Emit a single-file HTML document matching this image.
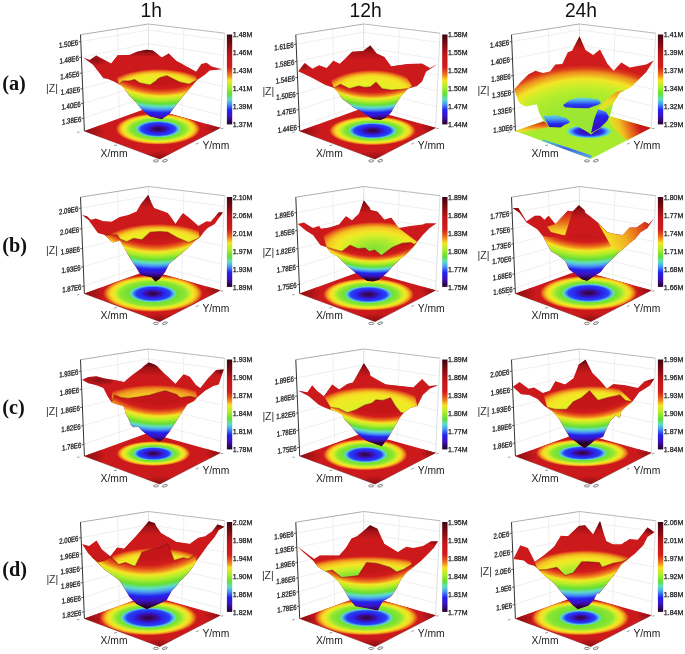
<!DOCTYPE html>
<html><head><meta charset="utf-8"><title>figure</title>
<style>html,body{margin:0;padding:0;background:#fff;width:685px;height:654px;overflow:hidden}svg{display:block;will-change:transform;filter:blur(0.4px)}</style>
</head><body><svg width="685" height="654" viewBox="0 0 685 654"><defs><clipPath id="clip1"><polygon points="84.4,131.1 159.7,159.1 220.3,127.8 148.4,107.7"/></clipPath><radialGradient id="rg2" gradientUnits="userSpaceOnUse" cx="0" cy="0" r="1" gradientTransform="translate(84.4 131.1) rotate(0) scale(22.40 9.80)"><stop offset="0.000" stop-color="#7a0c10"/><stop offset="0.500" stop-color="#a01216"/><stop offset="1.000" stop-color="#cc1a1c"/></radialGradient><radialGradient id="rg3" gradientUnits="userSpaceOnUse" cx="0" cy="0" r="1" gradientTransform="translate(159.7 159.1) rotate(0) scale(19.20 8.40)"><stop offset="0.000" stop-color="#7a0c10"/><stop offset="0.500" stop-color="#a01216"/><stop offset="1.000" stop-color="#cc1a1c"/></radialGradient><radialGradient id="rg4" gradientUnits="userSpaceOnUse" cx="0" cy="0" r="1" gradientTransform="translate(220.3 127.8) rotate(0) scale(16.00 7.00)"><stop offset="0.000" stop-color="#7a0c10"/><stop offset="0.500" stop-color="#a01216"/><stop offset="1.000" stop-color="#cc1a1c"/></radialGradient><radialGradient id="rg5" gradientUnits="userSpaceOnUse" cx="0" cy="0" r="1" gradientTransform="translate(158.0 129.0) rotate(0) scale(42.39 15.76)"><stop offset="0.000" stop-color="#2a0630"/><stop offset="0.109" stop-color="#3a0a70"/><stop offset="0.202" stop-color="#3a10b8"/><stop offset="0.273" stop-color="#2626ee"/><stop offset="0.403" stop-color="#2a40f0"/><stop offset="0.460" stop-color="#4aa0f2"/><stop offset="0.500" stop-color="#60dcc4"/><stop offset="0.540" stop-color="#70e034"/><stop offset="0.660" stop-color="#8ee632"/><stop offset="0.740" stop-color="#c8ee2a"/><stop offset="0.800" stop-color="#f4e624"/><stop offset="0.860" stop-color="#f4d024"/><stop offset="0.920" stop-color="#ec8a1e"/><stop offset="0.970" stop-color="#dc3a1a"/><stop offset="1.000" stop-color="#cc1a1c"/></radialGradient><linearGradient id="pg6" gradientUnits="userSpaceOnUse" x1="0" y1="49.7" x2="0" y2="57.7"><stop offset="0" stop-color="#4a0610" stop-opacity="1"/><stop offset="0.45" stop-color="#8a0e14" stop-opacity="0.6"/><stop offset="1" stop-color="#8a0e14" stop-opacity="0"/></linearGradient><clipPath id="sc7"><polygon points="83.2,57.5 89.7,60.1 96.2,55.6 111.2,63.4 117.7,55.3 129.4,54.9 137.1,51.7 146.2,49.7 152.7,50.4 155.2,52.3 161.7,57.5 168.8,53.6 176.0,60.8 186.4,66.6 196.1,71.8 201.3,64.0 206.5,62.7 211.7,66.6 222.1,69.2 209.7,70.5 204.5,75.0 196.8,80.3 189.0,89.4 182.5,97.0 176.0,105.0 169.5,114.0 161.7,119.2 150.0,116.6 145.0,112.7 141.0,108.8 135.8,102.3 129.4,95.8 122.9,86.8 119.0,84.2 113.8,81.6 107.9,79.0 103.4,78.3 93.0,64.7"/></clipPath><radialGradient id="rg8" gradientUnits="userSpaceOnUse" cx="0" cy="0" r="1" gradientTransform="translate(95.0 60.0) rotate(0) scale(14.00 6.00)"><stop offset="0.000" stop-color="#4a0610"/><stop offset="0.500" stop-color="#6a0a12"/><stop offset="1.000" stop-color="#8a0e14"/></radialGradient><radialGradient id="dk9" gradientUnits="userSpaceOnUse" cx="0" cy="0" r="1" gradientTransform="translate(95.0 60.0) scale(14.0 6.0)"><stop offset="0" stop-color="#4a0610" stop-opacity="0.55"/><stop offset="0.6" stop-color="#6a0a12" stop-opacity="0.28"/><stop offset="1" stop-color="#8a0e14" stop-opacity="0"/></radialGradient><radialGradient id="rg10" gradientUnits="userSpaceOnUse" cx="0" cy="0" r="1" gradientTransform="translate(158.0 90.0) rotate(0) scale(52.00 21.00)"><stop offset="0.000" stop-color="#c8ee2a"/><stop offset="0.500" stop-color="#e8ee26"/><stop offset="0.720" stop-color="#f4e624"/><stop offset="0.800" stop-color="#f4d024"/><stop offset="0.870" stop-color="#f0a020"/><stop offset="0.930" stop-color="#e8661c"/><stop offset="0.970" stop-color="#dc3a1a"/><stop offset="1.000" stop-color="#cc1a1c"/></radialGradient><radialGradient id="rg11" gradientUnits="userSpaceOnUse" cx="0" cy="0" r="1" gradientTransform="translate(161.7 20.3) rotate(0) scale(115.82 100.60)"><stop offset="0.000" stop-color="#c41619"/><stop offset="0.630" stop-color="#c41619"/><stop offset="0.680" stop-color="#d21c1c"/><stop offset="0.705" stop-color="#e04a1a"/><stop offset="0.730" stop-color="#f08a1e"/><stop offset="0.755" stop-color="#f4e624"/><stop offset="0.790" stop-color="#b4ee2a"/><stop offset="0.830" stop-color="#66de34"/><stop offset="0.860" stop-color="#60dcc4"/><stop offset="0.885" stop-color="#4a9ef2"/><stop offset="0.920" stop-color="#2222ee"/><stop offset="0.955" stop-color="#3e10c2"/><stop offset="1.000" stop-color="#260026"/></radialGradient><linearGradient id="lg12" gradientUnits="userSpaceOnUse" x1="0.0" y1="34.5" x2="0.0" y2="124.4"><stop offset="0.000" stop-color="#3a0612"/><stop offset="0.100" stop-color="#780a12"/><stop offset="0.220" stop-color="#be1418"/><stop offset="0.360" stop-color="#d21c1c"/><stop offset="0.410" stop-color="#e04a1a"/><stop offset="0.460" stop-color="#f08a1e"/><stop offset="0.510" stop-color="#f4e624"/><stop offset="0.580" stop-color="#b4ee2a"/><stop offset="0.660" stop-color="#66de34"/><stop offset="0.720" stop-color="#60dcc4"/><stop offset="0.770" stop-color="#4a9ef2"/><stop offset="0.840" stop-color="#2222ee"/><stop offset="0.910" stop-color="#3e10c2"/><stop offset="1.000" stop-color="#260026"/></linearGradient><clipPath id="clip13"><polygon points="299.7,131.1 375.0,159.1 435.6,127.8 363.7,107.7"/></clipPath><radialGradient id="rg14" gradientUnits="userSpaceOnUse" cx="0" cy="0" r="1" gradientTransform="translate(299.7 131.1) rotate(0) scale(22.40 9.80)"><stop offset="0.000" stop-color="#7a0c10"/><stop offset="0.500" stop-color="#a01216"/><stop offset="1.000" stop-color="#cc1a1c"/></radialGradient><radialGradient id="rg15" gradientUnits="userSpaceOnUse" cx="0" cy="0" r="1" gradientTransform="translate(375.0 159.1) rotate(0) scale(19.20 8.40)"><stop offset="0.000" stop-color="#7a0c10"/><stop offset="0.500" stop-color="#a01216"/><stop offset="1.000" stop-color="#cc1a1c"/></radialGradient><radialGradient id="rg16" gradientUnits="userSpaceOnUse" cx="0" cy="0" r="1" gradientTransform="translate(435.6 127.8) rotate(0) scale(16.00 7.00)"><stop offset="0.000" stop-color="#7a0c10"/><stop offset="0.500" stop-color="#a01216"/><stop offset="1.000" stop-color="#cc1a1c"/></radialGradient><radialGradient id="rg17" gradientUnits="userSpaceOnUse" cx="0" cy="0" r="1" gradientTransform="translate(372.5 130.7) rotate(0) scale(43.48 14.67)"><stop offset="0.000" stop-color="#2a0630"/><stop offset="0.114" stop-color="#3a0a70"/><stop offset="0.211" stop-color="#3a10b8"/><stop offset="0.286" stop-color="#2626ee"/><stop offset="0.422" stop-color="#2a40f0"/><stop offset="0.480" stop-color="#4aa0f2"/><stop offset="0.520" stop-color="#60dcc4"/><stop offset="0.560" stop-color="#70e034"/><stop offset="0.660" stop-color="#8ee632"/><stop offset="0.740" stop-color="#c8ee2a"/><stop offset="0.800" stop-color="#f4e624"/><stop offset="0.860" stop-color="#f4d024"/><stop offset="0.920" stop-color="#ec8a1e"/><stop offset="0.970" stop-color="#dc3a1a"/><stop offset="1.000" stop-color="#cc1a1c"/></radialGradient><linearGradient id="pg18" gradientUnits="userSpaceOnUse" x1="0" y1="45.5" x2="0" y2="59.5"><stop offset="0" stop-color="#4a0610" stop-opacity="1"/><stop offset="0.45" stop-color="#8a0e14" stop-opacity="0.6"/><stop offset="1" stop-color="#8a0e14" stop-opacity="0"/></linearGradient><clipPath id="sc19"><polygon points="298.2,71.2 304.7,63.1 312.5,68.8 319.0,65.3 326.8,67.9 333.3,60.8 339.8,64.0 352.1,51.7 363.2,51.0 370.2,45.5 376.7,53.6 384.5,56.9 391.0,66.6 406.6,64.0 422.1,63.4 429.9,67.9 437.7,64.0 426.0,71.8 422.1,81.6 417.0,86.1 407.9,88.7 401.4,95.8 396.2,103.6 391.0,112.7 385.8,117.9 380.6,119.9 372.9,119.2 366.4,115.3 359.9,110.8 353.4,107.5 347.0,102.3 341.8,98.4 337.9,92.0 334.0,88.0 324.9,84.8 310.6,77.0"/></clipPath><radialGradient id="rg20" gradientUnits="userSpaceOnUse" cx="0" cy="0" r="1" gradientTransform="translate(303.0 66.0) rotate(0) scale(8.00 5.00)"><stop offset="0.000" stop-color="#4a0610"/><stop offset="0.500" stop-color="#6a0a12"/><stop offset="1.000" stop-color="#8a0e14"/></radialGradient><radialGradient id="dk21" gradientUnits="userSpaceOnUse" cx="0" cy="0" r="1" gradientTransform="translate(303.0 66.0) scale(8.0 5.0)"><stop offset="0" stop-color="#4a0610" stop-opacity="0.5"/><stop offset="0.6" stop-color="#6a0a12" stop-opacity="0.25"/><stop offset="1" stop-color="#8a0e14" stop-opacity="0"/></radialGradient><radialGradient id="rg22" gradientUnits="userSpaceOnUse" cx="0" cy="0" r="1" gradientTransform="translate(372.0 95.0) rotate(0) scale(51.00 25.00)"><stop offset="0.000" stop-color="#c8ee2a"/><stop offset="0.500" stop-color="#e8ee26"/><stop offset="0.720" stop-color="#f4e624"/><stop offset="0.800" stop-color="#f4d024"/><stop offset="0.870" stop-color="#f0a020"/><stop offset="0.930" stop-color="#e8661c"/><stop offset="0.970" stop-color="#dc3a1a"/><stop offset="1.000" stop-color="#cc1a1c"/></radialGradient><radialGradient id="rg23" gradientUnits="userSpaceOnUse" cx="0" cy="0" r="1" gradientTransform="translate(372.9 34.1) rotate(0) scale(106.71 85.40)"><stop offset="0.000" stop-color="#c41619"/><stop offset="0.630" stop-color="#c41619"/><stop offset="0.680" stop-color="#d21c1c"/><stop offset="0.705" stop-color="#e04a1a"/><stop offset="0.730" stop-color="#f08a1e"/><stop offset="0.755" stop-color="#f4e624"/><stop offset="0.790" stop-color="#b4ee2a"/><stop offset="0.830" stop-color="#66de34"/><stop offset="0.860" stop-color="#60dcc4"/><stop offset="0.885" stop-color="#4a9ef2"/><stop offset="0.920" stop-color="#2222ee"/><stop offset="0.955" stop-color="#3e10c2"/><stop offset="1.000" stop-color="#260026"/></radialGradient><linearGradient id="lg24" gradientUnits="userSpaceOnUse" x1="0.0" y1="34.5" x2="0.0" y2="124.4"><stop offset="0.000" stop-color="#3a0612"/><stop offset="0.100" stop-color="#780a12"/><stop offset="0.220" stop-color="#be1418"/><stop offset="0.360" stop-color="#d21c1c"/><stop offset="0.410" stop-color="#e04a1a"/><stop offset="0.460" stop-color="#f08a1e"/><stop offset="0.510" stop-color="#f4e624"/><stop offset="0.580" stop-color="#b4ee2a"/><stop offset="0.660" stop-color="#66de34"/><stop offset="0.720" stop-color="#60dcc4"/><stop offset="0.770" stop-color="#4a9ef2"/><stop offset="0.840" stop-color="#2222ee"/><stop offset="0.910" stop-color="#3e10c2"/><stop offset="1.000" stop-color="#260026"/></linearGradient><clipPath id="clip25"><polygon points="515.4,131.1 590.7,159.1 651.3,127.8 579.4,107.7"/></clipPath><linearGradient id="lg26" gradientUnits="userSpaceOnUse" x1="0.0" y1="121.0" x2="0.0" y2="133.0"><stop offset="0.000" stop-color="#c81818"/><stop offset="0.375" stop-color="#e8661c"/><stop offset="0.750" stop-color="#f2d426"/><stop offset="1.000" stop-color="#c8ee2a"/></linearGradient><linearGradient id="lg27" gradientUnits="userSpaceOnUse" x1="612.0" y1="134.0" x2="645.0" y2="122.0"><stop offset="0.000" stop-color="#d8ee28"/><stop offset="0.300" stop-color="#f0c020"/><stop offset="0.550" stop-color="#e8661c"/><stop offset="0.800" stop-color="#cc1a1c"/><stop offset="1.000" stop-color="#c01818"/></linearGradient><linearGradient id="lg28" gradientUnits="userSpaceOnUse" x1="0.0" y1="139.0" x2="0.0" y2="158.0"><stop offset="0.000" stop-color="#60dcc4"/><stop offset="0.500" stop-color="#3a64f0"/><stop offset="1.000" stop-color="#60a8f0"/></linearGradient><radialGradient id="rg29" gradientUnits="userSpaceOnUse" cx="0" cy="0" r="1" gradientTransform="translate(589.0 131.5) rotate(0) scale(23.00 7.00)"><stop offset="0.000" stop-color="#3a0870"/><stop offset="0.300" stop-color="#3a10b8"/><stop offset="0.600" stop-color="#2a30f0"/><stop offset="0.780" stop-color="#4a9ef2"/><stop offset="0.900" stop-color="#60dcc4"/><stop offset="1.000" stop-color="#a8ea2e"/></radialGradient><radialGradient id="rg30" gradientUnits="userSpaceOnUse" cx="0" cy="0" r="1" gradientTransform="translate(585.0 135.0) rotate(0) scale(110.00 70.00)"><stop offset="0.000" stop-color="#96e632"/><stop offset="0.450" stop-color="#a0e830"/><stop offset="0.610" stop-color="#b0ec2c"/><stop offset="0.700" stop-color="#c8ee2a"/><stop offset="0.800" stop-color="#f2e626"/><stop offset="0.860" stop-color="#f0b020"/><stop offset="0.900" stop-color="#ec8a1e"/><stop offset="0.950" stop-color="#dc401a"/><stop offset="1.000" stop-color="#d01c1c"/></radialGradient><linearGradient id="pg31" gradientUnits="userSpaceOnUse" x1="0" y1="36.4" x2="0" y2="50.4"><stop offset="0" stop-color="#4a0610" stop-opacity="1"/><stop offset="0.45" stop-color="#8a0e14" stop-opacity="0.6"/><stop offset="1" stop-color="#8a0e14" stop-opacity="0"/></linearGradient><clipPath id="sc32"><polygon points="514.1,89.4 521.0,81.8 528.6,74.2 535.5,70.8 543.0,72.9 549.9,71.5 555.4,64.6 562.3,63.9 567.8,52.2 572.0,50.8 579.5,36.4 585.5,50.1 593.1,55.0 600.0,49.5 607.5,63.9 613.7,70.8 621.3,62.5 629.6,67.4 646.1,64.6 653.7,60.5 646.1,72.2 637.8,80.4 630.9,87.3 625.4,90.1 619.9,92.8 613.0,103.8 610.3,114.9 607.5,120.4 606.2,125.0 600.0,128.5 594.0,132.0 591.3,134.6 584.0,130.0 571.0,123.0 565.0,124.5 560.0,128.0 549.4,127.2 542.9,120.0 538.9,112.1 536.9,104.2 526.5,106.6 522.5,104.9 519.0,102.5"/></clipPath><linearGradient id="lg33" gradientUnits="userSpaceOnUse" x1="0.0" y1="97.5" x2="0.0" y2="108.0"><stop offset="0.000" stop-color="#70e0c8"/><stop offset="0.333" stop-color="#4a9ef2"/><stop offset="0.667" stop-color="#2a40f0"/><stop offset="1.000" stop-color="#2a20d0"/></linearGradient><linearGradient id="lg34" gradientUnits="userSpaceOnUse" x1="0.0" y1="115.0" x2="0.0" y2="127.5"><stop offset="0.000" stop-color="#60dcc4"/><stop offset="0.320" stop-color="#4a9ef2"/><stop offset="0.720" stop-color="#2424ee"/><stop offset="1.000" stop-color="#3010b0"/></linearGradient><linearGradient id="lg35" gradientUnits="userSpaceOnUse" x1="0.0" y1="90.0" x2="0.0" y2="113.0"><stop offset="0.000" stop-color="#ec8a1e"/><stop offset="0.435" stop-color="#f2d826"/><stop offset="1.000" stop-color="#c8ee2a"/></linearGradient><linearGradient id="lg36" gradientUnits="userSpaceOnUse" x1="0.0" y1="109.0" x2="0.0" y2="128.0"><stop offset="0.000" stop-color="#4a9ef2"/><stop offset="0.368" stop-color="#2424ee"/><stop offset="1.000" stop-color="#3a10c0"/></linearGradient><linearGradient id="lg37" gradientUnits="userSpaceOnUse" x1="0.0" y1="34.5" x2="0.0" y2="124.4"><stop offset="0.000" stop-color="#3a0612"/><stop offset="0.100" stop-color="#780a12"/><stop offset="0.220" stop-color="#be1418"/><stop offset="0.360" stop-color="#d21c1c"/><stop offset="0.410" stop-color="#e04a1a"/><stop offset="0.460" stop-color="#f08a1e"/><stop offset="0.510" stop-color="#f4e624"/><stop offset="0.580" stop-color="#b4ee2a"/><stop offset="0.660" stop-color="#66de34"/><stop offset="0.720" stop-color="#60dcc4"/><stop offset="0.770" stop-color="#4a9ef2"/><stop offset="0.840" stop-color="#2222ee"/><stop offset="0.910" stop-color="#3e10c2"/><stop offset="1.000" stop-color="#260026"/></linearGradient><clipPath id="clip38"><polygon points="84.4,293.6 159.7,321.6 220.3,290.3 148.4,270.2"/></clipPath><radialGradient id="rg39" gradientUnits="userSpaceOnUse" cx="0" cy="0" r="1" gradientTransform="translate(84.4 293.6) rotate(0) scale(22.40 9.80)"><stop offset="0.000" stop-color="#7a0c10"/><stop offset="0.500" stop-color="#a01216"/><stop offset="1.000" stop-color="#cc1a1c"/></radialGradient><radialGradient id="rg40" gradientUnits="userSpaceOnUse" cx="0" cy="0" r="1" gradientTransform="translate(159.7 321.6) rotate(0) scale(19.20 8.40)"><stop offset="0.000" stop-color="#7a0c10"/><stop offset="0.500" stop-color="#a01216"/><stop offset="1.000" stop-color="#cc1a1c"/></radialGradient><radialGradient id="rg41" gradientUnits="userSpaceOnUse" cx="0" cy="0" r="1" gradientTransform="translate(220.3 290.3) rotate(0) scale(16.00 7.00)"><stop offset="0.000" stop-color="#7a0c10"/><stop offset="0.500" stop-color="#a01216"/><stop offset="1.000" stop-color="#cc1a1c"/></radialGradient><radialGradient id="rg42" gradientUnits="userSpaceOnUse" cx="0" cy="0" r="1" gradientTransform="translate(153.0 293.6) rotate(0) scale(50.00 18.48)"><stop offset="0.000" stop-color="#2a0630"/><stop offset="0.094" stop-color="#3a0a70"/><stop offset="0.173" stop-color="#3a10b8"/><stop offset="0.234" stop-color="#2626ee"/><stop offset="0.346" stop-color="#2a40f0"/><stop offset="0.400" stop-color="#4aa0f2"/><stop offset="0.440" stop-color="#60dcc4"/><stop offset="0.480" stop-color="#70e034"/><stop offset="0.660" stop-color="#8ee632"/><stop offset="0.740" stop-color="#c8ee2a"/><stop offset="0.800" stop-color="#f4e624"/><stop offset="0.860" stop-color="#f4d024"/><stop offset="0.920" stop-color="#ec8a1e"/><stop offset="0.970" stop-color="#dc3a1a"/><stop offset="1.000" stop-color="#cc1a1c"/></radialGradient><linearGradient id="pg43" gradientUnits="userSpaceOnUse" x1="0" y1="195.0" x2="0" y2="209.0"><stop offset="0" stop-color="#4a0610" stop-opacity="1"/><stop offset="0.45" stop-color="#8a0e14" stop-opacity="0.6"/><stop offset="1" stop-color="#8a0e14" stop-opacity="0"/></linearGradient><clipPath id="sc44"><polygon points="82.1,215.0 86.9,216.3 91.0,219.8 95.8,218.4 103.4,221.2 111.7,221.8 119.9,217.0 128.2,215.0 136.5,211.5 140.6,204.6 148.2,195.0 151.6,203.3 154.1,208.1 167.9,212.9 175.5,223.9 183.0,212.9 191.3,219.8 198.2,226.0 206.5,221.2 210.6,221.8 218.8,212.2 223.0,212.2 214.7,223.9 207.8,228.0 203.7,232.2 199.6,237.7 195.4,240.4 187.2,248.7 177.5,257.0 169.3,263.8 165.1,272.1 159.6,279.0 155.5,281.7 151.6,277.6 140.6,274.9 136.5,268.0 130.9,259.7 125.4,250.1 119.9,240.4 113.0,242.5 110.3,240.4 104.8,234.9 97.9,232.9 88.3,219.8"/></clipPath><radialGradient id="rg45" gradientUnits="userSpaceOnUse" cx="0" cy="0" r="1" gradientTransform="translate(221.0 214.0) rotate(0) scale(7.00 4.00)"><stop offset="0.000" stop-color="#4a0610"/><stop offset="0.500" stop-color="#6a0a12"/><stop offset="1.000" stop-color="#8a0e14"/></radialGradient><radialGradient id="dk46" gradientUnits="userSpaceOnUse" cx="0" cy="0" r="1" gradientTransform="translate(221.0 214.0) scale(7.0 4.0)"><stop offset="0" stop-color="#4a0610" stop-opacity="0.7"/><stop offset="0.6" stop-color="#6a0a12" stop-opacity="0.35"/><stop offset="1" stop-color="#8a0e14" stop-opacity="0"/></radialGradient><radialGradient id="rg47" gradientUnits="userSpaceOnUse" cx="0" cy="0" r="1" gradientTransform="translate(86.0 217.0) rotate(0) scale(6.00 4.00)"><stop offset="0.000" stop-color="#4a0610"/><stop offset="0.500" stop-color="#6a0a12"/><stop offset="1.000" stop-color="#8a0e14"/></radialGradient><radialGradient id="dk48" gradientUnits="userSpaceOnUse" cx="0" cy="0" r="1" gradientTransform="translate(86.0 217.0) scale(6.0 4.0)"><stop offset="0" stop-color="#4a0610" stop-opacity="0.5"/><stop offset="0.6" stop-color="#6a0a12" stop-opacity="0.25"/><stop offset="1" stop-color="#8a0e14" stop-opacity="0"/></radialGradient><radialGradient id="rg49" gradientUnits="userSpaceOnUse" cx="0" cy="0" r="1" gradientTransform="translate(158.0 248.0) rotate(0) scale(60.00 24.00)"><stop offset="0.000" stop-color="#c8ee2a"/><stop offset="0.500" stop-color="#e8ee26"/><stop offset="0.720" stop-color="#f4e624"/><stop offset="0.800" stop-color="#f4d024"/><stop offset="0.870" stop-color="#f0a020"/><stop offset="0.930" stop-color="#e8661c"/><stop offset="0.970" stop-color="#dc3a1a"/><stop offset="1.000" stop-color="#cc1a1c"/></radialGradient><radialGradient id="rg50" gradientUnits="userSpaceOnUse" cx="0" cy="0" r="1" gradientTransform="translate(155.5 171.9) rotate(0) scale(118.88 106.00)"><stop offset="0.000" stop-color="#c41619"/><stop offset="0.630" stop-color="#c41619"/><stop offset="0.680" stop-color="#d21c1c"/><stop offset="0.705" stop-color="#e04a1a"/><stop offset="0.730" stop-color="#f08a1e"/><stop offset="0.755" stop-color="#f4e624"/><stop offset="0.790" stop-color="#b4ee2a"/><stop offset="0.830" stop-color="#66de34"/><stop offset="0.860" stop-color="#60dcc4"/><stop offset="0.885" stop-color="#4a9ef2"/><stop offset="0.920" stop-color="#2222ee"/><stop offset="0.955" stop-color="#3e10c2"/><stop offset="1.000" stop-color="#260026"/></radialGradient><linearGradient id="lg51" gradientUnits="userSpaceOnUse" x1="0.0" y1="197.0" x2="0.0" y2="286.9"><stop offset="0.000" stop-color="#3a0612"/><stop offset="0.100" stop-color="#780a12"/><stop offset="0.220" stop-color="#be1418"/><stop offset="0.360" stop-color="#d21c1c"/><stop offset="0.410" stop-color="#e04a1a"/><stop offset="0.460" stop-color="#f08a1e"/><stop offset="0.510" stop-color="#f4e624"/><stop offset="0.580" stop-color="#b4ee2a"/><stop offset="0.660" stop-color="#66de34"/><stop offset="0.720" stop-color="#60dcc4"/><stop offset="0.770" stop-color="#4a9ef2"/><stop offset="0.840" stop-color="#2222ee"/><stop offset="0.910" stop-color="#3e10c2"/><stop offset="1.000" stop-color="#260026"/></linearGradient><clipPath id="clip52"><polygon points="299.7,293.6 375.0,321.6 435.6,290.3 363.7,270.2"/></clipPath><radialGradient id="rg53" gradientUnits="userSpaceOnUse" cx="0" cy="0" r="1" gradientTransform="translate(299.7 293.6) rotate(0) scale(22.40 9.80)"><stop offset="0.000" stop-color="#7a0c10"/><stop offset="0.500" stop-color="#a01216"/><stop offset="1.000" stop-color="#cc1a1c"/></radialGradient><radialGradient id="rg54" gradientUnits="userSpaceOnUse" cx="0" cy="0" r="1" gradientTransform="translate(375.0 321.6) rotate(0) scale(19.20 8.40)"><stop offset="0.000" stop-color="#7a0c10"/><stop offset="0.500" stop-color="#a01216"/><stop offset="1.000" stop-color="#cc1a1c"/></radialGradient><radialGradient id="rg55" gradientUnits="userSpaceOnUse" cx="0" cy="0" r="1" gradientTransform="translate(435.6 290.3) rotate(0) scale(16.00 7.00)"><stop offset="0.000" stop-color="#7a0c10"/><stop offset="0.500" stop-color="#a01216"/><stop offset="1.000" stop-color="#cc1a1c"/></radialGradient><radialGradient id="rg56" gradientUnits="userSpaceOnUse" cx="0" cy="0" r="1" gradientTransform="translate(368.5 294.5) rotate(0) scale(45.65 16.30)"><stop offset="0.000" stop-color="#2a0630"/><stop offset="0.107" stop-color="#3a0a70"/><stop offset="0.197" stop-color="#3a10b8"/><stop offset="0.267" stop-color="#2626ee"/><stop offset="0.394" stop-color="#2a40f0"/><stop offset="0.450" stop-color="#4aa0f2"/><stop offset="0.490" stop-color="#60dcc4"/><stop offset="0.530" stop-color="#70e034"/><stop offset="0.660" stop-color="#8ee632"/><stop offset="0.740" stop-color="#c8ee2a"/><stop offset="0.800" stop-color="#f4e624"/><stop offset="0.860" stop-color="#f4d024"/><stop offset="0.920" stop-color="#ec8a1e"/><stop offset="0.970" stop-color="#dc3a1a"/><stop offset="1.000" stop-color="#cc1a1c"/></radialGradient><linearGradient id="pg57" gradientUnits="userSpaceOnUse" x1="0" y1="200.5" x2="0" y2="214.5"><stop offset="0" stop-color="#4a0610" stop-opacity="1"/><stop offset="0.45" stop-color="#8a0e14" stop-opacity="0.6"/><stop offset="1" stop-color="#8a0e14" stop-opacity="0"/></linearGradient><clipPath id="sc58"><polygon points="297.8,223.9 303.9,222.5 312.9,228.0 319.1,226.0 321.2,228.7 329.4,227.4 339.1,224.6 345.9,216.3 352.1,220.5 359.0,213.6 363.8,200.5 370.0,208.1 370.5,210.1 377.4,211.5 384.3,219.8 391.2,217.7 398.7,228.0 410.4,226.0 422.8,224.6 425.6,223.2 436.6,223.2 429.7,228.0 422.8,234.9 417.3,241.8 413.2,247.3 406.3,254.2 399.4,259.7 392.5,266.6 388.1,271.8 378.8,280.0 373.3,281.5 367.1,281.1 360.0,276.4 348.4,267.1 343.0,262.0 337.0,256.0 330.8,252.8 326.7,247.3 320.5,245.3 312.9,234.9 306.0,230.8"/></clipPath><radialGradient id="rg59" gradientUnits="userSpaceOnUse" cx="0" cy="0" r="1" gradientTransform="translate(375.0 249.0) rotate(0) scale(60.00 27.00)"><stop offset="0.000" stop-color="#80e034"/><stop offset="0.300" stop-color="#a8ea2e"/><stop offset="0.500" stop-color="#d8ee28"/><stop offset="0.650" stop-color="#f4e624"/><stop offset="0.800" stop-color="#f4c424"/><stop offset="0.900" stop-color="#ec7a1c"/><stop offset="0.970" stop-color="#dc3a1a"/><stop offset="1.000" stop-color="#cc1a1c"/></radialGradient><radialGradient id="rg60" gradientUnits="userSpaceOnUse" cx="0" cy="0" r="1" gradientTransform="translate(373.3 205.4) rotate(0) scale(99.33 74.00)"><stop offset="0.000" stop-color="#c41619"/><stop offset="0.630" stop-color="#c41619"/><stop offset="0.680" stop-color="#d21c1c"/><stop offset="0.705" stop-color="#e04a1a"/><stop offset="0.730" stop-color="#f08a1e"/><stop offset="0.755" stop-color="#f4e624"/><stop offset="0.790" stop-color="#b4ee2a"/><stop offset="0.830" stop-color="#66de34"/><stop offset="0.860" stop-color="#60dcc4"/><stop offset="0.885" stop-color="#4a9ef2"/><stop offset="0.920" stop-color="#2222ee"/><stop offset="0.955" stop-color="#3e10c2"/><stop offset="1.000" stop-color="#260026"/></radialGradient><linearGradient id="lg61" gradientUnits="userSpaceOnUse" x1="0.0" y1="197.0" x2="0.0" y2="286.9"><stop offset="0.000" stop-color="#3a0612"/><stop offset="0.100" stop-color="#780a12"/><stop offset="0.220" stop-color="#be1418"/><stop offset="0.360" stop-color="#d21c1c"/><stop offset="0.410" stop-color="#e04a1a"/><stop offset="0.460" stop-color="#f08a1e"/><stop offset="0.510" stop-color="#f4e624"/><stop offset="0.580" stop-color="#b4ee2a"/><stop offset="0.660" stop-color="#66de34"/><stop offset="0.720" stop-color="#60dcc4"/><stop offset="0.770" stop-color="#4a9ef2"/><stop offset="0.840" stop-color="#2222ee"/><stop offset="0.910" stop-color="#3e10c2"/><stop offset="1.000" stop-color="#260026"/></linearGradient><clipPath id="clip62"><polygon points="515.4,293.6 590.7,321.6 651.3,290.3 579.4,270.2"/></clipPath><radialGradient id="rg63" gradientUnits="userSpaceOnUse" cx="0" cy="0" r="1" gradientTransform="translate(515.4 293.6) rotate(0) scale(22.40 9.80)"><stop offset="0.000" stop-color="#7a0c10"/><stop offset="0.500" stop-color="#a01216"/><stop offset="1.000" stop-color="#cc1a1c"/></radialGradient><radialGradient id="rg64" gradientUnits="userSpaceOnUse" cx="0" cy="0" r="1" gradientTransform="translate(590.7 321.6) rotate(0) scale(19.20 8.40)"><stop offset="0.000" stop-color="#7a0c10"/><stop offset="0.500" stop-color="#a01216"/><stop offset="1.000" stop-color="#cc1a1c"/></radialGradient><radialGradient id="rg65" gradientUnits="userSpaceOnUse" cx="0" cy="0" r="1" gradientTransform="translate(651.3 290.3) rotate(0) scale(16.00 7.00)"><stop offset="0.000" stop-color="#7a0c10"/><stop offset="0.500" stop-color="#a01216"/><stop offset="1.000" stop-color="#cc1a1c"/></radialGradient><radialGradient id="rg66" gradientUnits="userSpaceOnUse" cx="0" cy="0" r="1" gradientTransform="translate(588.5 293.0) rotate(0) scale(48.91 17.39)"><stop offset="0.000" stop-color="#2a0630"/><stop offset="0.112" stop-color="#3a0a70"/><stop offset="0.206" stop-color="#3a10b8"/><stop offset="0.280" stop-color="#2626ee"/><stop offset="0.413" stop-color="#2a40f0"/><stop offset="0.470" stop-color="#4aa0f2"/><stop offset="0.510" stop-color="#60dcc4"/><stop offset="0.550" stop-color="#70e034"/><stop offset="0.660" stop-color="#8ee632"/><stop offset="0.740" stop-color="#c8ee2a"/><stop offset="0.800" stop-color="#f4e624"/><stop offset="0.860" stop-color="#f4d024"/><stop offset="0.920" stop-color="#ec8a1e"/><stop offset="0.970" stop-color="#dc3a1a"/><stop offset="1.000" stop-color="#cc1a1c"/></radialGradient><linearGradient id="pg67" gradientUnits="userSpaceOnUse" x1="0" y1="205.3" x2="0" y2="219.3"><stop offset="0" stop-color="#4a0610" stop-opacity="1"/><stop offset="0.45" stop-color="#8a0e14" stop-opacity="0.6"/><stop offset="1" stop-color="#8a0e14" stop-opacity="0"/></linearGradient><clipPath id="sc68"><polygon points="512.8,208.1 518.3,208.1 526.5,221.2 534.8,215.7 540.3,215.7 544.4,219.8 548.6,215.7 555.4,223.9 567.8,210.8 572.6,211.5 578.8,205.3 584.4,210.1 585.5,212.9 591.0,217.0 597.9,222.5 607.5,232.2 615.8,234.2 622.7,234.9 629.6,227.4 636.5,227.4 644.7,221.8 648.8,223.9 653.7,218.4 647.5,228.0 640.6,232.2 635.1,239.0 629.6,243.2 625.4,247.3 618.6,252.8 611.7,259.7 604.8,266.6 600.7,272.1 596.0,275.0 587.0,281.0 581.6,279.2 575.0,274.0 569.2,269.4 565.1,261.1 558.2,255.6 551.3,251.5 547.2,244.6 543.0,236.3 537.5,229.4 526.5,222.5 519.6,212.9"/></clipPath><linearGradient id="lg69" gradientUnits="userSpaceOnUse" x1="0.0" y1="212.0" x2="0.0" y2="236.0"><stop offset="0.000" stop-color="#d01c1c"/><stop offset="0.417" stop-color="#e86a1c"/><stop offset="0.750" stop-color="#f4c424"/><stop offset="1.000" stop-color="#f4ec24"/></linearGradient><radialGradient id="rg70" gradientUnits="userSpaceOnUse" cx="0" cy="0" r="1" gradientTransform="translate(587.0 162.4) rotate(0) scale(124.90 117.00)"><stop offset="0.000" stop-color="#c41619"/><stop offset="0.630" stop-color="#c41619"/><stop offset="0.680" stop-color="#d21c1c"/><stop offset="0.705" stop-color="#e04a1a"/><stop offset="0.730" stop-color="#f08a1e"/><stop offset="0.755" stop-color="#f4e624"/><stop offset="0.790" stop-color="#b4ee2a"/><stop offset="0.830" stop-color="#66de34"/><stop offset="0.860" stop-color="#60dcc4"/><stop offset="0.885" stop-color="#4a9ef2"/><stop offset="0.920" stop-color="#2222ee"/><stop offset="0.955" stop-color="#3e10c2"/><stop offset="1.000" stop-color="#260026"/></radialGradient><linearGradient id="lg71" gradientUnits="userSpaceOnUse" x1="608.0" y1="242.0" x2="652.0" y2="222.0"><stop offset="0.000" stop-color="#f2e226"/><stop offset="0.350" stop-color="#f0b020"/><stop offset="0.700" stop-color="#e4561a"/><stop offset="1.000" stop-color="#c81818"/></linearGradient><linearGradient id="lg72" gradientUnits="userSpaceOnUse" x1="0.0" y1="197.0" x2="0.0" y2="286.9"><stop offset="0.000" stop-color="#3a0612"/><stop offset="0.100" stop-color="#780a12"/><stop offset="0.220" stop-color="#be1418"/><stop offset="0.360" stop-color="#d21c1c"/><stop offset="0.410" stop-color="#e04a1a"/><stop offset="0.460" stop-color="#f08a1e"/><stop offset="0.510" stop-color="#f4e624"/><stop offset="0.580" stop-color="#b4ee2a"/><stop offset="0.660" stop-color="#66de34"/><stop offset="0.720" stop-color="#60dcc4"/><stop offset="0.770" stop-color="#4a9ef2"/><stop offset="0.840" stop-color="#2222ee"/><stop offset="0.910" stop-color="#3e10c2"/><stop offset="1.000" stop-color="#260026"/></linearGradient><clipPath id="clip73"><polygon points="84.4,456.1 159.7,484.1 220.3,452.8 148.4,432.7"/></clipPath><radialGradient id="rg74" gradientUnits="userSpaceOnUse" cx="0" cy="0" r="1" gradientTransform="translate(84.4 456.1) rotate(0) scale(22.40 9.80)"><stop offset="0.000" stop-color="#7a0c10"/><stop offset="0.500" stop-color="#a01216"/><stop offset="1.000" stop-color="#cc1a1c"/></radialGradient><radialGradient id="rg75" gradientUnits="userSpaceOnUse" cx="0" cy="0" r="1" gradientTransform="translate(159.7 484.1) rotate(0) scale(19.20 8.40)"><stop offset="0.000" stop-color="#7a0c10"/><stop offset="0.500" stop-color="#a01216"/><stop offset="1.000" stop-color="#cc1a1c"/></radialGradient><radialGradient id="rg76" gradientUnits="userSpaceOnUse" cx="0" cy="0" r="1" gradientTransform="translate(220.3 452.8) rotate(0) scale(16.00 7.00)"><stop offset="0.000" stop-color="#7a0c10"/><stop offset="0.500" stop-color="#a01216"/><stop offset="1.000" stop-color="#cc1a1c"/></radialGradient><radialGradient id="rg77" gradientUnits="userSpaceOnUse" cx="0" cy="0" r="1" gradientTransform="translate(153.5 453.6) rotate(0) scale(36.96 12.50)"><stop offset="0.000" stop-color="#2a0630"/><stop offset="0.114" stop-color="#3a0a70"/><stop offset="0.211" stop-color="#3a10b8"/><stop offset="0.286" stop-color="#2626ee"/><stop offset="0.422" stop-color="#2a40f0"/><stop offset="0.480" stop-color="#4aa0f2"/><stop offset="0.520" stop-color="#60dcc4"/><stop offset="0.560" stop-color="#70e034"/><stop offset="0.660" stop-color="#8ee632"/><stop offset="0.740" stop-color="#c8ee2a"/><stop offset="0.800" stop-color="#f4e624"/><stop offset="0.860" stop-color="#f4d024"/><stop offset="0.920" stop-color="#ec8a1e"/><stop offset="0.970" stop-color="#dc3a1a"/><stop offset="1.000" stop-color="#cc1a1c"/></radialGradient><linearGradient id="pg78" gradientUnits="userSpaceOnUse" x1="0" y1="362.6" x2="0" y2="376.6"><stop offset="0" stop-color="#4a0610" stop-opacity="1"/><stop offset="0.45" stop-color="#8a0e14" stop-opacity="0.6"/><stop offset="1" stop-color="#8a0e14" stop-opacity="0"/></linearGradient><clipPath id="sc79"><polygon points="82.1,379.8 88.3,377.0 96.5,376.3 104.8,378.4 113.0,379.8 124.1,381.9 132.3,375.0 142.0,368.1 144.0,366.0 148.8,362.6 154.4,364.6 156.9,366.0 163.8,372.9 175.5,383.9 183.7,374.3 189.9,377.0 195.4,384.6 200.3,388.0 207.8,378.4 216.1,370.1 223.7,369.5 218.8,384.6 213.3,386.0 205.1,390.8 196.8,397.7 194.1,401.1 187.2,404.6 181.7,412.8 174.8,423.8 169.3,432.1 163.8,439.0 159.6,441.7 157.1,441.1 148.8,436.2 142.0,430.7 137.8,426.6 133.7,427.3 130.9,425.2 128.2,418.3 125.4,412.8 124.1,407.3 122.7,405.9 115.8,403.9 111.7,402.5 107.5,396.3 103.4,388.0 96.5,385.3 88.3,383.2"/></clipPath><radialGradient id="rg80" gradientUnits="userSpaceOnUse" cx="0" cy="0" r="1" gradientTransform="translate(100.0 380.0) rotate(0) scale(22.00 6.00)"><stop offset="0.000" stop-color="#4a0610"/><stop offset="0.500" stop-color="#6a0a12"/><stop offset="1.000" stop-color="#8a0e14"/></radialGradient><radialGradient id="dk81" gradientUnits="userSpaceOnUse" cx="0" cy="0" r="1" gradientTransform="translate(100.0 380.0) scale(22.0 6.0)"><stop offset="0" stop-color="#4a0610" stop-opacity="0.55"/><stop offset="0.6" stop-color="#6a0a12" stop-opacity="0.28"/><stop offset="1" stop-color="#8a0e14" stop-opacity="0"/></radialGradient><radialGradient id="rg82" gradientUnits="userSpaceOnUse" cx="0" cy="0" r="1" gradientTransform="translate(221.0 371.0) rotate(0) scale(7.00 4.00)"><stop offset="0.000" stop-color="#4a0610"/><stop offset="0.500" stop-color="#6a0a12"/><stop offset="1.000" stop-color="#8a0e14"/></radialGradient><radialGradient id="dk83" gradientUnits="userSpaceOnUse" cx="0" cy="0" r="1" gradientTransform="translate(221.0 371.0) scale(7.0 4.0)"><stop offset="0" stop-color="#4a0610" stop-opacity="0.8"/><stop offset="0.6" stop-color="#6a0a12" stop-opacity="0.40"/><stop offset="1" stop-color="#8a0e14" stop-opacity="0"/></radialGradient><radialGradient id="rg84" gradientUnits="userSpaceOnUse" cx="0" cy="0" r="1" gradientTransform="translate(155.0 406.0) rotate(0) scale(60.00 21.00)"><stop offset="0.000" stop-color="#f4d024"/><stop offset="0.600" stop-color="#f4c424"/><stop offset="0.800" stop-color="#f09a20"/><stop offset="0.900" stop-color="#e8661c"/><stop offset="0.960" stop-color="#dc3a1a"/><stop offset="1.000" stop-color="#cc1a1c"/></radialGradient><radialGradient id="rg85" gradientUnits="userSpaceOnUse" cx="0" cy="0" r="1" gradientTransform="translate(159.6 340.3) rotate(0) scale(115.82 100.60)"><stop offset="0.000" stop-color="#c41619"/><stop offset="0.630" stop-color="#c41619"/><stop offset="0.680" stop-color="#d21c1c"/><stop offset="0.705" stop-color="#e04a1a"/><stop offset="0.730" stop-color="#f08a1e"/><stop offset="0.755" stop-color="#f4e624"/><stop offset="0.790" stop-color="#b4ee2a"/><stop offset="0.830" stop-color="#66de34"/><stop offset="0.860" stop-color="#60dcc4"/><stop offset="0.885" stop-color="#4a9ef2"/><stop offset="0.920" stop-color="#2222ee"/><stop offset="0.955" stop-color="#3e10c2"/><stop offset="1.000" stop-color="#260026"/></radialGradient><linearGradient id="lg86" gradientUnits="userSpaceOnUse" x1="0.0" y1="359.5" x2="0.0" y2="449.4"><stop offset="0.000" stop-color="#3a0612"/><stop offset="0.100" stop-color="#780a12"/><stop offset="0.220" stop-color="#be1418"/><stop offset="0.360" stop-color="#d21c1c"/><stop offset="0.410" stop-color="#e04a1a"/><stop offset="0.460" stop-color="#f08a1e"/><stop offset="0.510" stop-color="#f4e624"/><stop offset="0.580" stop-color="#b4ee2a"/><stop offset="0.660" stop-color="#66de34"/><stop offset="0.720" stop-color="#60dcc4"/><stop offset="0.770" stop-color="#4a9ef2"/><stop offset="0.840" stop-color="#2222ee"/><stop offset="0.910" stop-color="#3e10c2"/><stop offset="1.000" stop-color="#260026"/></linearGradient><clipPath id="clip87"><polygon points="299.7,456.1 375.0,484.1 435.6,452.8 363.7,432.7"/></clipPath><radialGradient id="rg88" gradientUnits="userSpaceOnUse" cx="0" cy="0" r="1" gradientTransform="translate(299.7 456.1) rotate(0) scale(22.40 9.80)"><stop offset="0.000" stop-color="#7a0c10"/><stop offset="0.500" stop-color="#a01216"/><stop offset="1.000" stop-color="#cc1a1c"/></radialGradient><radialGradient id="rg89" gradientUnits="userSpaceOnUse" cx="0" cy="0" r="1" gradientTransform="translate(375.0 484.1) rotate(0) scale(19.20 8.40)"><stop offset="0.000" stop-color="#7a0c10"/><stop offset="0.500" stop-color="#a01216"/><stop offset="1.000" stop-color="#cc1a1c"/></radialGradient><radialGradient id="rg90" gradientUnits="userSpaceOnUse" cx="0" cy="0" r="1" gradientTransform="translate(435.6 452.8) rotate(0) scale(16.00 7.00)"><stop offset="0.000" stop-color="#7a0c10"/><stop offset="0.500" stop-color="#a01216"/><stop offset="1.000" stop-color="#cc1a1c"/></radialGradient><radialGradient id="rg91" gradientUnits="userSpaceOnUse" cx="0" cy="0" r="1" gradientTransform="translate(365.4 454.7) rotate(0) scale(42.39 15.76)"><stop offset="0.000" stop-color="#2a0630"/><stop offset="0.104" stop-color="#3a0a70"/><stop offset="0.192" stop-color="#3a10b8"/><stop offset="0.260" stop-color="#2626ee"/><stop offset="0.384" stop-color="#2a40f0"/><stop offset="0.440" stop-color="#4aa0f2"/><stop offset="0.480" stop-color="#60dcc4"/><stop offset="0.520" stop-color="#70e034"/><stop offset="0.660" stop-color="#8ee632"/><stop offset="0.740" stop-color="#c8ee2a"/><stop offset="0.800" stop-color="#f4e624"/><stop offset="0.860" stop-color="#f4d024"/><stop offset="0.920" stop-color="#ec8a1e"/><stop offset="0.970" stop-color="#dc3a1a"/><stop offset="1.000" stop-color="#cc1a1c"/></radialGradient><linearGradient id="pg92" gradientUnits="userSpaceOnUse" x1="0" y1="363.3" x2="0" y2="377.3"><stop offset="0" stop-color="#4a0610" stop-opacity="1"/><stop offset="0.45" stop-color="#8a0e14" stop-opacity="0.6"/><stop offset="1" stop-color="#8a0e14" stop-opacity="0"/></linearGradient><clipPath id="sc93"><polygon points="298.4,390.8 307.4,392.2 312.2,385.3 317.0,390.8 323.9,396.3 332.2,384.6 339.1,389.4 347.3,383.9 352.8,382.5 358.3,372.9 363.8,363.3 369.4,371.5 370.5,375.7 378.8,380.5 385.7,384.6 399.4,386.0 413.2,387.4 422.1,379.1 429.0,386.0 438.0,385.3 429.7,388.7 422.8,394.9 417.3,405.9 410.4,408.0 403.6,412.8 399.4,418.3 393.9,428.0 388.4,437.6 384.3,443.1 381.8,446.2 366.6,441.1 361.1,437.6 355.6,432.1 350.1,425.2 344.6,419.7 341.8,414.2 336.3,411.5 330.8,410.0 323.9,407.3 318.4,404.6 308.8,396.3"/></clipPath><radialGradient id="rg94" gradientUnits="userSpaceOnUse" cx="0" cy="0" r="1" gradientTransform="translate(300.0 391.0) rotate(0) scale(5.00 3.00)"><stop offset="0.000" stop-color="#4a0610"/><stop offset="0.500" stop-color="#6a0a12"/><stop offset="1.000" stop-color="#8a0e14"/></radialGradient><radialGradient id="dk95" gradientUnits="userSpaceOnUse" cx="0" cy="0" r="1" gradientTransform="translate(300.0 391.0) scale(5.0 3.0)"><stop offset="0" stop-color="#4a0610" stop-opacity="0.4"/><stop offset="0.6" stop-color="#6a0a12" stop-opacity="0.20"/><stop offset="1" stop-color="#8a0e14" stop-opacity="0"/></radialGradient><radialGradient id="rg96" gradientUnits="userSpaceOnUse" cx="0" cy="0" r="1" gradientTransform="translate(436.0 386.0) rotate(0) scale(5.00 3.00)"><stop offset="0.000" stop-color="#4a0610"/><stop offset="0.500" stop-color="#6a0a12"/><stop offset="1.000" stop-color="#8a0e14"/></radialGradient><radialGradient id="dk97" gradientUnits="userSpaceOnUse" cx="0" cy="0" r="1" gradientTransform="translate(436.0 386.0) scale(5.0 3.0)"><stop offset="0" stop-color="#4a0610" stop-opacity="0.5"/><stop offset="0.6" stop-color="#6a0a12" stop-opacity="0.25"/><stop offset="1" stop-color="#8a0e14" stop-opacity="0"/></radialGradient><radialGradient id="rg98" gradientUnits="userSpaceOnUse" cx="0" cy="0" r="1" gradientTransform="translate(370.0 414.0) rotate(0) scale(62.00 27.00)"><stop offset="0.000" stop-color="#c8ee2a"/><stop offset="0.500" stop-color="#e8ee26"/><stop offset="0.720" stop-color="#f4e624"/><stop offset="0.800" stop-color="#f4d024"/><stop offset="0.870" stop-color="#f0a020"/><stop offset="0.930" stop-color="#e8661c"/><stop offset="0.970" stop-color="#dc3a1a"/><stop offset="1.000" stop-color="#cc1a1c"/></radialGradient><radialGradient id="rg99" gradientUnits="userSpaceOnUse" cx="0" cy="0" r="1" gradientTransform="translate(381.8 359.0) rotate(0) scale(106.33 84.80)"><stop offset="0.000" stop-color="#c41619"/><stop offset="0.630" stop-color="#c41619"/><stop offset="0.680" stop-color="#d21c1c"/><stop offset="0.705" stop-color="#e04a1a"/><stop offset="0.730" stop-color="#f08a1e"/><stop offset="0.755" stop-color="#f4e624"/><stop offset="0.790" stop-color="#b4ee2a"/><stop offset="0.830" stop-color="#66de34"/><stop offset="0.860" stop-color="#60dcc4"/><stop offset="0.885" stop-color="#4a9ef2"/><stop offset="0.920" stop-color="#2222ee"/><stop offset="0.955" stop-color="#3e10c2"/><stop offset="1.000" stop-color="#260026"/></radialGradient><linearGradient id="lg100" gradientUnits="userSpaceOnUse" x1="0.0" y1="359.5" x2="0.0" y2="449.4"><stop offset="0.000" stop-color="#3a0612"/><stop offset="0.100" stop-color="#780a12"/><stop offset="0.220" stop-color="#be1418"/><stop offset="0.360" stop-color="#d21c1c"/><stop offset="0.410" stop-color="#e04a1a"/><stop offset="0.460" stop-color="#f08a1e"/><stop offset="0.510" stop-color="#f4e624"/><stop offset="0.580" stop-color="#b4ee2a"/><stop offset="0.660" stop-color="#66de34"/><stop offset="0.720" stop-color="#60dcc4"/><stop offset="0.770" stop-color="#4a9ef2"/><stop offset="0.840" stop-color="#2222ee"/><stop offset="0.910" stop-color="#3e10c2"/><stop offset="1.000" stop-color="#260026"/></linearGradient><clipPath id="clip101"><polygon points="515.4,456.1 590.7,484.1 651.3,452.8 579.4,432.7"/></clipPath><radialGradient id="rg102" gradientUnits="userSpaceOnUse" cx="0" cy="0" r="1" gradientTransform="translate(515.4 456.1) rotate(0) scale(22.40 9.80)"><stop offset="0.000" stop-color="#7a0c10"/><stop offset="0.500" stop-color="#a01216"/><stop offset="1.000" stop-color="#cc1a1c"/></radialGradient><radialGradient id="rg103" gradientUnits="userSpaceOnUse" cx="0" cy="0" r="1" gradientTransform="translate(590.7 484.1) rotate(0) scale(19.20 8.40)"><stop offset="0.000" stop-color="#7a0c10"/><stop offset="0.500" stop-color="#a01216"/><stop offset="1.000" stop-color="#cc1a1c"/></radialGradient><radialGradient id="rg104" gradientUnits="userSpaceOnUse" cx="0" cy="0" r="1" gradientTransform="translate(651.3 452.8) rotate(0) scale(16.00 7.00)"><stop offset="0.000" stop-color="#7a0c10"/><stop offset="0.500" stop-color="#a01216"/><stop offset="1.000" stop-color="#cc1a1c"/></radialGradient><radialGradient id="rg105" gradientUnits="userSpaceOnUse" cx="0" cy="0" r="1" gradientTransform="translate(582.5 453.0) rotate(0) scale(46.74 13.91)"><stop offset="0.000" stop-color="#2a0630"/><stop offset="0.107" stop-color="#3a0a70"/><stop offset="0.197" stop-color="#3a10b8"/><stop offset="0.267" stop-color="#2626ee"/><stop offset="0.394" stop-color="#2a40f0"/><stop offset="0.450" stop-color="#4aa0f2"/><stop offset="0.490" stop-color="#60dcc4"/><stop offset="0.530" stop-color="#70e034"/><stop offset="0.660" stop-color="#8ee632"/><stop offset="0.740" stop-color="#c8ee2a"/><stop offset="0.800" stop-color="#f4e624"/><stop offset="0.860" stop-color="#f4d024"/><stop offset="0.920" stop-color="#ec8a1e"/><stop offset="0.970" stop-color="#dc3a1a"/><stop offset="1.000" stop-color="#cc1a1c"/></radialGradient><linearGradient id="pg106" gradientUnits="userSpaceOnUse" x1="0" y1="359.8" x2="0" y2="373.8"><stop offset="0" stop-color="#4a0610" stop-opacity="1"/><stop offset="0.45" stop-color="#8a0e14" stop-opacity="0.6"/><stop offset="1" stop-color="#8a0e14" stop-opacity="0"/></linearGradient><clipPath id="sc107"><polygon points="512.8,386.7 519.6,381.9 528.6,388.7 534.1,387.4 543.0,392.9 549.9,390.8 555.4,381.2 565.1,384.6 573.3,378.4 578.8,364.6 585.5,359.8 592.4,372.9 599.3,379.8 606.9,388.7 613.7,383.9 625.4,385.3 637.8,388.0 644.7,381.2 654.4,378.4 650.2,385.3 646.1,388.0 639.2,392.2 632.3,401.8 625.4,407.3 621.3,411.5 619.9,418.3 615.8,415.6 610.3,421.1 606.2,429.4 603.0,437.0 595.9,439.5 589.7,444.6 584.6,448.2 580.5,445.6 575.4,441.6 570.3,438.5 564.2,428.3 559.6,419.7 554.1,412.8 548.6,408.7 544.4,405.9 537.5,399.1 529.3,394.9 521.0,394.2"/></clipPath><radialGradient id="rg108" gradientUnits="userSpaceOnUse" cx="0" cy="0" r="1" gradientTransform="translate(652.0 380.0) rotate(0) scale(7.00 4.00)"><stop offset="0.000" stop-color="#4a0610"/><stop offset="0.500" stop-color="#6a0a12"/><stop offset="1.000" stop-color="#8a0e14"/></radialGradient><radialGradient id="dk109" gradientUnits="userSpaceOnUse" cx="0" cy="0" r="1" gradientTransform="translate(652.0 380.0) scale(7.0 4.0)"><stop offset="0" stop-color="#4a0610" stop-opacity="0.6"/><stop offset="0.6" stop-color="#6a0a12" stop-opacity="0.30"/><stop offset="1" stop-color="#8a0e14" stop-opacity="0"/></radialGradient><radialGradient id="rg110" gradientUnits="userSpaceOnUse" cx="0" cy="0" r="1" gradientTransform="translate(592.0 411.0) rotate(0) scale(62.00 25.00)"><stop offset="0.000" stop-color="#c8ee2a"/><stop offset="0.500" stop-color="#e8ee26"/><stop offset="0.720" stop-color="#f4e624"/><stop offset="0.800" stop-color="#f4d024"/><stop offset="0.870" stop-color="#f0a020"/><stop offset="0.930" stop-color="#e8661c"/><stop offset="0.970" stop-color="#dc3a1a"/><stop offset="1.000" stop-color="#cc1a1c"/></radialGradient><radialGradient id="rg111" gradientUnits="userSpaceOnUse" cx="0" cy="0" r="1" gradientTransform="translate(584.6 347.9) rotate(0) scale(112.66 95.20)"><stop offset="0.000" stop-color="#c41619"/><stop offset="0.630" stop-color="#c41619"/><stop offset="0.680" stop-color="#d21c1c"/><stop offset="0.705" stop-color="#e04a1a"/><stop offset="0.730" stop-color="#f08a1e"/><stop offset="0.755" stop-color="#f4e624"/><stop offset="0.790" stop-color="#b4ee2a"/><stop offset="0.830" stop-color="#66de34"/><stop offset="0.860" stop-color="#60dcc4"/><stop offset="0.885" stop-color="#4a9ef2"/><stop offset="0.920" stop-color="#2222ee"/><stop offset="0.955" stop-color="#3e10c2"/><stop offset="1.000" stop-color="#260026"/></radialGradient><linearGradient id="lg112" gradientUnits="userSpaceOnUse" x1="0.0" y1="359.5" x2="0.0" y2="449.4"><stop offset="0.000" stop-color="#3a0612"/><stop offset="0.100" stop-color="#780a12"/><stop offset="0.220" stop-color="#be1418"/><stop offset="0.360" stop-color="#d21c1c"/><stop offset="0.410" stop-color="#e04a1a"/><stop offset="0.460" stop-color="#f08a1e"/><stop offset="0.510" stop-color="#f4e624"/><stop offset="0.580" stop-color="#b4ee2a"/><stop offset="0.660" stop-color="#66de34"/><stop offset="0.720" stop-color="#60dcc4"/><stop offset="0.770" stop-color="#4a9ef2"/><stop offset="0.840" stop-color="#2222ee"/><stop offset="0.910" stop-color="#3e10c2"/><stop offset="1.000" stop-color="#260026"/></linearGradient><clipPath id="clip113"><polygon points="84.4,618.6 159.7,646.6 220.3,615.3 148.4,595.2"/></clipPath><radialGradient id="rg114" gradientUnits="userSpaceOnUse" cx="0" cy="0" r="1" gradientTransform="translate(84.4 618.6) rotate(0) scale(22.40 9.80)"><stop offset="0.000" stop-color="#7a0c10"/><stop offset="0.500" stop-color="#a01216"/><stop offset="1.000" stop-color="#cc1a1c"/></radialGradient><radialGradient id="rg115" gradientUnits="userSpaceOnUse" cx="0" cy="0" r="1" gradientTransform="translate(159.7 646.6) rotate(0) scale(19.20 8.40)"><stop offset="0.000" stop-color="#7a0c10"/><stop offset="0.500" stop-color="#a01216"/><stop offset="1.000" stop-color="#cc1a1c"/></radialGradient><radialGradient id="rg116" gradientUnits="userSpaceOnUse" cx="0" cy="0" r="1" gradientTransform="translate(220.3 615.3) rotate(0) scale(16.00 7.00)"><stop offset="0.000" stop-color="#7a0c10"/><stop offset="0.500" stop-color="#a01216"/><stop offset="1.000" stop-color="#cc1a1c"/></radialGradient><radialGradient id="rg117" gradientUnits="userSpaceOnUse" cx="0" cy="0" r="1" gradientTransform="translate(148.4 617.7) rotate(0) scale(48.91 17.83)"><stop offset="0.000" stop-color="#2a0630"/><stop offset="0.120" stop-color="#3a0a70"/><stop offset="0.221" stop-color="#3a10b8"/><stop offset="0.299" stop-color="#2626ee"/><stop offset="0.442" stop-color="#2a40f0"/><stop offset="0.500" stop-color="#4aa0f2"/><stop offset="0.540" stop-color="#60dcc4"/><stop offset="0.580" stop-color="#70e034"/><stop offset="0.660" stop-color="#8ee632"/><stop offset="0.740" stop-color="#c8ee2a"/><stop offset="0.800" stop-color="#f4e624"/><stop offset="0.860" stop-color="#f4d024"/><stop offset="0.920" stop-color="#ec8a1e"/><stop offset="0.970" stop-color="#dc3a1a"/><stop offset="1.000" stop-color="#cc1a1c"/></radialGradient><linearGradient id="pg118" gradientUnits="userSpaceOnUse" x1="0" y1="521.2" x2="0" y2="535.2"><stop offset="0" stop-color="#4a0610" stop-opacity="1"/><stop offset="0.45" stop-color="#8a0e14" stop-opacity="0.6"/><stop offset="1" stop-color="#8a0e14" stop-opacity="0"/></linearGradient><clipPath id="sc119"><polygon points="82.1,543.9 89.0,546.0 96.5,540.5 102.0,549.4 110.3,556.3 117.2,547.4 124.1,548.7 135.1,537.0 141.3,530.1 148.8,521.2 155.0,523.3 155.5,525.3 161.0,532.9 167.9,537.0 176.2,541.9 189.9,543.9 198.2,537.7 205.1,536.3 212.0,531.5 217.5,524.6 224.4,526.7 218.8,530.1 214.7,537.0 207.8,545.3 200.9,554.9 196.8,560.4 192.7,567.3 187.2,574.2 180.3,581.1 174.8,588.0 171.8,590.8 166.5,600.6 156.0,605.2 146.8,609.2 136.3,603.9 129.7,597.3 124.1,588.0 119.9,581.1 113.0,575.6 104.8,570.1 96.5,561.8 88.3,553.6"/></clipPath><radialGradient id="rg120" gradientUnits="userSpaceOnUse" cx="0" cy="0" r="1" gradientTransform="translate(220.0 526.0) rotate(0) scale(8.00 5.00)"><stop offset="0.000" stop-color="#4a0610"/><stop offset="0.500" stop-color="#6a0a12"/><stop offset="1.000" stop-color="#8a0e14"/></radialGradient><radialGradient id="dk121" gradientUnits="userSpaceOnUse" cx="0" cy="0" r="1" gradientTransform="translate(220.0 526.0) scale(8.0 5.0)"><stop offset="0" stop-color="#4a0610" stop-opacity="0.8"/><stop offset="0.6" stop-color="#6a0a12" stop-opacity="0.40"/><stop offset="1" stop-color="#8a0e14" stop-opacity="0"/></radialGradient><radialGradient id="rg122" gradientUnits="userSpaceOnUse" cx="0" cy="0" r="1" gradientTransform="translate(155.0 573.0) rotate(0) scale(60.00 25.00)"><stop offset="0.000" stop-color="#c8ee2a"/><stop offset="0.500" stop-color="#e8ee26"/><stop offset="0.720" stop-color="#f4e624"/><stop offset="0.800" stop-color="#f4d024"/><stop offset="0.870" stop-color="#f0a020"/><stop offset="0.930" stop-color="#e8661c"/><stop offset="0.970" stop-color="#dc3a1a"/><stop offset="1.000" stop-color="#cc1a1c"/></radialGradient><radialGradient id="rg123" gradientUnits="userSpaceOnUse" cx="0" cy="0" r="1" gradientTransform="translate(146.8 477.2) rotate(0) scale(131.45 129.60)"><stop offset="0.000" stop-color="#c41619"/><stop offset="0.630" stop-color="#c41619"/><stop offset="0.680" stop-color="#d21c1c"/><stop offset="0.705" stop-color="#e04a1a"/><stop offset="0.730" stop-color="#f08a1e"/><stop offset="0.755" stop-color="#f4e624"/><stop offset="0.790" stop-color="#b4ee2a"/><stop offset="0.830" stop-color="#66de34"/><stop offset="0.860" stop-color="#60dcc4"/><stop offset="0.885" stop-color="#4a9ef2"/><stop offset="0.920" stop-color="#2222ee"/><stop offset="0.955" stop-color="#3e10c2"/><stop offset="1.000" stop-color="#260026"/></radialGradient><linearGradient id="lg124" gradientUnits="userSpaceOnUse" x1="0.0" y1="522.0" x2="0.0" y2="611.9"><stop offset="0.000" stop-color="#3a0612"/><stop offset="0.100" stop-color="#780a12"/><stop offset="0.220" stop-color="#be1418"/><stop offset="0.360" stop-color="#d21c1c"/><stop offset="0.410" stop-color="#e04a1a"/><stop offset="0.460" stop-color="#f08a1e"/><stop offset="0.510" stop-color="#f4e624"/><stop offset="0.580" stop-color="#b4ee2a"/><stop offset="0.660" stop-color="#66de34"/><stop offset="0.720" stop-color="#60dcc4"/><stop offset="0.770" stop-color="#4a9ef2"/><stop offset="0.840" stop-color="#2222ee"/><stop offset="0.910" stop-color="#3e10c2"/><stop offset="1.000" stop-color="#260026"/></linearGradient><clipPath id="clip125"><polygon points="299.7,618.6 375.0,646.6 435.6,615.3 363.7,595.2"/></clipPath><radialGradient id="rg126" gradientUnits="userSpaceOnUse" cx="0" cy="0" r="1" gradientTransform="translate(299.7 618.6) rotate(0) scale(22.40 9.80)"><stop offset="0.000" stop-color="#7a0c10"/><stop offset="0.500" stop-color="#a01216"/><stop offset="1.000" stop-color="#cc1a1c"/></radialGradient><radialGradient id="rg127" gradientUnits="userSpaceOnUse" cx="0" cy="0" r="1" gradientTransform="translate(375.0 646.6) rotate(0) scale(19.20 8.40)"><stop offset="0.000" stop-color="#7a0c10"/><stop offset="0.500" stop-color="#a01216"/><stop offset="1.000" stop-color="#cc1a1c"/></radialGradient><radialGradient id="rg128" gradientUnits="userSpaceOnUse" cx="0" cy="0" r="1" gradientTransform="translate(435.6 615.3) rotate(0) scale(16.00 7.00)"><stop offset="0.000" stop-color="#7a0c10"/><stop offset="0.500" stop-color="#a01216"/><stop offset="1.000" stop-color="#cc1a1c"/></radialGradient><radialGradient id="rg129" gradientUnits="userSpaceOnUse" cx="0" cy="0" r="1" gradientTransform="translate(366.4 617.7) rotate(0) scale(52.17 17.83)"><stop offset="0.000" stop-color="#2a0630"/><stop offset="0.104" stop-color="#3a0a70"/><stop offset="0.192" stop-color="#3a10b8"/><stop offset="0.260" stop-color="#2626ee"/><stop offset="0.384" stop-color="#2a40f0"/><stop offset="0.440" stop-color="#4aa0f2"/><stop offset="0.480" stop-color="#60dcc4"/><stop offset="0.520" stop-color="#70e034"/><stop offset="0.660" stop-color="#8ee632"/><stop offset="0.740" stop-color="#c8ee2a"/><stop offset="0.800" stop-color="#f4e624"/><stop offset="0.860" stop-color="#f4d024"/><stop offset="0.920" stop-color="#ec8a1e"/><stop offset="0.970" stop-color="#dc3a1a"/><stop offset="1.000" stop-color="#cc1a1c"/></radialGradient><linearGradient id="pg130" gradientUnits="userSpaceOnUse" x1="0" y1="525.3" x2="0" y2="539.3"><stop offset="0" stop-color="#4a0610" stop-opacity="1"/><stop offset="0.45" stop-color="#8a0e14" stop-opacity="0.6"/><stop offset="1" stop-color="#8a0e14" stop-opacity="0"/></linearGradient><clipPath id="sc131"><polygon points="297.8,546.7 303.3,550.8 308.8,554.9 314.3,559.1 319.8,555.6 339.1,555.6 345.9,548.0 351.5,538.4 357.0,536.3 363.8,530.8 370.0,525.3 377.4,528.8 384.3,543.9 398.0,552.2 406.3,546.7 413.2,548.0 422.8,546.0 431.1,541.2 438.0,541.2 433.8,548.0 427.0,554.9 420.1,561.8 413.2,567.3 406.3,572.8 400.8,579.7 396.7,588.0 392.5,594.9 390.2,597.2 383.0,601.2 380.0,606.3 377.9,610.4 367.7,608.4 355.4,606.3 349.3,599.2 344.6,590.7 339.1,582.5 333.6,577.0 328.0,572.8 318.4,567.3 312.9,560.4 303.3,552.2"/></clipPath><radialGradient id="rg132" gradientUnits="userSpaceOnUse" cx="0" cy="0" r="1" gradientTransform="translate(435.0 542.0) rotate(0) scale(8.00 4.00)"><stop offset="0.000" stop-color="#4a0610"/><stop offset="0.500" stop-color="#6a0a12"/><stop offset="1.000" stop-color="#8a0e14"/></radialGradient><radialGradient id="dk133" gradientUnits="userSpaceOnUse" cx="0" cy="0" r="1" gradientTransform="translate(435.0 542.0) scale(8.0 4.0)"><stop offset="0" stop-color="#4a0610" stop-opacity="0.6"/><stop offset="0.6" stop-color="#6a0a12" stop-opacity="0.30"/><stop offset="1" stop-color="#8a0e14" stop-opacity="0"/></radialGradient><radialGradient id="rg134" gradientUnits="userSpaceOnUse" cx="0" cy="0" r="1" gradientTransform="translate(368.0 586.0) rotate(0) scale(90.00 30.00)"><stop offset="0.000" stop-color="#70e034"/><stop offset="0.450" stop-color="#90e632"/><stop offset="0.600" stop-color="#c8ee2a"/><stop offset="0.720" stop-color="#f4e624"/><stop offset="0.820" stop-color="#f4c424"/><stop offset="0.900" stop-color="#ec8a1e"/><stop offset="0.960" stop-color="#dc3a1a"/><stop offset="1.000" stop-color="#cc1a1c"/></radialGradient><radialGradient id="rg135" gradientUnits="userSpaceOnUse" cx="0" cy="0" r="1" gradientTransform="translate(367.7 504.8) rotate(0) scale(118.88 106.00)"><stop offset="0.000" stop-color="#c41619"/><stop offset="0.630" stop-color="#c41619"/><stop offset="0.680" stop-color="#d21c1c"/><stop offset="0.705" stop-color="#e04a1a"/><stop offset="0.730" stop-color="#f08a1e"/><stop offset="0.755" stop-color="#f4e624"/><stop offset="0.790" stop-color="#b4ee2a"/><stop offset="0.830" stop-color="#66de34"/><stop offset="0.860" stop-color="#60dcc4"/><stop offset="0.885" stop-color="#4a9ef2"/><stop offset="0.920" stop-color="#2222ee"/><stop offset="0.955" stop-color="#3e10c2"/><stop offset="1.000" stop-color="#260026"/></radialGradient><linearGradient id="lg136" gradientUnits="userSpaceOnUse" x1="0.0" y1="522.0" x2="0.0" y2="611.9"><stop offset="0.000" stop-color="#3a0612"/><stop offset="0.100" stop-color="#780a12"/><stop offset="0.220" stop-color="#be1418"/><stop offset="0.360" stop-color="#d21c1c"/><stop offset="0.410" stop-color="#e04a1a"/><stop offset="0.460" stop-color="#f08a1e"/><stop offset="0.510" stop-color="#f4e624"/><stop offset="0.580" stop-color="#b4ee2a"/><stop offset="0.660" stop-color="#66de34"/><stop offset="0.720" stop-color="#60dcc4"/><stop offset="0.770" stop-color="#4a9ef2"/><stop offset="0.840" stop-color="#2222ee"/><stop offset="0.910" stop-color="#3e10c2"/><stop offset="1.000" stop-color="#260026"/></linearGradient><clipPath id="clip137"><polygon points="515.4,618.6 590.7,646.6 651.3,615.3 579.4,595.2"/></clipPath><radialGradient id="rg138" gradientUnits="userSpaceOnUse" cx="0" cy="0" r="1" gradientTransform="translate(515.4 618.6) rotate(0) scale(22.40 9.80)"><stop offset="0.000" stop-color="#7a0c10"/><stop offset="0.500" stop-color="#a01216"/><stop offset="1.000" stop-color="#cc1a1c"/></radialGradient><radialGradient id="rg139" gradientUnits="userSpaceOnUse" cx="0" cy="0" r="1" gradientTransform="translate(590.7 646.6) rotate(0) scale(19.20 8.40)"><stop offset="0.000" stop-color="#7a0c10"/><stop offset="0.500" stop-color="#a01216"/><stop offset="1.000" stop-color="#cc1a1c"/></radialGradient><radialGradient id="rg140" gradientUnits="userSpaceOnUse" cx="0" cy="0" r="1" gradientTransform="translate(651.3 615.3) rotate(0) scale(16.00 7.00)"><stop offset="0.000" stop-color="#7a0c10"/><stop offset="0.500" stop-color="#a01216"/><stop offset="1.000" stop-color="#cc1a1c"/></radialGradient><radialGradient id="rg141" gradientUnits="userSpaceOnUse" cx="0" cy="0" r="1" gradientTransform="translate(580.4 617.7) rotate(0) scale(48.91 17.83)"><stop offset="0.000" stop-color="#2a0630"/><stop offset="0.083" stop-color="#3a0a70"/><stop offset="0.154" stop-color="#3a10b8"/><stop offset="0.208" stop-color="#2626ee"/><stop offset="0.307" stop-color="#2a40f0"/><stop offset="0.360" stop-color="#4aa0f2"/><stop offset="0.400" stop-color="#60dcc4"/><stop offset="0.440" stop-color="#70e034"/><stop offset="0.660" stop-color="#8ee632"/><stop offset="0.740" stop-color="#c8ee2a"/><stop offset="0.800" stop-color="#f4e624"/><stop offset="0.860" stop-color="#f4d024"/><stop offset="0.920" stop-color="#ec8a1e"/><stop offset="0.970" stop-color="#dc3a1a"/><stop offset="1.000" stop-color="#cc1a1c"/></radialGradient><linearGradient id="pg142" gradientUnits="userSpaceOnUse" x1="0" y1="521.2" x2="0" y2="535.2"><stop offset="0" stop-color="#4a0610" stop-opacity="1"/><stop offset="0.45" stop-color="#8a0e14" stop-opacity="0.6"/><stop offset="1" stop-color="#8a0e14" stop-opacity="0"/></linearGradient><clipPath id="sc143"><polygon points="513.4,559.1 520.3,545.3 527.9,548.0 534.8,561.8 544.4,554.9 554.1,546.7 560.9,535.7 567.8,536.3 578.8,526.0 585.0,525.3 593.1,534.3 600.0,521.2 606.2,541.2 613.0,544.6 621.3,544.6 629.6,539.1 637.8,539.8 647.5,527.4 654.4,532.2 647.5,537.0 643.3,545.3 635.1,553.6 628.2,559.1 621.3,564.6 615.8,572.8 610.3,579.7 604.8,586.6 599.3,593.5 597.0,593.5 593.5,600.5 588.3,605.8 577.8,609.3 572.5,604.9 566.4,597.9 562.3,593.5 556.8,586.6 551.3,581.1 544.4,575.6 538.9,570.1 534.8,566.0 527.9,563.9 523.8,560.4"/></clipPath><radialGradient id="rg144" gradientUnits="userSpaceOnUse" cx="0" cy="0" r="1" gradientTransform="translate(650.0 530.0) rotate(0) scale(8.00 5.00)"><stop offset="0.000" stop-color="#4a0610"/><stop offset="0.500" stop-color="#6a0a12"/><stop offset="1.000" stop-color="#8a0e14"/></radialGradient><radialGradient id="dk145" gradientUnits="userSpaceOnUse" cx="0" cy="0" r="1" gradientTransform="translate(650.0 530.0) scale(8.0 5.0)"><stop offset="0" stop-color="#4a0610" stop-opacity="0.8"/><stop offset="0.6" stop-color="#6a0a12" stop-opacity="0.40"/><stop offset="1" stop-color="#8a0e14" stop-opacity="0"/></radialGradient><radialGradient id="rg146" gradientUnits="userSpaceOnUse" cx="0" cy="0" r="1" gradientTransform="translate(600.0 524.0) rotate(0) scale(5.00 6.00)"><stop offset="0.000" stop-color="#4a0610"/><stop offset="0.500" stop-color="#6a0a12"/><stop offset="1.000" stop-color="#8a0e14"/></radialGradient><radialGradient id="dk147" gradientUnits="userSpaceOnUse" cx="0" cy="0" r="1" gradientTransform="translate(600.0 524.0) scale(5.0 6.0)"><stop offset="0" stop-color="#4a0610" stop-opacity="0.6"/><stop offset="0.6" stop-color="#6a0a12" stop-opacity="0.30"/><stop offset="1" stop-color="#8a0e14" stop-opacity="0"/></radialGradient><radialGradient id="rg148" gradientUnits="userSpaceOnUse" cx="0" cy="0" r="1" gradientTransform="translate(585.0 578.0) rotate(0) scale(66.00 28.00)"><stop offset="0.000" stop-color="#80e034"/><stop offset="0.350" stop-color="#a8ea2e"/><stop offset="0.550" stop-color="#d8ee28"/><stop offset="0.700" stop-color="#f4e624"/><stop offset="0.820" stop-color="#f4c424"/><stop offset="0.900" stop-color="#ec8a1e"/><stop offset="0.960" stop-color="#dc3a1a"/><stop offset="1.000" stop-color="#cc1a1c"/></radialGradient><radialGradient id="rg149" gradientUnits="userSpaceOnUse" cx="0" cy="0" r="1" gradientTransform="translate(577.8 496.2) rotate(0) scale(121.98 111.60)"><stop offset="0.000" stop-color="#c41619"/><stop offset="0.630" stop-color="#c41619"/><stop offset="0.680" stop-color="#d21c1c"/><stop offset="0.705" stop-color="#e04a1a"/><stop offset="0.730" stop-color="#f08a1e"/><stop offset="0.755" stop-color="#f4e624"/><stop offset="0.790" stop-color="#b4ee2a"/><stop offset="0.830" stop-color="#66de34"/><stop offset="0.860" stop-color="#60dcc4"/><stop offset="0.885" stop-color="#4a9ef2"/><stop offset="0.920" stop-color="#2222ee"/><stop offset="0.955" stop-color="#3e10c2"/><stop offset="1.000" stop-color="#260026"/></radialGradient><linearGradient id="lg150" gradientUnits="userSpaceOnUse" x1="0.0" y1="522.0" x2="0.0" y2="611.9"><stop offset="0.000" stop-color="#3a0612"/><stop offset="0.100" stop-color="#780a12"/><stop offset="0.220" stop-color="#be1418"/><stop offset="0.360" stop-color="#d21c1c"/><stop offset="0.410" stop-color="#e04a1a"/><stop offset="0.460" stop-color="#f08a1e"/><stop offset="0.510" stop-color="#f4e624"/><stop offset="0.580" stop-color="#b4ee2a"/><stop offset="0.660" stop-color="#66de34"/><stop offset="0.720" stop-color="#60dcc4"/><stop offset="0.770" stop-color="#4a9ef2"/><stop offset="0.840" stop-color="#2222ee"/><stop offset="0.910" stop-color="#3e10c2"/><stop offset="1.000" stop-color="#260026"/></linearGradient></defs><rect width="685" height="654" fill="#fff"/><line x1="80.8" y1="41.6" x2="148.4" y2="30.0" stroke="#e4e4e4" stroke-width="0.6" /><line x1="148.4" y1="30.0" x2="224.4" y2="40.0" stroke="#e4e4e4" stroke-width="0.6" /><line x1="81.4" y1="57.3" x2="148.4" y2="43.6" stroke="#e4e4e4" stroke-width="0.6" /><line x1="148.4" y1="43.6" x2="223.7" y2="55.4" stroke="#e4e4e4" stroke-width="0.6" /><line x1="82.0" y1="73.0" x2="148.4" y2="57.3" stroke="#e4e4e4" stroke-width="0.6" /><line x1="148.4" y1="57.3" x2="223.0" y2="70.8" stroke="#e4e4e4" stroke-width="0.6" /><line x1="82.7" y1="88.6" x2="148.4" y2="70.8" stroke="#e4e4e4" stroke-width="0.6" /><line x1="148.4" y1="70.8" x2="222.2" y2="86.1" stroke="#e4e4e4" stroke-width="0.6" /><line x1="83.3" y1="103.3" x2="148.4" y2="83.6" stroke="#e4e4e4" stroke-width="0.6" /><line x1="148.4" y1="83.6" x2="221.6" y2="100.5" stroke="#e4e4e4" stroke-width="0.6" /><line x1="83.9" y1="118.2" x2="148.4" y2="96.5" stroke="#e4e4e4" stroke-width="0.6" /><line x1="148.4" y1="96.5" x2="220.9" y2="115.1" stroke="#e4e4e4" stroke-width="0.6" /><line x1="117.5" y1="28.9" x2="119.3" y2="118.3" stroke="#e4e4e4" stroke-width="0.6" /><line x1="183.9" y1="28.3" x2="181.8" y2="117.0" stroke="#e4e4e4" stroke-width="0.6" /><line x1="80.5" y1="34.7" x2="148.4" y2="24.0" stroke="#8a8a8a" stroke-width="0.7" /><line x1="148.4" y1="24.0" x2="224.7" y2="33.2" stroke="#9a9a9a" stroke-width="0.7" /><line x1="148.4" y1="24.0" x2="148.4" y2="107.7" stroke="#c8c8c8" stroke-width="0.6" /><line x1="224.7" y1="33.2" x2="220.3" y2="127.8" stroke="#cacaca" stroke-width="0.6" /><polygon points="84.4,131.1 159.7,159.1 220.3,127.8 148.4,107.7" fill="#cc1a1c" /><g clip-path="url(#clip1)"><ellipse cx="84.4" cy="131.1" rx="22.4" ry="9.8" fill="url(#rg2)" opacity="0.8"/><ellipse cx="159.7" cy="159.1" rx="19.2" ry="8.4" fill="url(#rg3)" opacity="0.8"/><ellipse cx="220.3" cy="127.8" rx="16.0" ry="7.0" fill="url(#rg4)" opacity="0.8"/><ellipse cx="158.0" cy="129.0" rx="42.4" ry="15.8" fill="url(#rg5)"/></g><polyline points="84.4,131.1 159.7,159.1 220.3,127.8" fill="none" stroke="#6a0a0e" stroke-width="0.6" opacity="0.8"/><line x1="80.5" y1="34.7" x2="84.4" y2="131.1" stroke="#333" stroke-width="1.0" /><line x1="78.6" y1="41.9" x2="80.8" y2="41.6" stroke="#333" stroke-width="0.8" /><text x="0.0" y="0.0" font-family="Liberation Sans" font-size="7.6" font-weight="normal" fill="#222" text-anchor="end" transform="translate(78.2,45.0) skewY(-9) scale(0.8,1)" stroke="#222" stroke-width="0.3">1.50E6</text><line x1="79.2" y1="57.6" x2="81.4" y2="57.3" stroke="#333" stroke-width="0.8" /><text x="0.0" y="0.0" font-family="Liberation Sans" font-size="7.6" font-weight="normal" fill="#222" text-anchor="end" transform="translate(78.8,60.7) skewY(-9) scale(0.8,1)" stroke="#222" stroke-width="0.3">1.48E6</text><line x1="79.8" y1="73.3" x2="82.0" y2="73.0" stroke="#333" stroke-width="0.8" /><text x="0.0" y="0.0" font-family="Liberation Sans" font-size="7.6" font-weight="normal" fill="#222" text-anchor="end" transform="translate(79.4,76.4) skewY(-9) scale(0.8,1)" stroke="#222" stroke-width="0.3">1.45E6</text><line x1="80.5" y1="88.9" x2="82.7" y2="88.6" stroke="#333" stroke-width="0.8" /><text x="0.0" y="0.0" font-family="Liberation Sans" font-size="7.6" font-weight="normal" fill="#222" text-anchor="end" transform="translate(80.1,92.0) skewY(-9) scale(0.8,1)" stroke="#222" stroke-width="0.3">1.43E6</text><line x1="81.1" y1="103.6" x2="83.3" y2="103.3" stroke="#333" stroke-width="0.8" /><text x="0.0" y="0.0" font-family="Liberation Sans" font-size="7.6" font-weight="normal" fill="#222" text-anchor="end" transform="translate(80.7,106.7) skewY(-9) scale(0.8,1)" stroke="#222" stroke-width="0.3">1.40E6</text><line x1="81.7" y1="118.5" x2="83.9" y2="118.2" stroke="#333" stroke-width="0.8" /><text x="0.0" y="0.0" font-family="Liberation Sans" font-size="7.6" font-weight="normal" fill="#222" text-anchor="end" transform="translate(81.3,121.6) skewY(-9) scale(0.8,1)" stroke="#222" stroke-width="0.3">1.38E6</text><polygon points="83.2,57.5 89.7,60.1 96.2,55.6 111.2,63.4 117.7,55.3 129.4,54.9 137.1,51.7 146.2,49.7 152.7,50.4 155.2,52.3 161.7,57.5 168.8,53.6 176.0,60.8 186.4,66.6 196.1,71.8 201.3,64.0 206.5,62.7 211.7,66.6 222.1,69.2 209.7,70.5 204.5,75.0 196.8,80.3 189.0,89.4 182.5,97.0 176.0,105.0 169.5,114.0 161.7,119.2 150.0,116.6 145.0,112.7 141.0,108.8 135.8,102.3 129.4,95.8 122.9,86.8 119.0,84.2 113.8,81.6 107.9,79.0 103.4,78.3 93.0,64.7" fill="#cc1a1c" /><polygon points="83.2,57.5 89.7,60.1 96.2,55.6 111.2,63.4 117.7,55.3 129.4,54.9 137.1,51.7 146.2,49.7 152.7,50.4 155.2,52.3 161.7,57.5 168.8,53.6 176.0,60.8 186.4,66.6 196.1,71.8 201.3,64.0 206.5,62.7 211.7,66.6 222.1,69.2 209.7,70.5 204.5,75.0 196.8,80.3 189.0,89.4 182.5,97.0 176.0,105.0 169.5,114.0 161.7,119.2 150.0,116.6 145.0,112.7 141.0,108.8 135.8,102.3 129.4,95.8 122.9,86.8 119.0,84.2 113.8,81.6 107.9,79.0 103.4,78.3 93.0,64.7" fill="url(#pg6)" /><g clip-path="url(#sc7)"><ellipse cx="95.0" cy="60.0" rx="14.0" ry="6.0" fill="url(#dk9)"/><polygon points="119.0,84.2 116.0,75.0 111.2,63.4 117.7,55.3 196.1,58.0 196.1,71.8 196.8,80.3 196.8,88.3 194.0,89.6 189.0,92.2 179.9,90.2 173.4,87.0 166.9,83.7 160.0,85.7 157.8,87.0 155.3,89.6 150.0,93.0 139.7,90.9 134.5,87.6 129.4,88.9 122.9,88.9 119.0,92.2" fill="url(#rg10)" /><polygon points="119.0,84.2 122.9,80.9 129.4,80.9 134.5,79.6 139.7,82.9 150.0,85.0 155.3,81.6 157.8,79.0 160.0,77.7 166.9,75.7 173.4,79.0 179.9,82.2 189.0,84.2 194.0,81.6 196.8,80.3 189.0,89.4 182.5,97.0 176.0,105.0 169.5,114.0 161.7,119.2 150.0,116.6 145.0,112.7 141.0,108.8 135.8,102.3 129.4,95.8 122.9,86.8" fill="url(#rg11)" /><polyline points="119.0,84.2 122.9,80.9 129.4,80.9 134.5,79.6 139.7,82.9 150.0,85.0 155.3,81.6 157.8,79.0 160.0,77.7 166.9,75.7 173.4,79.0 179.9,82.2 189.0,84.2 194.0,81.6 196.8,80.3" fill="none" stroke="#7a0c12" stroke-width="1.2" stroke-opacity="0.45" stroke-linejoin="round"/></g><rect x="226.9" y="34.5" width="5.3" height="89.9" fill="url(#lg12)"/><text x="232.8" y="37.1" font-family="Liberation Sans" font-size="7" font-weight="normal" fill="#1a1a1a" text-anchor="start" stroke="#1a1a1a" stroke-width="0.25">1.48M</text><text x="232.8" y="55.1" font-family="Liberation Sans" font-size="7" font-weight="normal" fill="#1a1a1a" text-anchor="start" stroke="#1a1a1a" stroke-width="0.25">1.46M</text><text x="232.8" y="73.1" font-family="Liberation Sans" font-size="7" font-weight="normal" fill="#1a1a1a" text-anchor="start" stroke="#1a1a1a" stroke-width="0.25">1.43M</text><text x="232.8" y="91.0" font-family="Liberation Sans" font-size="7" font-weight="normal" fill="#1a1a1a" text-anchor="start" stroke="#1a1a1a" stroke-width="0.25">1.41M</text><text x="232.8" y="109.0" font-family="Liberation Sans" font-size="7" font-weight="normal" fill="#1a1a1a" text-anchor="start" stroke="#1a1a1a" stroke-width="0.25">1.39M</text><text x="232.8" y="127.0" font-family="Liberation Sans" font-size="7" font-weight="normal" fill="#1a1a1a" text-anchor="start" stroke="#1a1a1a" stroke-width="0.25">1.37M</text><text x="100.6" y="156.6" font-family="Liberation Sans" font-size="10.3" font-weight="normal" fill="#222" text-anchor="start" >X/mm</text><text x="202.4" y="149.3" font-family="Liberation Sans" font-size="10.3" font-weight="normal" fill="#222" text-anchor="start" >Y/mm</text><text x="46.0" y="91.5" font-family="Liberation Sans" font-size="10.5" font-weight="normal" fill="#333" text-anchor="start" >|Z|</text><ellipse cx="155.9" cy="160.9" rx="2.6" ry="1.1" fill="none" stroke="#555" stroke-width="0.7"/><ellipse cx="164.9" cy="160.7" rx="2.6" ry="1.1" fill="none" stroke="#555" stroke-width="0.7" transform="rotate(-18 164.9 160.7)"/><line x1="114.0" y1="145.6" x2="117.0" y2="145.0" stroke="#555" stroke-width="0.6" /><line x1="196.0" y1="144.3" x2="198.6" y2="142.9" stroke="#555" stroke-width="0.6" /><line x1="77.0" y1="132.4" x2="79.4" y2="132.0" stroke="#555" stroke-width="0.6" /><line x1="220.9" y1="128.6" x2="223.2" y2="128.3" stroke="#555" stroke-width="0.6" /><line x1="296.2" y1="44.1" x2="363.7" y2="32.2" stroke="#e4e4e4" stroke-width="0.6" /><line x1="363.7" y1="32.2" x2="439.6" y2="42.4" stroke="#e4e4e4" stroke-width="0.6" /><line x1="296.9" y1="61.4" x2="363.7" y2="47.2" stroke="#e4e4e4" stroke-width="0.6" /><line x1="363.7" y1="47.2" x2="438.8" y2="59.4" stroke="#e4e4e4" stroke-width="0.6" /><line x1="297.5" y1="77.4" x2="363.7" y2="61.1" stroke="#e4e4e4" stroke-width="0.6" /><line x1="363.7" y1="61.1" x2="438.1" y2="75.1" stroke="#e4e4e4" stroke-width="0.6" /><line x1="298.2" y1="93.5" x2="363.7" y2="75.1" stroke="#e4e4e4" stroke-width="0.6" /><line x1="363.7" y1="75.1" x2="437.3" y2="90.9" stroke="#e4e4e4" stroke-width="0.6" /><line x1="298.8" y1="109.6" x2="363.7" y2="89.0" stroke="#e4e4e4" stroke-width="0.6" /><line x1="363.7" y1="89.0" x2="436.6" y2="106.7" stroke="#e4e4e4" stroke-width="0.6" /><line x1="299.5" y1="126.5" x2="363.7" y2="103.7" stroke="#e4e4e4" stroke-width="0.6" /><line x1="363.7" y1="103.7" x2="435.8" y2="123.3" stroke="#e4e4e4" stroke-width="0.6" /><line x1="332.8" y1="28.9" x2="334.6" y2="118.3" stroke="#e4e4e4" stroke-width="0.6" /><line x1="399.2" y1="28.3" x2="397.1" y2="117.0" stroke="#e4e4e4" stroke-width="0.6" /><line x1="295.8" y1="34.7" x2="363.7" y2="24.0" stroke="#8a8a8a" stroke-width="0.7" /><line x1="363.7" y1="24.0" x2="440.0" y2="33.2" stroke="#9a9a9a" stroke-width="0.7" /><line x1="363.7" y1="24.0" x2="363.7" y2="107.7" stroke="#c8c8c8" stroke-width="0.6" /><line x1="440.0" y1="33.2" x2="435.6" y2="127.8" stroke="#cacaca" stroke-width="0.6" /><polygon points="299.7,131.1 375.0,159.1 435.6,127.8 363.7,107.7" fill="#cc1a1c" /><g clip-path="url(#clip13)"><ellipse cx="299.7" cy="131.1" rx="22.4" ry="9.8" fill="url(#rg14)" opacity="0.8"/><ellipse cx="375.0" cy="159.1" rx="19.2" ry="8.4" fill="url(#rg15)" opacity="0.8"/><ellipse cx="435.6" cy="127.8" rx="16.0" ry="7.0" fill="url(#rg16)" opacity="0.8"/><ellipse cx="372.5" cy="130.7" rx="43.5" ry="14.7" fill="url(#rg17)"/></g><polyline points="299.7,131.1 375.0,159.1 435.6,127.8" fill="none" stroke="#6a0a0e" stroke-width="0.6" opacity="0.8"/><line x1="295.8" y1="34.7" x2="299.7" y2="131.1" stroke="#333" stroke-width="1.0" /><line x1="294.0" y1="44.4" x2="296.2" y2="44.1" stroke="#333" stroke-width="0.8" /><text x="0.0" y="0.0" font-family="Liberation Sans" font-size="7.6" font-weight="normal" fill="#222" text-anchor="end" transform="translate(293.6,47.5) skewY(-9) scale(0.8,1)" stroke="#222" stroke-width="0.3">1.61E6</text><line x1="294.7" y1="61.7" x2="296.9" y2="61.4" stroke="#333" stroke-width="0.8" /><text x="0.0" y="0.0" font-family="Liberation Sans" font-size="7.6" font-weight="normal" fill="#222" text-anchor="end" transform="translate(294.3,64.8) skewY(-9) scale(0.8,1)" stroke="#222" stroke-width="0.3">1.58E6</text><line x1="295.3" y1="77.7" x2="297.5" y2="77.4" stroke="#333" stroke-width="0.8" /><text x="0.0" y="0.0" font-family="Liberation Sans" font-size="7.6" font-weight="normal" fill="#222" text-anchor="end" transform="translate(294.9,80.8) skewY(-9) scale(0.8,1)" stroke="#222" stroke-width="0.3">1.54E6</text><line x1="296.0" y1="93.8" x2="298.2" y2="93.5" stroke="#333" stroke-width="0.8" /><text x="0.0" y="0.0" font-family="Liberation Sans" font-size="7.6" font-weight="normal" fill="#222" text-anchor="end" transform="translate(295.6,96.9) skewY(-9) scale(0.8,1)" stroke="#222" stroke-width="0.3">1.50E6</text><line x1="296.6" y1="109.9" x2="298.8" y2="109.6" stroke="#333" stroke-width="0.8" /><text x="0.0" y="0.0" font-family="Liberation Sans" font-size="7.6" font-weight="normal" fill="#222" text-anchor="end" transform="translate(296.2,113.0) skewY(-9) scale(0.8,1)" stroke="#222" stroke-width="0.3">1.47E6</text><line x1="297.3" y1="126.8" x2="299.5" y2="126.5" stroke="#333" stroke-width="0.8" /><text x="0.0" y="0.0" font-family="Liberation Sans" font-size="7.6" font-weight="normal" fill="#222" text-anchor="end" transform="translate(296.9,129.9) skewY(-9) scale(0.8,1)" stroke="#222" stroke-width="0.3">1.44E6</text><polygon points="298.2,71.2 304.7,63.1 312.5,68.8 319.0,65.3 326.8,67.9 333.3,60.8 339.8,64.0 352.1,51.7 363.2,51.0 370.2,45.5 376.7,53.6 384.5,56.9 391.0,66.6 406.6,64.0 422.1,63.4 429.9,67.9 437.7,64.0 426.0,71.8 422.1,81.6 417.0,86.1 407.9,88.7 401.4,95.8 396.2,103.6 391.0,112.7 385.8,117.9 380.6,119.9 372.9,119.2 366.4,115.3 359.9,110.8 353.4,107.5 347.0,102.3 341.8,98.4 337.9,92.0 334.0,88.0 324.9,84.8 310.6,77.0" fill="#cc1a1c" /><polygon points="298.2,71.2 304.7,63.1 312.5,68.8 319.0,65.3 326.8,67.9 333.3,60.8 339.8,64.0 352.1,51.7 363.2,51.0 370.2,45.5 376.7,53.6 384.5,56.9 391.0,66.6 406.6,64.0 422.1,63.4 429.9,67.9 437.7,64.0 426.0,71.8 422.1,81.6 417.0,86.1 407.9,88.7 401.4,95.8 396.2,103.6 391.0,112.7 385.8,117.9 380.6,119.9 372.9,119.2 366.4,115.3 359.9,110.8 353.4,107.5 347.0,102.3 341.8,98.4 337.9,92.0 334.0,88.0 324.9,84.8 310.6,77.0" fill="url(#pg18)" /><g clip-path="url(#sc19)"><ellipse cx="303.0" cy="66.0" rx="8.0" ry="5.0" fill="url(#dk21)"/><polygon points="334.0,88.0 330.0,78.0 326.8,67.9 333.3,60.8 391.0,60.0 400.0,66.0 412.0,86.0 407.9,88.7 407.9,96.7 401.4,97.4 391.0,98.0 381.9,96.7 376.0,90.2 370.8,94.8 365.0,95.4 358.6,94.1 349.5,96.7 340.5,92.2 334.0,96.0" fill="url(#rg22)" /><polygon points="334.0,88.0 340.5,84.2 349.5,88.7 358.6,86.1 365.0,87.4 370.8,86.8 376.0,82.2 381.9,88.7 391.0,90.0 401.4,89.4 407.9,88.7 401.4,95.8 396.2,103.6 391.0,112.7 385.8,117.9 380.6,119.9 372.9,119.2 366.4,115.3 359.9,110.8 353.4,107.5 347.0,102.3 341.8,98.4 337.9,92.0" fill="url(#rg23)" /><polyline points="334.0,88.0 340.5,84.2 349.5,88.7 358.6,86.1 365.0,87.4 370.8,86.8 376.0,82.2 381.9,88.7 391.0,90.0 401.4,89.4 407.9,88.7" fill="none" stroke="#7a0c12" stroke-width="1.2" stroke-opacity="0.45" stroke-linejoin="round"/></g><rect x="442.2" y="34.5" width="5.3" height="89.9" fill="url(#lg24)"/><text x="448.1" y="37.1" font-family="Liberation Sans" font-size="7" font-weight="normal" fill="#1a1a1a" text-anchor="start" stroke="#1a1a1a" stroke-width="0.25">1.58M</text><text x="448.1" y="55.1" font-family="Liberation Sans" font-size="7" font-weight="normal" fill="#1a1a1a" text-anchor="start" stroke="#1a1a1a" stroke-width="0.25">1.55M</text><text x="448.1" y="73.1" font-family="Liberation Sans" font-size="7" font-weight="normal" fill="#1a1a1a" text-anchor="start" stroke="#1a1a1a" stroke-width="0.25">1.52M</text><text x="448.1" y="91.0" font-family="Liberation Sans" font-size="7" font-weight="normal" fill="#1a1a1a" text-anchor="start" stroke="#1a1a1a" stroke-width="0.25">1.50M</text><text x="448.1" y="109.0" font-family="Liberation Sans" font-size="7" font-weight="normal" fill="#1a1a1a" text-anchor="start" stroke="#1a1a1a" stroke-width="0.25">1.47M</text><text x="448.1" y="127.0" font-family="Liberation Sans" font-size="7" font-weight="normal" fill="#1a1a1a" text-anchor="start" stroke="#1a1a1a" stroke-width="0.25">1.44M</text><text x="315.9" y="156.6" font-family="Liberation Sans" font-size="10.3" font-weight="normal" fill="#222" text-anchor="start" >X/mm</text><text x="417.7" y="149.3" font-family="Liberation Sans" font-size="10.3" font-weight="normal" fill="#222" text-anchor="start" >Y/mm</text><text x="262.4" y="94.7" font-family="Liberation Sans" font-size="10.5" font-weight="normal" fill="#333" text-anchor="start" >|Z|</text><ellipse cx="371.2" cy="160.9" rx="2.6" ry="1.1" fill="none" stroke="#555" stroke-width="0.7"/><ellipse cx="380.2" cy="160.7" rx="2.6" ry="1.1" fill="none" stroke="#555" stroke-width="0.7" transform="rotate(-18 380.2 160.7)"/><line x1="329.3" y1="145.6" x2="332.3" y2="145.0" stroke="#555" stroke-width="0.6" /><line x1="411.3" y1="144.3" x2="413.9" y2="142.9" stroke="#555" stroke-width="0.6" /><line x1="292.3" y1="132.4" x2="294.7" y2="132.0" stroke="#555" stroke-width="0.6" /><line x1="436.2" y1="128.6" x2="438.5" y2="128.3" stroke="#555" stroke-width="0.6" /><line x1="511.8" y1="41.6" x2="579.4" y2="30.0" stroke="#e4e4e4" stroke-width="0.6" /><line x1="579.4" y1="30.0" x2="655.4" y2="40.0" stroke="#e4e4e4" stroke-width="0.6" /><line x1="512.5" y1="58.9" x2="579.4" y2="45.0" stroke="#e4e4e4" stroke-width="0.6" /><line x1="579.4" y1="45.0" x2="654.6" y2="56.9" stroke="#e4e4e4" stroke-width="0.6" /><line x1="513.2" y1="75.5" x2="579.4" y2="59.4" stroke="#e4e4e4" stroke-width="0.6" /><line x1="579.4" y1="59.4" x2="653.8" y2="73.2" stroke="#e4e4e4" stroke-width="0.6" /><line x1="513.8" y1="91.9" x2="579.4" y2="73.7" stroke="#e4e4e4" stroke-width="0.6" /><line x1="579.4" y1="73.7" x2="653.1" y2="89.3" stroke="#e4e4e4" stroke-width="0.6" /><line x1="514.5" y1="108.8" x2="579.4" y2="88.3" stroke="#e4e4e4" stroke-width="0.6" /><line x1="579.4" y1="88.3" x2="652.3" y2="105.9" stroke="#e4e4e4" stroke-width="0.6" /><line x1="515.2" y1="126.5" x2="579.4" y2="103.7" stroke="#e4e4e4" stroke-width="0.6" /><line x1="579.4" y1="103.7" x2="651.5" y2="123.3" stroke="#e4e4e4" stroke-width="0.6" /><line x1="548.5" y1="28.9" x2="550.3" y2="118.3" stroke="#e4e4e4" stroke-width="0.6" /><line x1="614.9" y1="28.3" x2="612.8" y2="117.0" stroke="#e4e4e4" stroke-width="0.6" /><line x1="511.5" y1="34.7" x2="579.4" y2="24.0" stroke="#8a8a8a" stroke-width="0.7" /><line x1="579.4" y1="24.0" x2="655.7" y2="33.2" stroke="#9a9a9a" stroke-width="0.7" /><line x1="579.4" y1="24.0" x2="579.4" y2="107.7" stroke="#c8c8c8" stroke-width="0.6" /><line x1="655.7" y1="33.2" x2="651.3" y2="127.8" stroke="#cacaca" stroke-width="0.6" /><polygon points="515.4,131.1 590.7,159.1 651.3,127.8 579.4,107.7" fill="#a8ea2e" /><g clip-path="url(#clip25)"><polygon points="513.0,131.2 548.0,120.3 551.5,126.5 532.0,130.5 519.0,133.0" fill="url(#lg26)" /><polygon points="606.0,115.3 653.0,128.3 642.0,135.0 628.0,141.0 619.0,134.0 611.0,124.0" fill="url(#lg27)" /><polygon points="543.0,139.2 567.0,147.2 592.0,155.8 590.5,158.6 565.0,150.6 541.0,142.2" fill="url(#lg28)" /><ellipse cx="589" cy="131.5" rx="23" ry="7" fill="url(#rg29)"/></g><line x1="511.5" y1="34.7" x2="515.4" y2="131.1" stroke="#333" stroke-width="1.0" /><line x1="509.6" y1="41.9" x2="511.8" y2="41.6" stroke="#333" stroke-width="0.8" /><text x="0.0" y="0.0" font-family="Liberation Sans" font-size="7.6" font-weight="normal" fill="#222" text-anchor="end" transform="translate(509.2,45.0) skewY(-9) scale(0.8,1)" stroke="#222" stroke-width="0.3">1.43E6</text><line x1="510.3" y1="59.2" x2="512.5" y2="58.9" stroke="#333" stroke-width="0.8" /><text x="0.0" y="0.0" font-family="Liberation Sans" font-size="7.6" font-weight="normal" fill="#222" text-anchor="end" transform="translate(509.9,62.3) skewY(-9) scale(0.8,1)" stroke="#222" stroke-width="0.3">1.40E6</text><line x1="511.0" y1="75.8" x2="513.2" y2="75.5" stroke="#333" stroke-width="0.8" /><text x="0.0" y="0.0" font-family="Liberation Sans" font-size="7.6" font-weight="normal" fill="#222" text-anchor="end" transform="translate(510.6,78.9) skewY(-9) scale(0.8,1)" stroke="#222" stroke-width="0.3">1.38E6</text><line x1="511.6" y1="92.2" x2="513.8" y2="91.9" stroke="#333" stroke-width="0.8" /><text x="0.0" y="0.0" font-family="Liberation Sans" font-size="7.6" font-weight="normal" fill="#222" text-anchor="end" transform="translate(511.2,95.3) skewY(-9) scale(0.8,1)" stroke="#222" stroke-width="0.3">1.35E6</text><line x1="512.3" y1="109.1" x2="514.5" y2="108.8" stroke="#333" stroke-width="0.8" /><text x="0.0" y="0.0" font-family="Liberation Sans" font-size="7.6" font-weight="normal" fill="#222" text-anchor="end" transform="translate(511.9,112.2) skewY(-9) scale(0.8,1)" stroke="#222" stroke-width="0.3">1.33E6</text><line x1="513.0" y1="126.8" x2="515.2" y2="126.5" stroke="#333" stroke-width="0.8" /><text x="0.0" y="0.0" font-family="Liberation Sans" font-size="7.6" font-weight="normal" fill="#222" text-anchor="end" transform="translate(512.6,129.9) skewY(-9) scale(0.8,1)" stroke="#222" stroke-width="0.3">1.30E6</text><polygon points="514.1,89.4 521.0,81.8 528.6,74.2 535.5,70.8 543.0,72.9 549.9,71.5 555.4,64.6 562.3,63.9 567.8,52.2 572.0,50.8 579.5,36.4 585.5,50.1 593.1,55.0 600.0,49.5 607.5,63.9 613.7,70.8 621.3,62.5 629.6,67.4 646.1,64.6 653.7,60.5 646.1,72.2 637.8,80.4 630.9,87.3 625.4,90.1 619.9,92.8 613.0,103.8 610.3,114.9 607.5,120.4 606.2,125.0 600.0,128.5 594.0,132.0 591.3,134.6 584.0,130.0 571.0,123.0 565.0,124.5 560.0,128.0 549.4,127.2 542.9,120.0 538.9,112.1 536.9,104.2 526.5,106.6 522.5,104.9 519.0,102.5" fill="url(#rg30)" /><polygon points="514.1,89.4 521.0,81.8 528.6,74.2 535.5,70.8 543.0,72.9 549.9,71.5 555.4,64.6 562.3,63.9 567.8,52.2 572.0,50.8 579.5,36.4 585.5,50.1 593.1,55.0 600.0,49.5 607.5,63.9 613.7,70.8 621.3,62.5 629.6,67.4 646.1,64.6 653.7,60.5 646.1,72.2 637.8,80.4 630.9,87.3 625.4,90.1 619.9,92.8 613.0,103.8 610.3,114.9 607.5,120.4 606.2,125.0 600.0,128.5 594.0,132.0 591.3,134.6 584.0,130.0 571.0,123.0 565.0,124.5 560.0,128.0 549.4,127.2 542.9,120.0 538.9,112.1 536.9,104.2 526.5,106.6 522.5,104.9 519.0,102.5" fill="url(#pg31)" /><g clip-path="url(#sc32)"><polygon points="563.0,105.0 570.0,100.0 578.0,97.5 590.0,98.0 598.0,99.5 601.0,103.0 598.6,104.5 588.4,108.2 575.0,108.0 565.0,107.2" fill="url(#lg33)" /><polygon points="542.9,116.0 556.0,115.0 566.0,118.0 570.0,122.0 562.0,127.5 549.4,127.2" fill="url(#lg34)" /><polygon points="625.4,90.1 619.9,92.8 613.0,103.8 600.0,113.0 596.0,110.0 606.0,100.0 616.0,92.0" fill="url(#lg35)" /><polygon points="598.0,109.0 606.0,112.0 609.0,117.0 607.5,120.4 600.0,128.0 591.0,133.0 594.0,120.0" fill="url(#lg36)" /></g><rect x="657.9" y="34.5" width="5.3" height="89.9" fill="url(#lg37)"/><text x="663.8" y="37.1" font-family="Liberation Sans" font-size="7" font-weight="normal" fill="#1a1a1a" text-anchor="start" stroke="#1a1a1a" stroke-width="0.25">1.41M</text><text x="663.8" y="55.1" font-family="Liberation Sans" font-size="7" font-weight="normal" fill="#1a1a1a" text-anchor="start" stroke="#1a1a1a" stroke-width="0.25">1.39M</text><text x="663.8" y="73.1" font-family="Liberation Sans" font-size="7" font-weight="normal" fill="#1a1a1a" text-anchor="start" stroke="#1a1a1a" stroke-width="0.25">1.37M</text><text x="663.8" y="91.0" font-family="Liberation Sans" font-size="7" font-weight="normal" fill="#1a1a1a" text-anchor="start" stroke="#1a1a1a" stroke-width="0.25">1.34M</text><text x="663.8" y="109.0" font-family="Liberation Sans" font-size="7" font-weight="normal" fill="#1a1a1a" text-anchor="start" stroke="#1a1a1a" stroke-width="0.25">1.32M</text><text x="663.8" y="127.0" font-family="Liberation Sans" font-size="7" font-weight="normal" fill="#1a1a1a" text-anchor="start" stroke="#1a1a1a" stroke-width="0.25">1.29M</text><text x="531.6" y="156.6" font-family="Liberation Sans" font-size="10.3" font-weight="normal" fill="#222" text-anchor="start" >X/mm</text><text x="633.4" y="149.3" font-family="Liberation Sans" font-size="10.3" font-weight="normal" fill="#222" text-anchor="start" >Y/mm</text><text x="477.6" y="94.0" font-family="Liberation Sans" font-size="10.5" font-weight="normal" fill="#333" text-anchor="start" >|Z|</text><ellipse cx="586.9" cy="160.9" rx="2.6" ry="1.1" fill="none" stroke="#555" stroke-width="0.7"/><ellipse cx="595.9" cy="160.7" rx="2.6" ry="1.1" fill="none" stroke="#555" stroke-width="0.7" transform="rotate(-18 595.9 160.7)"/><line x1="545.0" y1="145.6" x2="548.0" y2="145.0" stroke="#555" stroke-width="0.6" /><line x1="627.0" y1="144.3" x2="629.6" y2="142.9" stroke="#555" stroke-width="0.6" /><line x1="508.0" y1="132.4" x2="510.4" y2="132.0" stroke="#555" stroke-width="0.6" /><line x1="651.9" y1="128.6" x2="654.2" y2="128.3" stroke="#555" stroke-width="0.6" /><line x1="80.9" y1="208.1" x2="148.4" y2="196.0" stroke="#e4e4e4" stroke-width="0.6" /><line x1="148.4" y1="196.0" x2="224.2" y2="206.4" stroke="#e4e4e4" stroke-width="0.6" /><line x1="81.8" y1="228.7" x2="148.4" y2="213.9" stroke="#e4e4e4" stroke-width="0.6" /><line x1="148.4" y1="213.9" x2="223.3" y2="226.6" stroke="#e4e4e4" stroke-width="0.6" /><line x1="82.6" y1="248.3" x2="148.4" y2="230.9" stroke="#e4e4e4" stroke-width="0.6" /><line x1="148.4" y1="230.9" x2="222.4" y2="245.8" stroke="#e4e4e4" stroke-width="0.6" /><line x1="83.3" y1="266.8" x2="148.4" y2="246.9" stroke="#e4e4e4" stroke-width="0.6" /><line x1="148.4" y1="246.9" x2="221.5" y2="264.0" stroke="#e4e4e4" stroke-width="0.6" /><line x1="84.1" y1="286.1" x2="148.4" y2="263.7" stroke="#e4e4e4" stroke-width="0.6" /><line x1="148.4" y1="263.7" x2="220.6" y2="282.9" stroke="#e4e4e4" stroke-width="0.6" /><line x1="117.5" y1="191.4" x2="119.3" y2="280.8" stroke="#e4e4e4" stroke-width="0.6" /><line x1="183.9" y1="190.8" x2="181.8" y2="279.5" stroke="#e4e4e4" stroke-width="0.6" /><line x1="80.5" y1="197.2" x2="148.4" y2="186.5" stroke="#8a8a8a" stroke-width="0.7" /><line x1="148.4" y1="186.5" x2="224.7" y2="195.7" stroke="#9a9a9a" stroke-width="0.7" /><line x1="148.4" y1="186.5" x2="148.4" y2="270.2" stroke="#c8c8c8" stroke-width="0.6" /><line x1="224.7" y1="195.7" x2="220.3" y2="290.3" stroke="#cacaca" stroke-width="0.6" /><polygon points="84.4,293.6 159.7,321.6 220.3,290.3 148.4,270.2" fill="#cc1a1c" /><g clip-path="url(#clip38)"><ellipse cx="84.4" cy="293.6" rx="22.4" ry="9.8" fill="url(#rg39)" opacity="0.8"/><ellipse cx="159.7" cy="321.6" rx="19.2" ry="8.4" fill="url(#rg40)" opacity="0.8"/><ellipse cx="220.3" cy="290.3" rx="16.0" ry="7.0" fill="url(#rg41)" opacity="0.8"/><ellipse cx="153.0" cy="293.6" rx="50.0" ry="18.5" fill="url(#rg42)"/></g><polyline points="84.4,293.6 159.7,321.6 220.3,290.3" fill="none" stroke="#6a0a0e" stroke-width="0.6" opacity="0.8"/><line x1="80.5" y1="197.2" x2="84.4" y2="293.6" stroke="#333" stroke-width="1.0" /><line x1="78.7" y1="208.4" x2="80.9" y2="208.1" stroke="#333" stroke-width="0.8" /><text x="0.0" y="0.0" font-family="Liberation Sans" font-size="7.6" font-weight="normal" fill="#222" text-anchor="end" transform="translate(78.3,211.5) skewY(-9) scale(0.8,1)" stroke="#222" stroke-width="0.3">2.09E6</text><line x1="79.6" y1="229.0" x2="81.8" y2="228.7" stroke="#333" stroke-width="0.8" /><text x="0.0" y="0.0" font-family="Liberation Sans" font-size="7.6" font-weight="normal" fill="#222" text-anchor="end" transform="translate(79.2,232.1) skewY(-9) scale(0.8,1)" stroke="#222" stroke-width="0.3">2.04E6</text><line x1="80.4" y1="248.6" x2="82.6" y2="248.3" stroke="#333" stroke-width="0.8" /><text x="0.0" y="0.0" font-family="Liberation Sans" font-size="7.6" font-weight="normal" fill="#222" text-anchor="end" transform="translate(80.0,251.7) skewY(-9) scale(0.8,1)" stroke="#222" stroke-width="0.3">1.98E6</text><line x1="81.1" y1="267.1" x2="83.3" y2="266.8" stroke="#333" stroke-width="0.8" /><text x="0.0" y="0.0" font-family="Liberation Sans" font-size="7.6" font-weight="normal" fill="#222" text-anchor="end" transform="translate(80.7,270.2) skewY(-9) scale(0.8,1)" stroke="#222" stroke-width="0.3">1.93E6</text><line x1="81.9" y1="286.4" x2="84.1" y2="286.1" stroke="#333" stroke-width="0.8" /><text x="0.0" y="0.0" font-family="Liberation Sans" font-size="7.6" font-weight="normal" fill="#222" text-anchor="end" transform="translate(81.5,289.5) skewY(-9) scale(0.8,1)" stroke="#222" stroke-width="0.3">1.87E6</text><polygon points="82.1,215.0 86.9,216.3 91.0,219.8 95.8,218.4 103.4,221.2 111.7,221.8 119.9,217.0 128.2,215.0 136.5,211.5 140.6,204.6 148.2,195.0 151.6,203.3 154.1,208.1 167.9,212.9 175.5,223.9 183.0,212.9 191.3,219.8 198.2,226.0 206.5,221.2 210.6,221.8 218.8,212.2 223.0,212.2 214.7,223.9 207.8,228.0 203.7,232.2 199.6,237.7 195.4,240.4 187.2,248.7 177.5,257.0 169.3,263.8 165.1,272.1 159.6,279.0 155.5,281.7 151.6,277.6 140.6,274.9 136.5,268.0 130.9,259.7 125.4,250.1 119.9,240.4 113.0,242.5 110.3,240.4 104.8,234.9 97.9,232.9 88.3,219.8" fill="#cc1a1c" /><polygon points="82.1,215.0 86.9,216.3 91.0,219.8 95.8,218.4 103.4,221.2 111.7,221.8 119.9,217.0 128.2,215.0 136.5,211.5 140.6,204.6 148.2,195.0 151.6,203.3 154.1,208.1 167.9,212.9 175.5,223.9 183.0,212.9 191.3,219.8 198.2,226.0 206.5,221.2 210.6,221.8 218.8,212.2 223.0,212.2 214.7,223.9 207.8,228.0 203.7,232.2 199.6,237.7 195.4,240.4 187.2,248.7 177.5,257.0 169.3,263.8 165.1,272.1 159.6,279.0 155.5,281.7 151.6,277.6 140.6,274.9 136.5,268.0 130.9,259.7 125.4,250.1 119.9,240.4 113.0,242.5 110.3,240.4 104.8,234.9 97.9,232.9 88.3,219.8" fill="url(#pg43)" /><g clip-path="url(#sc44)"><ellipse cx="221.0" cy="214.0" rx="7.0" ry="4.0" fill="url(#dk46)"/><ellipse cx="86.0" cy="217.0" rx="6.0" ry="4.0" fill="url(#dk48)"/><polygon points="104.8,234.9 103.4,221.2 111.7,221.8 119.9,217.0 198.0,214.0 198.2,226.0 199.6,237.7 199.6,245.7 196.8,247.0 188.6,250.5 177.5,245.7 167.9,240.2 160.0,239.5 150.2,240.2 142.0,247.8 133.7,246.4 126.8,249.8 119.9,247.0 117.2,242.9 104.8,242.9" fill="url(#rg49)" /><polygon points="104.8,234.9 117.2,234.9 119.9,239.0 126.8,241.8 133.7,238.4 142.0,239.8 150.2,232.2 160.0,231.5 167.9,232.2 177.5,237.7 188.6,242.5 196.8,239.0 199.6,237.7 195.4,240.4 187.2,248.7 177.5,257.0 169.3,263.8 165.1,272.1 159.6,279.0 155.5,281.7 151.6,277.6 140.6,274.9 136.5,268.0 130.9,259.7 125.4,250.1 119.9,240.4 113.0,242.5 110.3,240.4" fill="url(#rg50)" /><polyline points="104.8,234.9 117.2,234.9 119.9,239.0 126.8,241.8 133.7,238.4 142.0,239.8 150.2,232.2 160.0,231.5 167.9,232.2 177.5,237.7 188.6,242.5 196.8,239.0 199.6,237.7" fill="none" stroke="#7a0c12" stroke-width="1.2" stroke-opacity="0.45" stroke-linejoin="round"/></g><rect x="226.9" y="197.0" width="5.3" height="89.9" fill="url(#lg51)"/><text x="232.8" y="199.6" font-family="Liberation Sans" font-size="7" font-weight="normal" fill="#1a1a1a" text-anchor="start" stroke="#1a1a1a" stroke-width="0.25">2.10M</text><text x="232.8" y="217.6" font-family="Liberation Sans" font-size="7" font-weight="normal" fill="#1a1a1a" text-anchor="start" stroke="#1a1a1a" stroke-width="0.25">2.06M</text><text x="232.8" y="235.6" font-family="Liberation Sans" font-size="7" font-weight="normal" fill="#1a1a1a" text-anchor="start" stroke="#1a1a1a" stroke-width="0.25">2.01M</text><text x="232.8" y="253.5" font-family="Liberation Sans" font-size="7" font-weight="normal" fill="#1a1a1a" text-anchor="start" stroke="#1a1a1a" stroke-width="0.25">1.97M</text><text x="232.8" y="271.5" font-family="Liberation Sans" font-size="7" font-weight="normal" fill="#1a1a1a" text-anchor="start" stroke="#1a1a1a" stroke-width="0.25">1.93M</text><text x="232.8" y="289.5" font-family="Liberation Sans" font-size="7" font-weight="normal" fill="#1a1a1a" text-anchor="start" stroke="#1a1a1a" stroke-width="0.25">1.89M</text><text x="100.6" y="319.1" font-family="Liberation Sans" font-size="10.3" font-weight="normal" fill="#222" text-anchor="start" >X/mm</text><text x="202.4" y="311.8" font-family="Liberation Sans" font-size="10.3" font-weight="normal" fill="#222" text-anchor="start" >Y/mm</text><text x="46.1" y="254.4" font-family="Liberation Sans" font-size="10.5" font-weight="normal" fill="#333" text-anchor="start" >|Z|</text><ellipse cx="155.9" cy="323.4" rx="2.6" ry="1.1" fill="none" stroke="#555" stroke-width="0.7"/><ellipse cx="164.9" cy="323.2" rx="2.6" ry="1.1" fill="none" stroke="#555" stroke-width="0.7" transform="rotate(-18 164.9 323.2)"/><line x1="114.0" y1="308.1" x2="117.0" y2="307.5" stroke="#555" stroke-width="0.6" /><line x1="196.0" y1="306.8" x2="198.6" y2="305.4" stroke="#555" stroke-width="0.6" /><line x1="77.0" y1="294.9" x2="79.4" y2="294.5" stroke="#555" stroke-width="0.6" /><line x1="220.9" y1="291.1" x2="223.2" y2="290.8" stroke="#555" stroke-width="0.6" /><line x1="296.4" y1="212.6" x2="363.7" y2="199.9" stroke="#e4e4e4" stroke-width="0.6" /><line x1="363.7" y1="199.9" x2="439.3" y2="210.8" stroke="#e4e4e4" stroke-width="0.6" /><line x1="297.2" y1="230.6" x2="363.7" y2="215.5" stroke="#e4e4e4" stroke-width="0.6" /><line x1="363.7" y1="215.5" x2="438.5" y2="228.5" stroke="#e4e4e4" stroke-width="0.6" /><line x1="297.9" y1="248.6" x2="363.7" y2="231.1" stroke="#e4e4e4" stroke-width="0.6" /><line x1="363.7" y1="231.1" x2="437.7" y2="246.1" stroke="#e4e4e4" stroke-width="0.6" /><line x1="298.6" y1="266.3" x2="363.7" y2="246.5" stroke="#e4e4e4" stroke-width="0.6" /><line x1="363.7" y1="246.5" x2="436.8" y2="263.5" stroke="#e4e4e4" stroke-width="0.6" /><line x1="299.3" y1="284.4" x2="363.7" y2="262.2" stroke="#e4e4e4" stroke-width="0.6" /><line x1="363.7" y1="262.2" x2="436.0" y2="281.3" stroke="#e4e4e4" stroke-width="0.6" /><line x1="332.8" y1="191.4" x2="334.6" y2="280.8" stroke="#e4e4e4" stroke-width="0.6" /><line x1="399.2" y1="190.8" x2="397.1" y2="279.5" stroke="#e4e4e4" stroke-width="0.6" /><line x1="295.8" y1="197.2" x2="363.7" y2="186.5" stroke="#8a8a8a" stroke-width="0.7" /><line x1="363.7" y1="186.5" x2="440.0" y2="195.7" stroke="#9a9a9a" stroke-width="0.7" /><line x1="363.7" y1="186.5" x2="363.7" y2="270.2" stroke="#c8c8c8" stroke-width="0.6" /><line x1="440.0" y1="195.7" x2="435.6" y2="290.3" stroke="#cacaca" stroke-width="0.6" /><polygon points="299.7,293.6 375.0,321.6 435.6,290.3 363.7,270.2" fill="#cc1a1c" /><g clip-path="url(#clip52)"><ellipse cx="299.7" cy="293.6" rx="22.4" ry="9.8" fill="url(#rg53)" opacity="0.8"/><ellipse cx="375.0" cy="321.6" rx="19.2" ry="8.4" fill="url(#rg54)" opacity="0.8"/><ellipse cx="435.6" cy="290.3" rx="16.0" ry="7.0" fill="url(#rg55)" opacity="0.8"/><ellipse cx="368.5" cy="294.5" rx="45.7" ry="16.3" fill="url(#rg56)"/></g><polyline points="299.7,293.6 375.0,321.6 435.6,290.3" fill="none" stroke="#6a0a0e" stroke-width="0.6" opacity="0.8"/><line x1="295.8" y1="197.2" x2="299.7" y2="293.6" stroke="#333" stroke-width="1.0" /><line x1="294.2" y1="212.9" x2="296.4" y2="212.6" stroke="#333" stroke-width="0.8" /><text x="0.0" y="0.0" font-family="Liberation Sans" font-size="7.6" font-weight="normal" fill="#222" text-anchor="end" transform="translate(293.8,216.0) skewY(-9) scale(0.8,1)" stroke="#222" stroke-width="0.3">1.89E6</text><line x1="295.0" y1="230.9" x2="297.2" y2="230.6" stroke="#333" stroke-width="0.8" /><text x="0.0" y="0.0" font-family="Liberation Sans" font-size="7.6" font-weight="normal" fill="#222" text-anchor="end" transform="translate(294.6,234.0) skewY(-9) scale(0.8,1)" stroke="#222" stroke-width="0.3">1.85E6</text><line x1="295.7" y1="248.9" x2="297.9" y2="248.6" stroke="#333" stroke-width="0.8" /><text x="0.0" y="0.0" font-family="Liberation Sans" font-size="7.6" font-weight="normal" fill="#222" text-anchor="end" transform="translate(295.3,252.0) skewY(-9) scale(0.8,1)" stroke="#222" stroke-width="0.3">1.82E6</text><line x1="296.4" y1="266.6" x2="298.6" y2="266.3" stroke="#333" stroke-width="0.8" /><text x="0.0" y="0.0" font-family="Liberation Sans" font-size="7.6" font-weight="normal" fill="#222" text-anchor="end" transform="translate(296.0,269.7) skewY(-9) scale(0.8,1)" stroke="#222" stroke-width="0.3">1.78E6</text><line x1="297.1" y1="284.7" x2="299.3" y2="284.4" stroke="#333" stroke-width="0.8" /><text x="0.0" y="0.0" font-family="Liberation Sans" font-size="7.6" font-weight="normal" fill="#222" text-anchor="end" transform="translate(296.7,287.8) skewY(-9) scale(0.8,1)" stroke="#222" stroke-width="0.3">1.75E6</text><polygon points="297.8,223.9 303.9,222.5 312.9,228.0 319.1,226.0 321.2,228.7 329.4,227.4 339.1,224.6 345.9,216.3 352.1,220.5 359.0,213.6 363.8,200.5 370.0,208.1 370.5,210.1 377.4,211.5 384.3,219.8 391.2,217.7 398.7,228.0 410.4,226.0 422.8,224.6 425.6,223.2 436.6,223.2 429.7,228.0 422.8,234.9 417.3,241.8 413.2,247.3 406.3,254.2 399.4,259.7 392.5,266.6 388.1,271.8 378.8,280.0 373.3,281.5 367.1,281.1 360.0,276.4 348.4,267.1 343.0,262.0 337.0,256.0 330.8,252.8 326.7,247.3 320.5,245.3 312.9,234.9 306.0,230.8" fill="#cc1a1c" /><polygon points="297.8,223.9 303.9,222.5 312.9,228.0 319.1,226.0 321.2,228.7 329.4,227.4 339.1,224.6 345.9,216.3 352.1,220.5 359.0,213.6 363.8,200.5 370.0,208.1 370.5,210.1 377.4,211.5 384.3,219.8 391.2,217.7 398.7,228.0 410.4,226.0 422.8,224.6 425.6,223.2 436.6,223.2 429.7,228.0 422.8,234.9 417.3,241.8 413.2,247.3 406.3,254.2 399.4,259.7 392.5,266.6 388.1,271.8 378.8,280.0 373.3,281.5 367.1,281.1 360.0,276.4 348.4,267.1 343.0,262.0 337.0,256.0 330.8,252.8 326.7,247.3 320.5,245.3 312.9,234.9 306.0,230.8" fill="url(#pg57)" /><g clip-path="url(#sc58)"><polygon points="326.7,247.3 321.2,228.7 329.4,227.4 339.1,224.6 345.9,216.3 398.0,214.0 398.7,228.0 414.6,240.0 417.3,241.8 417.3,249.8 414.6,252.6 410.4,250.5 402.2,251.2 392.5,255.3 381.5,263.6 374.6,258.1 369.1,259.5 365.0,256.0 358.3,256.7 350.1,253.3 341.8,259.5 333.6,257.4 326.7,255.3" fill="url(#rg59)" /><polygon points="326.7,247.3 333.6,249.4 341.8,251.5 350.1,245.3 358.3,248.7 365.0,248.0 369.1,251.5 374.6,250.1 381.5,255.6 392.5,247.3 402.2,243.2 410.4,242.5 414.6,244.6 417.3,241.8 413.2,247.3 406.3,254.2 399.4,259.7 392.5,266.6 388.1,271.8 378.8,280.0 373.3,281.5 367.1,281.1 360.0,276.4 348.4,267.1 343.0,262.0 337.0,256.0 330.8,252.8" fill="url(#rg60)" /><polyline points="326.7,247.3 333.6,249.4 341.8,251.5 350.1,245.3 358.3,248.7 365.0,248.0 369.1,251.5 374.6,250.1 381.5,255.6 392.5,247.3 402.2,243.2 410.4,242.5 414.6,244.6 417.3,241.8" fill="none" stroke="#7a0c12" stroke-width="1.2" stroke-opacity="0.45" stroke-linejoin="round"/></g><rect x="442.2" y="197.0" width="5.3" height="89.9" fill="url(#lg61)"/><text x="448.1" y="199.6" font-family="Liberation Sans" font-size="7" font-weight="normal" fill="#1a1a1a" text-anchor="start" stroke="#1a1a1a" stroke-width="0.25">1.89M</text><text x="448.1" y="217.6" font-family="Liberation Sans" font-size="7" font-weight="normal" fill="#1a1a1a" text-anchor="start" stroke="#1a1a1a" stroke-width="0.25">1.86M</text><text x="448.1" y="235.6" font-family="Liberation Sans" font-size="7" font-weight="normal" fill="#1a1a1a" text-anchor="start" stroke="#1a1a1a" stroke-width="0.25">1.83M</text><text x="448.1" y="253.5" font-family="Liberation Sans" font-size="7" font-weight="normal" fill="#1a1a1a" text-anchor="start" stroke="#1a1a1a" stroke-width="0.25">1.80M</text><text x="448.1" y="271.5" font-family="Liberation Sans" font-size="7" font-weight="normal" fill="#1a1a1a" text-anchor="start" stroke="#1a1a1a" stroke-width="0.25">1.77M</text><text x="448.1" y="289.5" font-family="Liberation Sans" font-size="7" font-weight="normal" fill="#1a1a1a" text-anchor="start" stroke="#1a1a1a" stroke-width="0.25">1.75M</text><text x="315.9" y="319.1" font-family="Liberation Sans" font-size="10.3" font-weight="normal" fill="#222" text-anchor="start" >X/mm</text><text x="417.7" y="311.8" font-family="Liberation Sans" font-size="10.3" font-weight="normal" fill="#222" text-anchor="start" >Y/mm</text><text x="262.4" y="256.0" font-family="Liberation Sans" font-size="10.5" font-weight="normal" fill="#333" text-anchor="start" >|Z|</text><ellipse cx="371.2" cy="323.4" rx="2.6" ry="1.1" fill="none" stroke="#555" stroke-width="0.7"/><ellipse cx="380.2" cy="323.2" rx="2.6" ry="1.1" fill="none" stroke="#555" stroke-width="0.7" transform="rotate(-18 380.2 323.2)"/><line x1="329.3" y1="308.1" x2="332.3" y2="307.5" stroke="#555" stroke-width="0.6" /><line x1="411.3" y1="306.8" x2="413.9" y2="305.4" stroke="#555" stroke-width="0.6" /><line x1="292.3" y1="294.9" x2="294.7" y2="294.5" stroke="#555" stroke-width="0.6" /><line x1="436.2" y1="291.1" x2="438.5" y2="290.8" stroke="#555" stroke-width="0.6" /><line x1="512.1" y1="212.9" x2="579.4" y2="200.1" stroke="#e4e4e4" stroke-width="0.6" /><line x1="579.4" y1="200.1" x2="655.0" y2="211.1" stroke="#e4e4e4" stroke-width="0.6" /><line x1="512.8" y1="228.7" x2="579.4" y2="213.9" stroke="#e4e4e4" stroke-width="0.6" /><line x1="579.4" y1="213.9" x2="654.3" y2="226.6" stroke="#e4e4e4" stroke-width="0.6" /><line x1="513.4" y1="243.8" x2="579.4" y2="227.0" stroke="#e4e4e4" stroke-width="0.6" /><line x1="579.4" y1="227.0" x2="653.6" y2="241.4" stroke="#e4e4e4" stroke-width="0.6" /><line x1="514.0" y1="257.9" x2="579.4" y2="239.2" stroke="#e4e4e4" stroke-width="0.6" /><line x1="579.4" y1="239.2" x2="652.9" y2="255.3" stroke="#e4e4e4" stroke-width="0.6" /><line x1="514.6" y1="274.0" x2="579.4" y2="253.2" stroke="#e4e4e4" stroke-width="0.6" /><line x1="579.4" y1="253.2" x2="652.2" y2="271.1" stroke="#e4e4e4" stroke-width="0.6" /><line x1="515.2" y1="288.5" x2="579.4" y2="265.8" stroke="#e4e4e4" stroke-width="0.6" /><line x1="579.4" y1="265.8" x2="651.5" y2="285.3" stroke="#e4e4e4" stroke-width="0.6" /><line x1="548.5" y1="191.4" x2="550.3" y2="280.8" stroke="#e4e4e4" stroke-width="0.6" /><line x1="614.9" y1="190.8" x2="612.8" y2="279.5" stroke="#e4e4e4" stroke-width="0.6" /><line x1="511.5" y1="197.2" x2="579.4" y2="186.5" stroke="#8a8a8a" stroke-width="0.7" /><line x1="579.4" y1="186.5" x2="655.7" y2="195.7" stroke="#9a9a9a" stroke-width="0.7" /><line x1="579.4" y1="186.5" x2="579.4" y2="270.2" stroke="#c8c8c8" stroke-width="0.6" /><line x1="655.7" y1="195.7" x2="651.3" y2="290.3" stroke="#cacaca" stroke-width="0.6" /><polygon points="515.4,293.6 590.7,321.6 651.3,290.3 579.4,270.2" fill="#cc1a1c" /><g clip-path="url(#clip62)"><ellipse cx="515.4" cy="293.6" rx="22.4" ry="9.8" fill="url(#rg63)" opacity="0.8"/><ellipse cx="590.7" cy="321.6" rx="19.2" ry="8.4" fill="url(#rg64)" opacity="0.8"/><ellipse cx="651.3" cy="290.3" rx="16.0" ry="7.0" fill="url(#rg65)" opacity="0.8"/><ellipse cx="588.5" cy="293.0" rx="48.9" ry="17.4" fill="url(#rg66)"/></g><polyline points="515.4,293.6 590.7,321.6 651.3,290.3" fill="none" stroke="#6a0a0e" stroke-width="0.6" opacity="0.8"/><line x1="511.5" y1="197.2" x2="515.4" y2="293.6" stroke="#333" stroke-width="1.0" /><line x1="509.9" y1="213.2" x2="512.1" y2="212.9" stroke="#333" stroke-width="0.8" /><text x="0.0" y="0.0" font-family="Liberation Sans" font-size="7.6" font-weight="normal" fill="#222" text-anchor="end" transform="translate(509.5,216.3) skewY(-9) scale(0.8,1)" stroke="#222" stroke-width="0.3">1.77E6</text><line x1="510.6" y1="229.0" x2="512.8" y2="228.7" stroke="#333" stroke-width="0.8" /><text x="0.0" y="0.0" font-family="Liberation Sans" font-size="7.6" font-weight="normal" fill="#222" text-anchor="end" transform="translate(510.2,232.1) skewY(-9) scale(0.8,1)" stroke="#222" stroke-width="0.3">1.75E6</text><line x1="511.2" y1="244.1" x2="513.4" y2="243.8" stroke="#333" stroke-width="0.8" /><text x="0.0" y="0.0" font-family="Liberation Sans" font-size="7.6" font-weight="normal" fill="#222" text-anchor="end" transform="translate(510.8,247.2) skewY(-9) scale(0.8,1)" stroke="#222" stroke-width="0.3">1.73E6</text><line x1="511.8" y1="258.2" x2="514.0" y2="257.9" stroke="#333" stroke-width="0.8" /><text x="0.0" y="0.0" font-family="Liberation Sans" font-size="7.6" font-weight="normal" fill="#222" text-anchor="end" transform="translate(511.4,261.3) skewY(-9) scale(0.8,1)" stroke="#222" stroke-width="0.3">1.70E6</text><line x1="512.4" y1="274.3" x2="514.6" y2="274.0" stroke="#333" stroke-width="0.8" /><text x="0.0" y="0.0" font-family="Liberation Sans" font-size="7.6" font-weight="normal" fill="#222" text-anchor="end" transform="translate(512.0,277.4) skewY(-9) scale(0.8,1)" stroke="#222" stroke-width="0.3">1.68E6</text><line x1="513.0" y1="288.8" x2="515.2" y2="288.5" stroke="#333" stroke-width="0.8" /><text x="0.0" y="0.0" font-family="Liberation Sans" font-size="7.6" font-weight="normal" fill="#222" text-anchor="end" transform="translate(512.6,291.9) skewY(-9) scale(0.8,1)" stroke="#222" stroke-width="0.3">1.65E6</text><polygon points="512.8,208.1 518.3,208.1 526.5,221.2 534.8,215.7 540.3,215.7 544.4,219.8 548.6,215.7 555.4,223.9 567.8,210.8 572.6,211.5 578.8,205.3 584.4,210.1 585.5,212.9 591.0,217.0 597.9,222.5 607.5,232.2 615.8,234.2 622.7,234.9 629.6,227.4 636.5,227.4 644.7,221.8 648.8,223.9 653.7,218.4 647.5,228.0 640.6,232.2 635.1,239.0 629.6,243.2 625.4,247.3 618.6,252.8 611.7,259.7 604.8,266.6 600.7,272.1 596.0,275.0 587.0,281.0 581.6,279.2 575.0,274.0 569.2,269.4 565.1,261.1 558.2,255.6 551.3,251.5 547.2,244.6 543.0,236.3 537.5,229.4 526.5,222.5 519.6,212.9" fill="#cc1a1c" /><polygon points="512.8,208.1 518.3,208.1 526.5,221.2 534.8,215.7 540.3,215.7 544.4,219.8 548.6,215.7 555.4,223.9 567.8,210.8 572.6,211.5 578.8,205.3 584.4,210.1 585.5,212.9 591.0,217.0 597.9,222.5 607.5,232.2 615.8,234.2 622.7,234.9 629.6,227.4 636.5,227.4 644.7,221.8 648.8,223.9 653.7,218.4 647.5,228.0 640.6,232.2 635.1,239.0 629.6,243.2 625.4,247.3 618.6,252.8 611.7,259.7 604.8,266.6 600.7,272.1 596.0,275.0 587.0,281.0 581.6,279.2 575.0,274.0 569.2,269.4 565.1,261.1 558.2,255.6 551.3,251.5 547.2,244.6 543.0,236.3 537.5,229.4 526.5,222.5 519.6,212.9" fill="url(#pg67)" /><g clip-path="url(#sc68)"><polygon points="547.2,226.7 555.4,223.9 567.8,210.8 572.6,211.5 565.0,235.6 551.0,232.0" fill="url(#lg69)" /><polygon points="543.0,236.3 552.0,237.0 560.0,236.0 570.0,235.0 580.0,234.0 590.0,235.0 600.0,237.0 610.0,241.0 618.6,246.0 625.4,247.3 618.6,252.8 611.7,259.7 604.8,266.6 600.7,272.1 596.0,275.0 587.0,281.0 581.6,279.2 575.0,274.0 569.2,269.4 565.1,261.1 558.2,255.6 551.3,251.5 547.2,244.6" fill="url(#rg70)" /><polygon points="598.0,223.0 607.5,232.2 615.8,234.2 622.7,234.9 629.6,227.4 636.5,227.4 644.7,221.8 648.8,223.9 653.7,218.4 647.5,228.0 640.6,232.2 635.1,239.0 629.6,243.2 625.4,247.3 618.0,251.0 611.0,246.0" fill="url(#lg71)" /></g><rect x="657.9" y="197.0" width="5.3" height="89.9" fill="url(#lg72)"/><text x="663.8" y="199.6" font-family="Liberation Sans" font-size="7" font-weight="normal" fill="#1a1a1a" text-anchor="start" stroke="#1a1a1a" stroke-width="0.25">1.80M</text><text x="663.8" y="217.6" font-family="Liberation Sans" font-size="7" font-weight="normal" fill="#1a1a1a" text-anchor="start" stroke="#1a1a1a" stroke-width="0.25">1.77M</text><text x="663.8" y="235.6" font-family="Liberation Sans" font-size="7" font-weight="normal" fill="#1a1a1a" text-anchor="start" stroke="#1a1a1a" stroke-width="0.25">1.74M</text><text x="663.8" y="253.5" font-family="Liberation Sans" font-size="7" font-weight="normal" fill="#1a1a1a" text-anchor="start" stroke="#1a1a1a" stroke-width="0.25">1.71M</text><text x="663.8" y="271.5" font-family="Liberation Sans" font-size="7" font-weight="normal" fill="#1a1a1a" text-anchor="start" stroke="#1a1a1a" stroke-width="0.25">1.68M</text><text x="663.8" y="289.5" font-family="Liberation Sans" font-size="7" font-weight="normal" fill="#1a1a1a" text-anchor="start" stroke="#1a1a1a" stroke-width="0.25">1.66M</text><text x="531.6" y="319.1" font-family="Liberation Sans" font-size="10.3" font-weight="normal" fill="#222" text-anchor="start" >X/mm</text><text x="633.4" y="311.8" font-family="Liberation Sans" font-size="10.3" font-weight="normal" fill="#222" text-anchor="start" >Y/mm</text><text x="477.6" y="259.2" font-family="Liberation Sans" font-size="10.5" font-weight="normal" fill="#333" text-anchor="start" >|Z|</text><ellipse cx="586.9" cy="323.4" rx="2.6" ry="1.1" fill="none" stroke="#555" stroke-width="0.7"/><ellipse cx="595.9" cy="323.2" rx="2.6" ry="1.1" fill="none" stroke="#555" stroke-width="0.7" transform="rotate(-18 595.9 323.2)"/><line x1="545.0" y1="308.1" x2="548.0" y2="307.5" stroke="#555" stroke-width="0.6" /><line x1="627.0" y1="306.8" x2="629.6" y2="305.4" stroke="#555" stroke-width="0.6" /><line x1="508.0" y1="294.9" x2="510.4" y2="294.5" stroke="#555" stroke-width="0.6" /><line x1="651.9" y1="291.1" x2="654.2" y2="290.8" stroke="#555" stroke-width="0.6" /><line x1="81.0" y1="371.1" x2="148.4" y2="358.9" stroke="#e4e4e4" stroke-width="0.6" /><line x1="148.4" y1="358.9" x2="224.2" y2="369.4" stroke="#e4e4e4" stroke-width="0.6" /><line x1="81.7" y1="389.2" x2="148.4" y2="374.6" stroke="#e4e4e4" stroke-width="0.6" /><line x1="148.4" y1="374.6" x2="223.4" y2="387.1" stroke="#e4e4e4" stroke-width="0.6" /><line x1="82.4" y1="407.3" x2="148.4" y2="390.3" stroke="#e4e4e4" stroke-width="0.6" /><line x1="148.4" y1="390.3" x2="222.5" y2="404.9" stroke="#e4e4e4" stroke-width="0.6" /><line x1="83.2" y1="425.7" x2="148.4" y2="406.3" stroke="#e4e4e4" stroke-width="0.6" /><line x1="148.4" y1="406.3" x2="221.7" y2="423.0" stroke="#e4e4e4" stroke-width="0.6" /><line x1="83.9" y1="444.2" x2="148.4" y2="422.4" stroke="#e4e4e4" stroke-width="0.6" /><line x1="148.4" y1="422.4" x2="220.8" y2="441.1" stroke="#e4e4e4" stroke-width="0.6" /><line x1="117.5" y1="353.9" x2="119.3" y2="443.3" stroke="#e4e4e4" stroke-width="0.6" /><line x1="183.9" y1="353.3" x2="181.8" y2="442.0" stroke="#e4e4e4" stroke-width="0.6" /><line x1="80.5" y1="359.7" x2="148.4" y2="349.0" stroke="#8a8a8a" stroke-width="0.7" /><line x1="148.4" y1="349.0" x2="224.7" y2="358.2" stroke="#9a9a9a" stroke-width="0.7" /><line x1="148.4" y1="349.0" x2="148.4" y2="432.7" stroke="#c8c8c8" stroke-width="0.6" /><line x1="224.7" y1="358.2" x2="220.3" y2="452.8" stroke="#cacaca" stroke-width="0.6" /><polygon points="84.4,456.1 159.7,484.1 220.3,452.8 148.4,432.7" fill="#cc1a1c" /><g clip-path="url(#clip73)"><ellipse cx="84.4" cy="456.1" rx="22.4" ry="9.8" fill="url(#rg74)" opacity="0.8"/><ellipse cx="159.7" cy="484.1" rx="19.2" ry="8.4" fill="url(#rg75)" opacity="0.8"/><ellipse cx="220.3" cy="452.8" rx="16.0" ry="7.0" fill="url(#rg76)" opacity="0.8"/><ellipse cx="153.5" cy="453.6" rx="37.0" ry="12.5" fill="url(#rg77)"/></g><polyline points="84.4,456.1 159.7,484.1 220.3,452.8" fill="none" stroke="#6a0a0e" stroke-width="0.6" opacity="0.8"/><line x1="80.5" y1="359.7" x2="84.4" y2="456.1" stroke="#333" stroke-width="1.0" /><line x1="78.8" y1="371.4" x2="81.0" y2="371.1" stroke="#333" stroke-width="0.8" /><text x="0.0" y="0.0" font-family="Liberation Sans" font-size="7.6" font-weight="normal" fill="#222" text-anchor="end" transform="translate(78.4,374.5) skewY(-9) scale(0.8,1)" stroke="#222" stroke-width="0.3">1.93E6</text><line x1="79.5" y1="389.5" x2="81.7" y2="389.2" stroke="#333" stroke-width="0.8" /><text x="0.0" y="0.0" font-family="Liberation Sans" font-size="7.6" font-weight="normal" fill="#222" text-anchor="end" transform="translate(79.1,392.6) skewY(-9) scale(0.8,1)" stroke="#222" stroke-width="0.3">1.89E6</text><line x1="80.2" y1="407.6" x2="82.4" y2="407.3" stroke="#333" stroke-width="0.8" /><text x="0.0" y="0.0" font-family="Liberation Sans" font-size="7.6" font-weight="normal" fill="#222" text-anchor="end" transform="translate(79.8,410.7) skewY(-9) scale(0.8,1)" stroke="#222" stroke-width="0.3">1.86E6</text><line x1="81.0" y1="426.0" x2="83.2" y2="425.7" stroke="#333" stroke-width="0.8" /><text x="0.0" y="0.0" font-family="Liberation Sans" font-size="7.6" font-weight="normal" fill="#222" text-anchor="end" transform="translate(80.6,429.1) skewY(-9) scale(0.8,1)" stroke="#222" stroke-width="0.3">1.82E6</text><line x1="81.7" y1="444.5" x2="83.9" y2="444.2" stroke="#333" stroke-width="0.8" /><text x="0.0" y="0.0" font-family="Liberation Sans" font-size="7.6" font-weight="normal" fill="#222" text-anchor="end" transform="translate(81.3,447.6) skewY(-9) scale(0.8,1)" stroke="#222" stroke-width="0.3">1.78E6</text><polygon points="82.1,379.8 88.3,377.0 96.5,376.3 104.8,378.4 113.0,379.8 124.1,381.9 132.3,375.0 142.0,368.1 144.0,366.0 148.8,362.6 154.4,364.6 156.9,366.0 163.8,372.9 175.5,383.9 183.7,374.3 189.9,377.0 195.4,384.6 200.3,388.0 207.8,378.4 216.1,370.1 223.7,369.5 218.8,384.6 213.3,386.0 205.1,390.8 196.8,397.7 194.1,401.1 187.2,404.6 181.7,412.8 174.8,423.8 169.3,432.1 163.8,439.0 159.6,441.7 157.1,441.1 148.8,436.2 142.0,430.7 137.8,426.6 133.7,427.3 130.9,425.2 128.2,418.3 125.4,412.8 124.1,407.3 122.7,405.9 115.8,403.9 111.7,402.5 107.5,396.3 103.4,388.0 96.5,385.3 88.3,383.2" fill="#cc1a1c" /><polygon points="82.1,379.8 88.3,377.0 96.5,376.3 104.8,378.4 113.0,379.8 124.1,381.9 132.3,375.0 142.0,368.1 144.0,366.0 148.8,362.6 154.4,364.6 156.9,366.0 163.8,372.9 175.5,383.9 183.7,374.3 189.9,377.0 195.4,384.6 200.3,388.0 207.8,378.4 216.1,370.1 223.7,369.5 218.8,384.6 213.3,386.0 205.1,390.8 196.8,397.7 194.1,401.1 187.2,404.6 181.7,412.8 174.8,423.8 169.3,432.1 163.8,439.0 159.6,441.7 157.1,441.1 148.8,436.2 142.0,430.7 137.8,426.6 133.7,427.3 130.9,425.2 128.2,418.3 125.4,412.8 124.1,407.3 122.7,405.9 115.8,403.9 111.7,402.5 107.5,396.3 103.4,388.0 96.5,385.3 88.3,383.2" fill="url(#pg78)" /><g clip-path="url(#sc79)"><ellipse cx="100.0" cy="380.0" rx="22.0" ry="6.0" fill="url(#dk81)"/><ellipse cx="221.0" cy="371.0" rx="7.0" ry="4.0" fill="url(#dk83)"/><polygon points="111.7,402.5 112.0,390.0 113.0,379.8 124.1,381.9 132.3,375.0 190.0,375.0 195.4,384.6 196.8,397.7 196.8,405.7 195.4,405.7 189.9,404.3 180.3,405.7 176.2,402.2 165.1,398.8 156.9,400.9 150.0,403.0 137.8,405.0 128.2,406.4 121.3,405.7 114.4,402.9 111.7,410.5" fill="url(#rg84)" /><polygon points="111.7,402.5 114.4,394.9 121.3,397.7 128.2,398.4 137.8,397.0 150.0,395.0 156.9,392.9 165.1,390.8 176.2,394.2 180.3,397.7 189.9,396.3 195.4,397.7 196.8,397.7 194.1,401.1 187.2,404.6 181.7,412.8 174.8,423.8 169.3,432.1 163.8,439.0 159.6,441.7 157.1,441.1 148.8,436.2 142.0,430.7 137.8,426.6 133.7,427.3 130.9,425.2 128.2,418.3 125.4,412.8 124.1,407.3 122.7,405.9 115.8,403.9" fill="url(#rg85)" /><polyline points="111.7,402.5 114.4,394.9 121.3,397.7 128.2,398.4 137.8,397.0 150.0,395.0 156.9,392.9 165.1,390.8 176.2,394.2 180.3,397.7 189.9,396.3 195.4,397.7 196.8,397.7" fill="none" stroke="#7a0c12" stroke-width="1.2" stroke-opacity="0.45" stroke-linejoin="round"/></g><rect x="226.9" y="359.5" width="5.3" height="89.9" fill="url(#lg86)"/><text x="232.8" y="362.1" font-family="Liberation Sans" font-size="7" font-weight="normal" fill="#1a1a1a" text-anchor="start" stroke="#1a1a1a" stroke-width="0.25">1.93M</text><text x="232.8" y="380.1" font-family="Liberation Sans" font-size="7" font-weight="normal" fill="#1a1a1a" text-anchor="start" stroke="#1a1a1a" stroke-width="0.25">1.90M</text><text x="232.8" y="398.1" font-family="Liberation Sans" font-size="7" font-weight="normal" fill="#1a1a1a" text-anchor="start" stroke="#1a1a1a" stroke-width="0.25">1.87M</text><text x="232.8" y="416.0" font-family="Liberation Sans" font-size="7" font-weight="normal" fill="#1a1a1a" text-anchor="start" stroke="#1a1a1a" stroke-width="0.25">1.84M</text><text x="232.8" y="434.0" font-family="Liberation Sans" font-size="7" font-weight="normal" fill="#1a1a1a" text-anchor="start" stroke="#1a1a1a" stroke-width="0.25">1.81M</text><text x="232.8" y="452.0" font-family="Liberation Sans" font-size="7" font-weight="normal" fill="#1a1a1a" text-anchor="start" stroke="#1a1a1a" stroke-width="0.25">1.78M</text><text x="100.6" y="481.6" font-family="Liberation Sans" font-size="10.3" font-weight="normal" fill="#222" text-anchor="start" >X/mm</text><text x="202.4" y="474.3" font-family="Liberation Sans" font-size="10.3" font-weight="normal" fill="#222" text-anchor="start" >Y/mm</text><text x="46.1" y="415.0" font-family="Liberation Sans" font-size="10.5" font-weight="normal" fill="#333" text-anchor="start" >|Z|</text><ellipse cx="155.9" cy="485.9" rx="2.6" ry="1.1" fill="none" stroke="#555" stroke-width="0.7"/><ellipse cx="164.9" cy="485.7" rx="2.6" ry="1.1" fill="none" stroke="#555" stroke-width="0.7" transform="rotate(-18 164.9 485.7)"/><line x1="114.0" y1="470.6" x2="117.0" y2="470.0" stroke="#555" stroke-width="0.6" /><line x1="196.0" y1="469.3" x2="198.6" y2="467.9" stroke="#555" stroke-width="0.6" /><line x1="77.0" y1="457.4" x2="79.4" y2="457.0" stroke="#555" stroke-width="0.6" /><line x1="220.9" y1="453.6" x2="223.2" y2="453.3" stroke="#555" stroke-width="0.6" /><line x1="296.5" y1="378.0" x2="363.7" y2="364.9" stroke="#e4e4e4" stroke-width="0.6" /><line x1="363.7" y1="364.9" x2="439.2" y2="376.2" stroke="#e4e4e4" stroke-width="0.6" /><line x1="297.3" y1="396.0" x2="363.7" y2="380.5" stroke="#e4e4e4" stroke-width="0.6" /><line x1="363.7" y1="380.5" x2="438.3" y2="393.8" stroke="#e4e4e4" stroke-width="0.6" /><line x1="298.0" y1="412.9" x2="363.7" y2="395.2" stroke="#e4e4e4" stroke-width="0.6" /><line x1="363.7" y1="395.2" x2="437.6" y2="410.4" stroke="#e4e4e4" stroke-width="0.6" /><line x1="298.7" y1="430.2" x2="363.7" y2="410.2" stroke="#e4e4e4" stroke-width="0.6" /><line x1="363.7" y1="410.2" x2="436.8" y2="427.4" stroke="#e4e4e4" stroke-width="0.6" /><line x1="299.3" y1="447.4" x2="363.7" y2="425.1" stroke="#e4e4e4" stroke-width="0.6" /><line x1="363.7" y1="425.1" x2="436.0" y2="444.3" stroke="#e4e4e4" stroke-width="0.6" /><line x1="332.8" y1="353.9" x2="334.6" y2="443.3" stroke="#e4e4e4" stroke-width="0.6" /><line x1="399.2" y1="353.3" x2="397.1" y2="442.0" stroke="#e4e4e4" stroke-width="0.6" /><line x1="295.8" y1="359.7" x2="363.7" y2="349.0" stroke="#8a8a8a" stroke-width="0.7" /><line x1="363.7" y1="349.0" x2="440.0" y2="358.2" stroke="#9a9a9a" stroke-width="0.7" /><line x1="363.7" y1="349.0" x2="363.7" y2="432.7" stroke="#c8c8c8" stroke-width="0.6" /><line x1="440.0" y1="358.2" x2="435.6" y2="452.8" stroke="#cacaca" stroke-width="0.6" /><polygon points="299.7,456.1 375.0,484.1 435.6,452.8 363.7,432.7" fill="#cc1a1c" /><g clip-path="url(#clip87)"><ellipse cx="299.7" cy="456.1" rx="22.4" ry="9.8" fill="url(#rg88)" opacity="0.8"/><ellipse cx="375.0" cy="484.1" rx="19.2" ry="8.4" fill="url(#rg89)" opacity="0.8"/><ellipse cx="435.6" cy="452.8" rx="16.0" ry="7.0" fill="url(#rg90)" opacity="0.8"/><ellipse cx="365.4" cy="454.7" rx="42.4" ry="15.8" fill="url(#rg91)"/></g><polyline points="299.7,456.1 375.0,484.1 435.6,452.8" fill="none" stroke="#6a0a0e" stroke-width="0.6" opacity="0.8"/><line x1="295.8" y1="359.7" x2="299.7" y2="456.1" stroke="#333" stroke-width="1.0" /><line x1="294.3" y1="378.3" x2="296.5" y2="378.0" stroke="#333" stroke-width="0.8" /><text x="0.0" y="0.0" font-family="Liberation Sans" font-size="7.6" font-weight="normal" fill="#222" text-anchor="end" transform="translate(293.9,381.4) skewY(-9) scale(0.8,1)" stroke="#222" stroke-width="0.3">1.89E6</text><line x1="295.1" y1="396.3" x2="297.3" y2="396.0" stroke="#333" stroke-width="0.8" /><text x="0.0" y="0.0" font-family="Liberation Sans" font-size="7.6" font-weight="normal" fill="#222" text-anchor="end" transform="translate(294.7,399.4) skewY(-9) scale(0.8,1)" stroke="#222" stroke-width="0.3">1.86E6</text><line x1="295.8" y1="413.2" x2="298.0" y2="412.9" stroke="#333" stroke-width="0.8" /><text x="0.0" y="0.0" font-family="Liberation Sans" font-size="7.6" font-weight="normal" fill="#222" text-anchor="end" transform="translate(295.4,416.3) skewY(-9) scale(0.8,1)" stroke="#222" stroke-width="0.3">1.82E6</text><line x1="296.5" y1="430.5" x2="298.7" y2="430.2" stroke="#333" stroke-width="0.8" /><text x="0.0" y="0.0" font-family="Liberation Sans" font-size="7.6" font-weight="normal" fill="#222" text-anchor="end" transform="translate(296.1,433.6) skewY(-9) scale(0.8,1)" stroke="#222" stroke-width="0.3">1.78E6</text><line x1="297.1" y1="447.7" x2="299.3" y2="447.4" stroke="#333" stroke-width="0.8" /><text x="0.0" y="0.0" font-family="Liberation Sans" font-size="7.6" font-weight="normal" fill="#222" text-anchor="end" transform="translate(296.7,450.8) skewY(-9) scale(0.8,1)" stroke="#222" stroke-width="0.3">1.75E6</text><polygon points="298.4,390.8 307.4,392.2 312.2,385.3 317.0,390.8 323.9,396.3 332.2,384.6 339.1,389.4 347.3,383.9 352.8,382.5 358.3,372.9 363.8,363.3 369.4,371.5 370.5,375.7 378.8,380.5 385.7,384.6 399.4,386.0 413.2,387.4 422.1,379.1 429.0,386.0 438.0,385.3 429.7,388.7 422.8,394.9 417.3,405.9 410.4,408.0 403.6,412.8 399.4,418.3 393.9,428.0 388.4,437.6 384.3,443.1 381.8,446.2 366.6,441.1 361.1,437.6 355.6,432.1 350.1,425.2 344.6,419.7 341.8,414.2 336.3,411.5 330.8,410.0 323.9,407.3 318.4,404.6 308.8,396.3" fill="#cc1a1c" /><polygon points="298.4,390.8 307.4,392.2 312.2,385.3 317.0,390.8 323.9,396.3 332.2,384.6 339.1,389.4 347.3,383.9 352.8,382.5 358.3,372.9 363.8,363.3 369.4,371.5 370.5,375.7 378.8,380.5 385.7,384.6 399.4,386.0 413.2,387.4 422.1,379.1 429.0,386.0 438.0,385.3 429.7,388.7 422.8,394.9 417.3,405.9 410.4,408.0 403.6,412.8 399.4,418.3 393.9,428.0 388.4,437.6 384.3,443.1 381.8,446.2 366.6,441.1 361.1,437.6 355.6,432.1 350.1,425.2 344.6,419.7 341.8,414.2 336.3,411.5 330.8,410.0 323.9,407.3 318.4,404.6 308.8,396.3" fill="url(#pg92)" /><g clip-path="url(#sc93)"><ellipse cx="300.0" cy="391.0" rx="5.0" ry="3.0" fill="url(#dk95)"/><ellipse cx="436.0" cy="386.0" rx="5.0" ry="3.0" fill="url(#dk97)"/><polygon points="330.8,407.3 323.9,396.3 332.2,384.6 339.1,389.4 347.3,383.9 352.8,382.5 410.0,383.0 413.2,387.4 417.3,405.9 403.6,412.8 403.6,420.8 400.8,420.8 395.3,413.9 390.5,405.7 382.9,408.4 376.0,407.8 371.9,411.2 365.0,413.0 355.6,418.0 347.3,420.8 339.1,416.7 330.8,415.3" fill="url(#rg98)" /><polygon points="330.8,407.3 339.1,408.7 347.3,412.8 355.6,410.0 365.0,405.0 371.9,403.2 376.0,399.8 382.9,400.4 390.5,397.7 395.3,405.9 400.8,412.8 403.6,412.8 399.4,418.3 393.9,428.0 388.4,437.6 384.3,443.1 381.8,446.2 366.6,441.1 361.1,437.6 355.6,432.1 350.1,425.2 344.6,419.7 341.8,414.2 336.3,411.5 330.8,410.0" fill="url(#rg99)" /><polyline points="330.8,407.3 339.1,408.7 347.3,412.8 355.6,410.0 365.0,405.0 371.9,403.2 376.0,399.8 382.9,400.4 390.5,397.7 395.3,405.9 400.8,412.8 403.6,412.8" fill="none" stroke="#7a0c12" stroke-width="1.2" stroke-opacity="0.45" stroke-linejoin="round"/></g><rect x="442.2" y="359.5" width="5.3" height="89.9" fill="url(#lg100)"/><text x="448.1" y="362.1" font-family="Liberation Sans" font-size="7" font-weight="normal" fill="#1a1a1a" text-anchor="start" stroke="#1a1a1a" stroke-width="0.25">1.89M</text><text x="448.1" y="380.1" font-family="Liberation Sans" font-size="7" font-weight="normal" fill="#1a1a1a" text-anchor="start" stroke="#1a1a1a" stroke-width="0.25">1.86M</text><text x="448.1" y="398.1" font-family="Liberation Sans" font-size="7" font-weight="normal" fill="#1a1a1a" text-anchor="start" stroke="#1a1a1a" stroke-width="0.25">1.83M</text><text x="448.1" y="416.0" font-family="Liberation Sans" font-size="7" font-weight="normal" fill="#1a1a1a" text-anchor="start" stroke="#1a1a1a" stroke-width="0.25">1.80M</text><text x="448.1" y="434.0" font-family="Liberation Sans" font-size="7" font-weight="normal" fill="#1a1a1a" text-anchor="start" stroke="#1a1a1a" stroke-width="0.25">1.77M</text><text x="448.1" y="452.0" font-family="Liberation Sans" font-size="7" font-weight="normal" fill="#1a1a1a" text-anchor="start" stroke="#1a1a1a" stroke-width="0.25">1.74M</text><text x="315.9" y="481.6" font-family="Liberation Sans" font-size="10.3" font-weight="normal" fill="#222" text-anchor="start" >X/mm</text><text x="417.7" y="474.3" font-family="Liberation Sans" font-size="10.3" font-weight="normal" fill="#222" text-anchor="start" >Y/mm</text><text x="262.4" y="419.8" font-family="Liberation Sans" font-size="10.5" font-weight="normal" fill="#333" text-anchor="start" >|Z|</text><ellipse cx="371.2" cy="485.9" rx="2.6" ry="1.1" fill="none" stroke="#555" stroke-width="0.7"/><ellipse cx="380.2" cy="485.7" rx="2.6" ry="1.1" fill="none" stroke="#555" stroke-width="0.7" transform="rotate(-18 380.2 485.7)"/><line x1="329.3" y1="470.6" x2="332.3" y2="470.0" stroke="#555" stroke-width="0.6" /><line x1="411.3" y1="469.3" x2="413.9" y2="467.9" stroke="#555" stroke-width="0.6" /><line x1="292.3" y1="457.4" x2="294.7" y2="457.0" stroke="#555" stroke-width="0.6" /><line x1="436.2" y1="453.6" x2="438.5" y2="453.3" stroke="#555" stroke-width="0.6" /><line x1="512.0" y1="371.1" x2="579.4" y2="358.9" stroke="#e4e4e4" stroke-width="0.6" /><line x1="579.4" y1="358.9" x2="655.2" y2="369.4" stroke="#e4e4e4" stroke-width="0.6" /><line x1="512.7" y1="389.2" x2="579.4" y2="374.6" stroke="#e4e4e4" stroke-width="0.6" /><line x1="579.4" y1="374.6" x2="654.4" y2="387.1" stroke="#e4e4e4" stroke-width="0.6" /><line x1="513.4" y1="407.3" x2="579.4" y2="390.3" stroke="#e4e4e4" stroke-width="0.6" /><line x1="579.4" y1="390.3" x2="653.5" y2="404.9" stroke="#e4e4e4" stroke-width="0.6" /><line x1="514.2" y1="425.3" x2="579.4" y2="406.0" stroke="#e4e4e4" stroke-width="0.6" /><line x1="579.4" y1="406.0" x2="652.7" y2="422.6" stroke="#e4e4e4" stroke-width="0.6" /><line x1="514.9" y1="443.1" x2="579.4" y2="421.4" stroke="#e4e4e4" stroke-width="0.6" /><line x1="579.4" y1="421.4" x2="651.9" y2="440.0" stroke="#e4e4e4" stroke-width="0.6" /><line x1="548.5" y1="353.9" x2="550.3" y2="443.3" stroke="#e4e4e4" stroke-width="0.6" /><line x1="614.9" y1="353.3" x2="612.8" y2="442.0" stroke="#e4e4e4" stroke-width="0.6" /><line x1="511.5" y1="359.7" x2="579.4" y2="349.0" stroke="#8a8a8a" stroke-width="0.7" /><line x1="579.4" y1="349.0" x2="655.7" y2="358.2" stroke="#9a9a9a" stroke-width="0.7" /><line x1="579.4" y1="349.0" x2="579.4" y2="432.7" stroke="#c8c8c8" stroke-width="0.6" /><line x1="655.7" y1="358.2" x2="651.3" y2="452.8" stroke="#cacaca" stroke-width="0.6" /><polygon points="515.4,456.1 590.7,484.1 651.3,452.8 579.4,432.7" fill="#cc1a1c" /><g clip-path="url(#clip101)"><ellipse cx="515.4" cy="456.1" rx="22.4" ry="9.8" fill="url(#rg102)" opacity="0.8"/><ellipse cx="590.7" cy="484.1" rx="19.2" ry="8.4" fill="url(#rg103)" opacity="0.8"/><ellipse cx="651.3" cy="452.8" rx="16.0" ry="7.0" fill="url(#rg104)" opacity="0.8"/><ellipse cx="582.5" cy="453.0" rx="46.7" ry="13.9" fill="url(#rg105)"/></g><polyline points="515.4,456.1 590.7,484.1 651.3,452.8" fill="none" stroke="#6a0a0e" stroke-width="0.6" opacity="0.8"/><line x1="511.5" y1="359.7" x2="515.4" y2="456.1" stroke="#333" stroke-width="1.0" /><line x1="509.8" y1="371.4" x2="512.0" y2="371.1" stroke="#333" stroke-width="0.8" /><text x="0.0" y="0.0" font-family="Liberation Sans" font-size="7.6" font-weight="normal" fill="#222" text-anchor="end" transform="translate(509.4,374.5) skewY(-9) scale(0.8,1)" stroke="#222" stroke-width="0.3">2.00E6</text><line x1="510.5" y1="389.5" x2="512.7" y2="389.2" stroke="#333" stroke-width="0.8" /><text x="0.0" y="0.0" font-family="Liberation Sans" font-size="7.6" font-weight="normal" fill="#222" text-anchor="end" transform="translate(510.1,392.6) skewY(-9) scale(0.8,1)" stroke="#222" stroke-width="0.3">1.96E6</text><line x1="511.2" y1="407.6" x2="513.4" y2="407.3" stroke="#333" stroke-width="0.8" /><text x="0.0" y="0.0" font-family="Liberation Sans" font-size="7.6" font-weight="normal" fill="#222" text-anchor="end" transform="translate(510.8,410.7) skewY(-9) scale(0.8,1)" stroke="#222" stroke-width="0.3">1.93E6</text><line x1="512.0" y1="425.6" x2="514.2" y2="425.3" stroke="#333" stroke-width="0.8" /><text x="0.0" y="0.0" font-family="Liberation Sans" font-size="7.6" font-weight="normal" fill="#222" text-anchor="end" transform="translate(511.6,428.7) skewY(-9) scale(0.8,1)" stroke="#222" stroke-width="0.3">1.89E6</text><line x1="512.7" y1="443.4" x2="514.9" y2="443.1" stroke="#333" stroke-width="0.8" /><text x="0.0" y="0.0" font-family="Liberation Sans" font-size="7.6" font-weight="normal" fill="#222" text-anchor="end" transform="translate(512.3,446.5) skewY(-9) scale(0.8,1)" stroke="#222" stroke-width="0.3">1.86E6</text><polygon points="512.8,386.7 519.6,381.9 528.6,388.7 534.1,387.4 543.0,392.9 549.9,390.8 555.4,381.2 565.1,384.6 573.3,378.4 578.8,364.6 585.5,359.8 592.4,372.9 599.3,379.8 606.9,388.7 613.7,383.9 625.4,385.3 637.8,388.0 644.7,381.2 654.4,378.4 650.2,385.3 646.1,388.0 639.2,392.2 632.3,401.8 625.4,407.3 621.3,411.5 619.9,418.3 615.8,415.6 610.3,421.1 606.2,429.4 603.0,437.0 595.9,439.5 589.7,444.6 584.6,448.2 580.5,445.6 575.4,441.6 570.3,438.5 564.2,428.3 559.6,419.7 554.1,412.8 548.6,408.7 544.4,405.9 537.5,399.1 529.3,394.9 521.0,394.2" fill="#cc1a1c" /><polygon points="512.8,386.7 519.6,381.9 528.6,388.7 534.1,387.4 543.0,392.9 549.9,390.8 555.4,381.2 565.1,384.6 573.3,378.4 578.8,364.6 585.5,359.8 592.4,372.9 599.3,379.8 606.9,388.7 613.7,383.9 625.4,385.3 637.8,388.0 644.7,381.2 654.4,378.4 650.2,385.3 646.1,388.0 639.2,392.2 632.3,401.8 625.4,407.3 621.3,411.5 619.9,418.3 615.8,415.6 610.3,421.1 606.2,429.4 603.0,437.0 595.9,439.5 589.7,444.6 584.6,448.2 580.5,445.6 575.4,441.6 570.3,438.5 564.2,428.3 559.6,419.7 554.1,412.8 548.6,408.7 544.4,405.9 537.5,399.1 529.3,394.9 521.0,394.2" fill="url(#pg106)" /><g clip-path="url(#sc107)"><ellipse cx="652.0" cy="380.0" rx="7.0" ry="4.0" fill="url(#dk109)"/><polygon points="547.2,407.3 543.0,392.9 549.9,390.8 555.4,381.2 565.1,384.6 573.3,378.4 610.0,380.0 613.7,383.9 625.4,395.0 632.3,401.8 632.3,409.8 625.4,408.4 619.9,402.9 607.5,405.7 597.9,408.4 589.6,398.8 581.6,405.7 573.3,409.8 566.5,417.4 555.4,417.4 547.2,415.3" fill="url(#rg110)" /><polygon points="547.2,407.3 555.4,409.4 566.5,409.4 573.3,401.8 581.6,397.7 589.6,390.8 597.9,400.4 607.5,397.7 619.9,394.9 625.4,400.4 632.3,401.8 625.4,407.3 621.3,411.5 619.9,418.3 615.8,415.6 610.3,421.1 606.2,429.4 603.0,437.0 595.9,439.5 589.7,444.6 584.6,448.2 580.5,445.6 575.4,441.6 570.3,438.5 564.2,428.3 559.6,419.7 554.1,412.8 548.6,408.7" fill="url(#rg111)" /><polyline points="547.2,407.3 555.4,409.4 566.5,409.4 573.3,401.8 581.6,397.7 589.6,390.8 597.9,400.4 607.5,397.7 619.9,394.9 625.4,400.4 632.3,401.8" fill="none" stroke="#7a0c12" stroke-width="1.2" stroke-opacity="0.45" stroke-linejoin="round"/></g><rect x="657.9" y="359.5" width="5.3" height="89.9" fill="url(#lg112)"/><text x="663.8" y="362.1" font-family="Liberation Sans" font-size="7" font-weight="normal" fill="#1a1a1a" text-anchor="start" stroke="#1a1a1a" stroke-width="0.25">1.99M</text><text x="663.8" y="380.1" font-family="Liberation Sans" font-size="7" font-weight="normal" fill="#1a1a1a" text-anchor="start" stroke="#1a1a1a" stroke-width="0.25">1.96M</text><text x="663.8" y="398.1" font-family="Liberation Sans" font-size="7" font-weight="normal" fill="#1a1a1a" text-anchor="start" stroke="#1a1a1a" stroke-width="0.25">1.93M</text><text x="663.8" y="416.0" font-family="Liberation Sans" font-size="7" font-weight="normal" fill="#1a1a1a" text-anchor="start" stroke="#1a1a1a" stroke-width="0.25">1.90M</text><text x="663.8" y="434.0" font-family="Liberation Sans" font-size="7" font-weight="normal" fill="#1a1a1a" text-anchor="start" stroke="#1a1a1a" stroke-width="0.25">1.87M</text><text x="663.8" y="452.0" font-family="Liberation Sans" font-size="7" font-weight="normal" fill="#1a1a1a" text-anchor="start" stroke="#1a1a1a" stroke-width="0.25">1.84M</text><text x="531.6" y="481.6" font-family="Liberation Sans" font-size="10.3" font-weight="normal" fill="#222" text-anchor="start" >X/mm</text><text x="633.4" y="474.3" font-family="Liberation Sans" font-size="10.3" font-weight="normal" fill="#222" text-anchor="start" >Y/mm</text><text x="477.6" y="415.0" font-family="Liberation Sans" font-size="10.5" font-weight="normal" fill="#333" text-anchor="start" >|Z|</text><ellipse cx="586.9" cy="485.9" rx="2.6" ry="1.1" fill="none" stroke="#555" stroke-width="0.7"/><ellipse cx="595.9" cy="485.7" rx="2.6" ry="1.1" fill="none" stroke="#555" stroke-width="0.7" transform="rotate(-18 595.9 485.7)"/><line x1="545.0" y1="470.6" x2="548.0" y2="470.0" stroke="#555" stroke-width="0.6" /><line x1="627.0" y1="469.3" x2="629.6" y2="467.9" stroke="#555" stroke-width="0.6" /><line x1="508.0" y1="457.4" x2="510.4" y2="457.0" stroke="#555" stroke-width="0.6" /><line x1="651.9" y1="453.6" x2="654.2" y2="453.3" stroke="#555" stroke-width="0.6" /><line x1="81.1" y1="537.6" x2="148.4" y2="524.9" stroke="#e4e4e4" stroke-width="0.6" /><line x1="148.4" y1="524.9" x2="224.0" y2="535.8" stroke="#e4e4e4" stroke-width="0.6" /><line x1="81.8" y1="553.7" x2="148.4" y2="538.9" stroke="#e4e4e4" stroke-width="0.6" /><line x1="148.4" y1="538.9" x2="223.3" y2="551.6" stroke="#e4e4e4" stroke-width="0.6" /><line x1="82.4" y1="568.1" x2="148.4" y2="551.4" stroke="#e4e4e4" stroke-width="0.6" /><line x1="148.4" y1="551.4" x2="222.6" y2="565.7" stroke="#e4e4e4" stroke-width="0.6" /><line x1="82.9" y1="582.6" x2="148.4" y2="563.9" stroke="#e4e4e4" stroke-width="0.6" /><line x1="148.4" y1="563.9" x2="221.9" y2="580.0" stroke="#e4e4e4" stroke-width="0.6" /><line x1="83.5" y1="597.4" x2="148.4" y2="576.8" stroke="#e4e4e4" stroke-width="0.6" /><line x1="148.4" y1="576.8" x2="221.3" y2="594.5" stroke="#e4e4e4" stroke-width="0.6" /><line x1="84.1" y1="611.9" x2="148.4" y2="589.4" stroke="#e4e4e4" stroke-width="0.6" /><line x1="148.4" y1="589.4" x2="220.6" y2="608.7" stroke="#e4e4e4" stroke-width="0.6" /><line x1="117.5" y1="516.4" x2="119.3" y2="605.8" stroke="#e4e4e4" stroke-width="0.6" /><line x1="183.9" y1="515.8" x2="181.8" y2="604.5" stroke="#e4e4e4" stroke-width="0.6" /><line x1="80.5" y1="522.2" x2="148.4" y2="511.5" stroke="#8a8a8a" stroke-width="0.7" /><line x1="148.4" y1="511.5" x2="224.7" y2="520.7" stroke="#9a9a9a" stroke-width="0.7" /><line x1="148.4" y1="511.5" x2="148.4" y2="595.2" stroke="#c8c8c8" stroke-width="0.6" /><line x1="224.7" y1="520.7" x2="220.3" y2="615.3" stroke="#cacaca" stroke-width="0.6" /><polygon points="84.4,618.6 159.7,646.6 220.3,615.3 148.4,595.2" fill="#cc1a1c" /><g clip-path="url(#clip113)"><ellipse cx="84.4" cy="618.6" rx="22.4" ry="9.8" fill="url(#rg114)" opacity="0.8"/><ellipse cx="159.7" cy="646.6" rx="19.2" ry="8.4" fill="url(#rg115)" opacity="0.8"/><ellipse cx="220.3" cy="615.3" rx="16.0" ry="7.0" fill="url(#rg116)" opacity="0.8"/><ellipse cx="148.4" cy="617.7" rx="48.9" ry="17.8" fill="url(#rg117)"/></g><polyline points="84.4,618.6 159.7,646.6 220.3,615.3" fill="none" stroke="#6a0a0e" stroke-width="0.6" opacity="0.8"/><line x1="80.5" y1="522.2" x2="84.4" y2="618.6" stroke="#333" stroke-width="1.0" /><line x1="78.9" y1="537.9" x2="81.1" y2="537.6" stroke="#333" stroke-width="0.8" /><text x="0.0" y="0.0" font-family="Liberation Sans" font-size="7.6" font-weight="normal" fill="#222" text-anchor="end" transform="translate(78.5,541.0) skewY(-9) scale(0.8,1)" stroke="#222" stroke-width="0.3">2.00E6</text><line x1="79.6" y1="554.0" x2="81.8" y2="553.7" stroke="#333" stroke-width="0.8" /><text x="0.0" y="0.0" font-family="Liberation Sans" font-size="7.6" font-weight="normal" fill="#222" text-anchor="end" transform="translate(79.2,557.1) skewY(-9) scale(0.8,1)" stroke="#222" stroke-width="0.3">1.96E6</text><line x1="80.2" y1="568.4" x2="82.4" y2="568.1" stroke="#333" stroke-width="0.8" /><text x="0.0" y="0.0" font-family="Liberation Sans" font-size="7.6" font-weight="normal" fill="#222" text-anchor="end" transform="translate(79.8,571.5) skewY(-9) scale(0.8,1)" stroke="#222" stroke-width="0.3">1.93E6</text><line x1="80.7" y1="582.9" x2="82.9" y2="582.6" stroke="#333" stroke-width="0.8" /><text x="0.0" y="0.0" font-family="Liberation Sans" font-size="7.6" font-weight="normal" fill="#222" text-anchor="end" transform="translate(80.3,586.0) skewY(-9) scale(0.8,1)" stroke="#222" stroke-width="0.3">1.89E6</text><line x1="81.3" y1="597.7" x2="83.5" y2="597.4" stroke="#333" stroke-width="0.8" /><text x="0.0" y="0.0" font-family="Liberation Sans" font-size="7.6" font-weight="normal" fill="#222" text-anchor="end" transform="translate(80.9,600.8) skewY(-9) scale(0.8,1)" stroke="#222" stroke-width="0.3">1.86E6</text><line x1="81.9" y1="612.2" x2="84.1" y2="611.9" stroke="#333" stroke-width="0.8" /><text x="0.0" y="0.0" font-family="Liberation Sans" font-size="7.6" font-weight="normal" fill="#222" text-anchor="end" transform="translate(81.5,615.3) skewY(-9) scale(0.8,1)" stroke="#222" stroke-width="0.3">1.82E6</text><polygon points="82.1,543.9 89.0,546.0 96.5,540.5 102.0,549.4 110.3,556.3 117.2,547.4 124.1,548.7 135.1,537.0 141.3,530.1 148.8,521.2 155.0,523.3 155.5,525.3 161.0,532.9 167.9,537.0 176.2,541.9 189.9,543.9 198.2,537.7 205.1,536.3 212.0,531.5 217.5,524.6 224.4,526.7 218.8,530.1 214.7,537.0 207.8,545.3 200.9,554.9 196.8,560.4 192.7,567.3 187.2,574.2 180.3,581.1 174.8,588.0 171.8,590.8 166.5,600.6 156.0,605.2 146.8,609.2 136.3,603.9 129.7,597.3 124.1,588.0 119.9,581.1 113.0,575.6 104.8,570.1 96.5,561.8 88.3,553.6" fill="#cc1a1c" /><polygon points="82.1,543.9 89.0,546.0 96.5,540.5 102.0,549.4 110.3,556.3 117.2,547.4 124.1,548.7 135.1,537.0 141.3,530.1 148.8,521.2 155.0,523.3 155.5,525.3 161.0,532.9 167.9,537.0 176.2,541.9 189.9,543.9 198.2,537.7 205.1,536.3 212.0,531.5 217.5,524.6 224.4,526.7 218.8,530.1 214.7,537.0 207.8,545.3 200.9,554.9 196.8,560.4 192.7,567.3 187.2,574.2 180.3,581.1 174.8,588.0 171.8,590.8 166.5,600.6 156.0,605.2 146.8,609.2 136.3,603.9 129.7,597.3 124.1,588.0 119.9,581.1 113.0,575.6 104.8,570.1 96.5,561.8 88.3,553.6" fill="url(#pg118)" /><g clip-path="url(#sc119)"><ellipse cx="220.0" cy="526.0" rx="8.0" ry="5.0" fill="url(#dk121)"/><polygon points="92.0,557.0 105.0,556.0 110.3,556.3 117.2,547.4 124.1,548.7 135.1,537.0 195.0,537.0 196.8,560.4 196.8,568.4 194.1,562.9 188.6,567.1 183.0,565.7 174.1,568.4 167.9,551.9 160.0,555.4 151.6,557.4 142.0,560.2 135.1,574.6 125.4,570.5 118.6,572.6 110.3,564.3 104.8,568.4 98.0,570.0 92.0,565.0" fill="url(#rg122)" /><polygon points="92.0,557.0 98.0,562.0 104.8,560.4 110.3,556.3 118.6,564.6 125.4,562.5 135.1,566.6 142.0,552.2 151.6,549.4 160.0,547.4 167.9,543.9 174.1,560.4 183.0,557.7 188.6,559.1 194.1,554.9 196.8,560.4 192.7,567.3 187.2,574.2 180.3,581.1 174.8,588.0 171.8,590.8 166.5,600.6 156.0,605.2 146.8,609.2 136.3,603.9 129.7,597.3 124.1,588.0 119.9,581.1 113.0,575.6 104.8,570.1 96.5,561.8" fill="url(#rg123)" /><polyline points="92.0,557.0 98.0,562.0 104.8,560.4 110.3,556.3 118.6,564.6 125.4,562.5 135.1,566.6 142.0,552.2 151.6,549.4 160.0,547.4 167.9,543.9 174.1,560.4 183.0,557.7 188.6,559.1 194.1,554.9 196.8,560.4" fill="none" stroke="#7a0c12" stroke-width="1.2" stroke-opacity="0.45" stroke-linejoin="round"/></g><rect x="226.9" y="522.0" width="5.3" height="89.9" fill="url(#lg124)"/><text x="232.8" y="524.6" font-family="Liberation Sans" font-size="7" font-weight="normal" fill="#1a1a1a" text-anchor="start" stroke="#1a1a1a" stroke-width="0.25">2.02M</text><text x="232.8" y="542.6" font-family="Liberation Sans" font-size="7" font-weight="normal" fill="#1a1a1a" text-anchor="start" stroke="#1a1a1a" stroke-width="0.25">1.98M</text><text x="232.8" y="560.6" font-family="Liberation Sans" font-size="7" font-weight="normal" fill="#1a1a1a" text-anchor="start" stroke="#1a1a1a" stroke-width="0.25">1.94M</text><text x="232.8" y="578.5" font-family="Liberation Sans" font-size="7" font-weight="normal" fill="#1a1a1a" text-anchor="start" stroke="#1a1a1a" stroke-width="0.25">1.90M</text><text x="232.8" y="596.5" font-family="Liberation Sans" font-size="7" font-weight="normal" fill="#1a1a1a" text-anchor="start" stroke="#1a1a1a" stroke-width="0.25">1.86M</text><text x="232.8" y="614.5" font-family="Liberation Sans" font-size="7" font-weight="normal" fill="#1a1a1a" text-anchor="start" stroke="#1a1a1a" stroke-width="0.25">1.82M</text><text x="100.6" y="644.1" font-family="Liberation Sans" font-size="10.3" font-weight="normal" fill="#222" text-anchor="start" >X/mm</text><text x="202.4" y="636.8" font-family="Liberation Sans" font-size="10.3" font-weight="normal" fill="#222" text-anchor="start" >Y/mm</text><text x="46.4" y="582.6" font-family="Liberation Sans" font-size="10.5" font-weight="normal" fill="#333" text-anchor="start" >|Z|</text><ellipse cx="155.9" cy="648.4" rx="2.6" ry="1.1" fill="none" stroke="#555" stroke-width="0.7"/><ellipse cx="164.9" cy="648.2" rx="2.6" ry="1.1" fill="none" stroke="#555" stroke-width="0.7" transform="rotate(-18 164.9 648.2)"/><line x1="114.0" y1="633.1" x2="117.0" y2="632.5" stroke="#555" stroke-width="0.6" /><line x1="196.0" y1="631.8" x2="198.6" y2="630.4" stroke="#555" stroke-width="0.6" /><line x1="77.0" y1="619.9" x2="79.4" y2="619.5" stroke="#555" stroke-width="0.6" /><line x1="220.9" y1="616.1" x2="223.2" y2="615.8" stroke="#555" stroke-width="0.6" /><line x1="296.2" y1="533.1" x2="363.7" y2="521.0" stroke="#e4e4e4" stroke-width="0.6" /><line x1="363.7" y1="521.0" x2="439.5" y2="531.4" stroke="#e4e4e4" stroke-width="0.6" /><line x1="296.8" y1="547.5" x2="363.7" y2="533.5" stroke="#e4e4e4" stroke-width="0.6" /><line x1="363.7" y1="533.5" x2="438.8" y2="545.5" stroke="#e4e4e4" stroke-width="0.6" /><line x1="297.4" y1="562.5" x2="363.7" y2="546.5" stroke="#e4e4e4" stroke-width="0.6" /><line x1="363.7" y1="546.5" x2="438.2" y2="560.2" stroke="#e4e4e4" stroke-width="0.6" /><line x1="298.0" y1="577.8" x2="363.7" y2="559.8" stroke="#e4e4e4" stroke-width="0.6" /><line x1="363.7" y1="559.8" x2="437.5" y2="575.3" stroke="#e4e4e4" stroke-width="0.6" /><line x1="298.6" y1="591.8" x2="363.7" y2="571.9" stroke="#e4e4e4" stroke-width="0.6" /><line x1="363.7" y1="571.9" x2="436.8" y2="589.0" stroke="#e4e4e4" stroke-width="0.6" /><line x1="299.2" y1="606.2" x2="363.7" y2="584.4" stroke="#e4e4e4" stroke-width="0.6" /><line x1="363.7" y1="584.4" x2="436.2" y2="603.1" stroke="#e4e4e4" stroke-width="0.6" /><line x1="332.8" y1="516.4" x2="334.6" y2="605.8" stroke="#e4e4e4" stroke-width="0.6" /><line x1="399.2" y1="515.8" x2="397.1" y2="604.5" stroke="#e4e4e4" stroke-width="0.6" /><line x1="295.8" y1="522.2" x2="363.7" y2="511.5" stroke="#8a8a8a" stroke-width="0.7" /><line x1="363.7" y1="511.5" x2="440.0" y2="520.7" stroke="#9a9a9a" stroke-width="0.7" /><line x1="363.7" y1="511.5" x2="363.7" y2="595.2" stroke="#c8c8c8" stroke-width="0.6" /><line x1="440.0" y1="520.7" x2="435.6" y2="615.3" stroke="#cacaca" stroke-width="0.6" /><polygon points="299.7,618.6 375.0,646.6 435.6,615.3 363.7,595.2" fill="#cc1a1c" /><g clip-path="url(#clip125)"><ellipse cx="299.7" cy="618.6" rx="22.4" ry="9.8" fill="url(#rg126)" opacity="0.8"/><ellipse cx="375.0" cy="646.6" rx="19.2" ry="8.4" fill="url(#rg127)" opacity="0.8"/><ellipse cx="435.6" cy="615.3" rx="16.0" ry="7.0" fill="url(#rg128)" opacity="0.8"/><ellipse cx="366.4" cy="617.7" rx="52.2" ry="17.8" fill="url(#rg129)"/></g><polyline points="299.7,618.6 375.0,646.6 435.6,615.3" fill="none" stroke="#6a0a0e" stroke-width="0.6" opacity="0.8"/><line x1="295.8" y1="522.2" x2="299.7" y2="618.6" stroke="#333" stroke-width="1.0" /><line x1="294.0" y1="533.4" x2="296.2" y2="533.1" stroke="#333" stroke-width="0.8" /><text x="0.0" y="0.0" font-family="Liberation Sans" font-size="7.6" font-weight="normal" fill="#222" text-anchor="end" transform="translate(293.6,536.5) skewY(-9) scale(0.8,1)" stroke="#222" stroke-width="0.3">1.96E6</text><line x1="294.6" y1="547.8" x2="296.8" y2="547.5" stroke="#333" stroke-width="0.8" /><text x="0.0" y="0.0" font-family="Liberation Sans" font-size="7.6" font-weight="normal" fill="#222" text-anchor="end" transform="translate(294.2,550.9) skewY(-9) scale(0.8,1)" stroke="#222" stroke-width="0.3">1.93E6</text><line x1="295.2" y1="562.8" x2="297.4" y2="562.5" stroke="#333" stroke-width="0.8" /><text x="0.0" y="0.0" font-family="Liberation Sans" font-size="7.6" font-weight="normal" fill="#222" text-anchor="end" transform="translate(294.8,565.9) skewY(-9) scale(0.8,1)" stroke="#222" stroke-width="0.3">1.89E6</text><line x1="295.8" y1="578.1" x2="298.0" y2="577.8" stroke="#333" stroke-width="0.8" /><text x="0.0" y="0.0" font-family="Liberation Sans" font-size="7.6" font-weight="normal" fill="#222" text-anchor="end" transform="translate(295.4,581.2) skewY(-9) scale(0.8,1)" stroke="#222" stroke-width="0.3">1.86E6</text><line x1="296.4" y1="592.1" x2="298.6" y2="591.8" stroke="#333" stroke-width="0.8" /><text x="0.0" y="0.0" font-family="Liberation Sans" font-size="7.6" font-weight="normal" fill="#222" text-anchor="end" transform="translate(296.0,595.2) skewY(-9) scale(0.8,1)" stroke="#222" stroke-width="0.3">1.82E6</text><line x1="297.0" y1="606.5" x2="299.2" y2="606.2" stroke="#333" stroke-width="0.8" /><text x="0.0" y="0.0" font-family="Liberation Sans" font-size="7.6" font-weight="normal" fill="#222" text-anchor="end" transform="translate(296.6,609.6) skewY(-9) scale(0.8,1)" stroke="#222" stroke-width="0.3">1.78E6</text><polygon points="297.8,546.7 303.3,550.8 308.8,554.9 314.3,559.1 319.8,555.6 339.1,555.6 345.9,548.0 351.5,538.4 357.0,536.3 363.8,530.8 370.0,525.3 377.4,528.8 384.3,543.9 398.0,552.2 406.3,546.7 413.2,548.0 422.8,546.0 431.1,541.2 438.0,541.2 433.8,548.0 427.0,554.9 420.1,561.8 413.2,567.3 406.3,572.8 400.8,579.7 396.7,588.0 392.5,594.9 390.2,597.2 383.0,601.2 380.0,606.3 377.9,610.4 367.7,608.4 355.4,606.3 349.3,599.2 344.6,590.7 339.1,582.5 333.6,577.0 328.0,572.8 318.4,567.3 312.9,560.4 303.3,552.2" fill="#cc1a1c" /><polygon points="297.8,546.7 303.3,550.8 308.8,554.9 314.3,559.1 319.8,555.6 339.1,555.6 345.9,548.0 351.5,538.4 357.0,536.3 363.8,530.8 370.0,525.3 377.4,528.8 384.3,543.9 398.0,552.2 406.3,546.7 413.2,548.0 422.8,546.0 431.1,541.2 438.0,541.2 433.8,548.0 427.0,554.9 420.1,561.8 413.2,567.3 406.3,572.8 400.8,579.7 396.7,588.0 392.5,594.9 390.2,597.2 383.0,601.2 380.0,606.3 377.9,610.4 367.7,608.4 355.4,606.3 349.3,599.2 344.6,590.7 339.1,582.5 333.6,577.0 328.0,572.8 318.4,567.3 312.9,560.4 303.3,552.2" fill="url(#pg130)" /><g clip-path="url(#sc131)"><ellipse cx="435.0" cy="542.0" rx="8.0" ry="4.0" fill="url(#dk133)"/><polygon points="315.7,567.3 314.3,559.1 319.8,555.6 339.1,555.6 345.9,548.0 351.5,538.4 400.0,540.0 413.2,567.3 413.2,575.3 411.8,572.6 403.6,577.4 396.7,580.1 389.8,575.3 378.8,571.9 375.0,571.2 366.6,570.5 358.3,583.6 341.8,585.6 332.2,578.1 325.3,579.5 315.7,575.3" fill="url(#rg134)" /><polygon points="315.7,567.3 325.3,571.5 332.2,570.1 341.8,577.6 358.3,575.6 366.6,562.5 375.0,563.2 378.8,563.9 389.8,567.3 396.7,572.1 403.6,569.4 411.8,564.6 413.2,567.3 406.3,572.8 400.8,579.7 396.7,588.0 392.5,594.9 390.2,597.2 383.0,601.2 380.0,606.3 377.9,610.4 367.7,608.4 355.4,606.3 349.3,599.2 344.6,590.7 339.1,582.5 333.6,577.0 328.0,572.8" fill="url(#rg135)" /><polyline points="315.7,567.3 325.3,571.5 332.2,570.1 341.8,577.6 358.3,575.6 366.6,562.5 375.0,563.2 378.8,563.9 389.8,567.3 396.7,572.1 403.6,569.4 411.8,564.6 413.2,567.3" fill="none" stroke="#7a0c12" stroke-width="1.2" stroke-opacity="0.45" stroke-linejoin="round"/></g><rect x="442.2" y="522.0" width="5.3" height="89.9" fill="url(#lg136)"/><text x="448.1" y="524.6" font-family="Liberation Sans" font-size="7" font-weight="normal" fill="#1a1a1a" text-anchor="start" stroke="#1a1a1a" stroke-width="0.25">1.95M</text><text x="448.1" y="542.6" font-family="Liberation Sans" font-size="7" font-weight="normal" fill="#1a1a1a" text-anchor="start" stroke="#1a1a1a" stroke-width="0.25">1.91M</text><text x="448.1" y="560.6" font-family="Liberation Sans" font-size="7" font-weight="normal" fill="#1a1a1a" text-anchor="start" stroke="#1a1a1a" stroke-width="0.25">1.88M</text><text x="448.1" y="578.5" font-family="Liberation Sans" font-size="7" font-weight="normal" fill="#1a1a1a" text-anchor="start" stroke="#1a1a1a" stroke-width="0.25">1.84M</text><text x="448.1" y="596.5" font-family="Liberation Sans" font-size="7" font-weight="normal" fill="#1a1a1a" text-anchor="start" stroke="#1a1a1a" stroke-width="0.25">1.81M</text><text x="448.1" y="614.5" font-family="Liberation Sans" font-size="7" font-weight="normal" fill="#1a1a1a" text-anchor="start" stroke="#1a1a1a" stroke-width="0.25">1.77M</text><text x="315.9" y="644.1" font-family="Liberation Sans" font-size="10.3" font-weight="normal" fill="#222" text-anchor="start" >X/mm</text><text x="417.7" y="636.8" font-family="Liberation Sans" font-size="10.3" font-weight="normal" fill="#222" text-anchor="start" >Y/mm</text><text x="261.9" y="578.6" font-family="Liberation Sans" font-size="10.5" font-weight="normal" fill="#333" text-anchor="start" >|Z|</text><ellipse cx="371.2" cy="648.4" rx="2.6" ry="1.1" fill="none" stroke="#555" stroke-width="0.7"/><ellipse cx="380.2" cy="648.2" rx="2.6" ry="1.1" fill="none" stroke="#555" stroke-width="0.7" transform="rotate(-18 380.2 648.2)"/><line x1="329.3" y1="633.1" x2="332.3" y2="632.5" stroke="#555" stroke-width="0.6" /><line x1="411.3" y1="631.8" x2="413.9" y2="630.4" stroke="#555" stroke-width="0.6" /><line x1="292.3" y1="619.9" x2="294.7" y2="619.5" stroke="#555" stroke-width="0.6" /><line x1="436.2" y1="616.1" x2="438.5" y2="615.8" stroke="#555" stroke-width="0.6" /><line x1="511.9" y1="533.1" x2="579.4" y2="521.0" stroke="#e4e4e4" stroke-width="0.6" /><line x1="579.4" y1="521.0" x2="655.2" y2="531.4" stroke="#e4e4e4" stroke-width="0.6" /><line x1="512.7" y1="551.6" x2="579.4" y2="537.0" stroke="#e4e4e4" stroke-width="0.6" /><line x1="579.4" y1="537.0" x2="654.4" y2="549.6" stroke="#e4e4e4" stroke-width="0.6" /><line x1="513.4" y1="569.3" x2="579.4" y2="552.4" stroke="#e4e4e4" stroke-width="0.6" /><line x1="579.4" y1="552.4" x2="653.6" y2="566.9" stroke="#e4e4e4" stroke-width="0.6" /><line x1="514.1" y1="586.9" x2="579.4" y2="567.7" stroke="#e4e4e4" stroke-width="0.6" /><line x1="579.4" y1="567.7" x2="652.7" y2="584.2" stroke="#e4e4e4" stroke-width="0.6" /><line x1="514.8" y1="604.6" x2="579.4" y2="583.0" stroke="#e4e4e4" stroke-width="0.6" /><line x1="579.4" y1="583.0" x2="651.9" y2="601.6" stroke="#e4e4e4" stroke-width="0.6" /><line x1="548.5" y1="516.4" x2="550.3" y2="605.8" stroke="#e4e4e4" stroke-width="0.6" /><line x1="614.9" y1="515.8" x2="612.8" y2="604.5" stroke="#e4e4e4" stroke-width="0.6" /><line x1="511.5" y1="522.2" x2="579.4" y2="511.5" stroke="#8a8a8a" stroke-width="0.7" /><line x1="579.4" y1="511.5" x2="655.7" y2="520.7" stroke="#9a9a9a" stroke-width="0.7" /><line x1="579.4" y1="511.5" x2="579.4" y2="595.2" stroke="#c8c8c8" stroke-width="0.6" /><line x1="655.7" y1="520.7" x2="651.3" y2="615.3" stroke="#cacaca" stroke-width="0.6" /><polygon points="515.4,618.6 590.7,646.6 651.3,615.3 579.4,595.2" fill="#cc1a1c" /><g clip-path="url(#clip137)"><ellipse cx="515.4" cy="618.6" rx="22.4" ry="9.8" fill="url(#rg138)" opacity="0.8"/><ellipse cx="590.7" cy="646.6" rx="19.2" ry="8.4" fill="url(#rg139)" opacity="0.8"/><ellipse cx="651.3" cy="615.3" rx="16.0" ry="7.0" fill="url(#rg140)" opacity="0.8"/><ellipse cx="580.4" cy="617.7" rx="48.9" ry="17.8" fill="url(#rg141)"/></g><polyline points="515.4,618.6 590.7,646.6 651.3,615.3" fill="none" stroke="#6a0a0e" stroke-width="0.6" opacity="0.8"/><line x1="511.5" y1="522.2" x2="515.4" y2="618.6" stroke="#333" stroke-width="1.0" /><line x1="509.7" y1="533.4" x2="511.9" y2="533.1" stroke="#333" stroke-width="0.8" /><text x="0.0" y="0.0" font-family="Liberation Sans" font-size="7.6" font-weight="normal" fill="#222" text-anchor="end" transform="translate(509.3,536.5) skewY(-9) scale(0.8,1)" stroke="#222" stroke-width="0.3">2.0E6</text><line x1="510.5" y1="551.9" x2="512.7" y2="551.6" stroke="#333" stroke-width="0.8" /><text x="0.0" y="0.0" font-family="Liberation Sans" font-size="7.6" font-weight="normal" fill="#222" text-anchor="end" transform="translate(510.1,555.0) skewY(-9) scale(0.8,1)" stroke="#222" stroke-width="0.3">2.0E6</text><line x1="511.2" y1="569.6" x2="513.4" y2="569.3" stroke="#333" stroke-width="0.8" /><text x="0.0" y="0.0" font-family="Liberation Sans" font-size="7.6" font-weight="normal" fill="#222" text-anchor="end" transform="translate(510.8,572.7) skewY(-9) scale(0.8,1)" stroke="#222" stroke-width="0.3">2.0E6</text><line x1="511.9" y1="587.2" x2="514.1" y2="586.9" stroke="#333" stroke-width="0.8" /><text x="0.0" y="0.0" font-family="Liberation Sans" font-size="7.6" font-weight="normal" fill="#222" text-anchor="end" transform="translate(511.5,590.3) skewY(-9) scale(0.8,1)" stroke="#222" stroke-width="0.3">1.9E6</text><line x1="512.6" y1="604.9" x2="514.8" y2="604.6" stroke="#333" stroke-width="0.8" /><text x="0.0" y="0.0" font-family="Liberation Sans" font-size="7.6" font-weight="normal" fill="#222" text-anchor="end" transform="translate(512.2,608.0) skewY(-9) scale(0.8,1)" stroke="#222" stroke-width="0.3">1.9E6</text><polygon points="513.4,559.1 520.3,545.3 527.9,548.0 534.8,561.8 544.4,554.9 554.1,546.7 560.9,535.7 567.8,536.3 578.8,526.0 585.0,525.3 593.1,534.3 600.0,521.2 606.2,541.2 613.0,544.6 621.3,544.6 629.6,539.1 637.8,539.8 647.5,527.4 654.4,532.2 647.5,537.0 643.3,545.3 635.1,553.6 628.2,559.1 621.3,564.6 615.8,572.8 610.3,579.7 604.8,586.6 599.3,593.5 597.0,593.5 593.5,600.5 588.3,605.8 577.8,609.3 572.5,604.9 566.4,597.9 562.3,593.5 556.8,586.6 551.3,581.1 544.4,575.6 538.9,570.1 534.8,566.0 527.9,563.9 523.8,560.4" fill="#cc1a1c" /><polygon points="513.4,559.1 520.3,545.3 527.9,548.0 534.8,561.8 544.4,554.9 554.1,546.7 560.9,535.7 567.8,536.3 578.8,526.0 585.0,525.3 593.1,534.3 600.0,521.2 606.2,541.2 613.0,544.6 621.3,544.6 629.6,539.1 637.8,539.8 647.5,527.4 654.4,532.2 647.5,537.0 643.3,545.3 635.1,553.6 628.2,559.1 621.3,564.6 615.8,572.8 610.3,579.7 604.8,586.6 599.3,593.5 597.0,593.5 593.5,600.5 588.3,605.8 577.8,609.3 572.5,604.9 566.4,597.9 562.3,593.5 556.8,586.6 551.3,581.1 544.4,575.6 538.9,570.1 534.8,566.0 527.9,563.9 523.8,560.4" fill="url(#pg142)" /><g clip-path="url(#sc143)"><ellipse cx="650.0" cy="530.0" rx="8.0" ry="5.0" fill="url(#dk145)"/><ellipse cx="600.0" cy="524.0" rx="5.0" ry="6.0" fill="url(#dk147)"/><polygon points="537.5,570.1 534.8,561.8 544.4,554.9 554.1,546.7 560.9,535.7 625.0,538.0 628.2,559.1 628.2,567.1 625.4,568.4 621.3,569.8 613.0,571.2 602.0,575.3 599.3,570.5 588.3,569.8 581.6,569.8 573.3,580.8 565.1,583.6 556.8,575.3 547.2,577.4 537.5,578.1" fill="url(#rg148)" /><polygon points="537.5,570.1 547.2,569.4 556.8,567.3 565.1,575.6 573.3,572.8 581.6,561.8 588.3,561.8 599.3,562.5 602.0,567.3 613.0,563.2 621.3,561.8 625.4,560.4 628.2,559.1 621.3,564.6 615.8,572.8 610.3,579.7 604.8,586.6 599.3,593.5 597.0,593.5 593.5,600.5 588.3,605.8 577.8,609.3 572.5,604.9 566.4,597.9 562.3,593.5 556.8,586.6 551.3,581.1 544.4,575.6" fill="url(#rg149)" /><polyline points="537.5,570.1 547.2,569.4 556.8,567.3 565.1,575.6 573.3,572.8 581.6,561.8 588.3,561.8 599.3,562.5 602.0,567.3 613.0,563.2 621.3,561.8 625.4,560.4 628.2,559.1" fill="none" stroke="#7a0c12" stroke-width="1.2" stroke-opacity="0.45" stroke-linejoin="round"/></g><rect x="657.9" y="522.0" width="5.3" height="89.9" fill="url(#lg150)"/><text x="663.8" y="524.6" font-family="Liberation Sans" font-size="7" font-weight="normal" fill="#1a1a1a" text-anchor="start" stroke="#1a1a1a" stroke-width="0.25">2.06M</text><text x="663.8" y="542.6" font-family="Liberation Sans" font-size="7" font-weight="normal" fill="#1a1a1a" text-anchor="start" stroke="#1a1a1a" stroke-width="0.25">2.01M</text><text x="663.8" y="560.6" font-family="Liberation Sans" font-size="7" font-weight="normal" fill="#1a1a1a" text-anchor="start" stroke="#1a1a1a" stroke-width="0.25">1.97M</text><text x="663.8" y="578.5" font-family="Liberation Sans" font-size="7" font-weight="normal" fill="#1a1a1a" text-anchor="start" stroke="#1a1a1a" stroke-width="0.25">1.92M</text><text x="663.8" y="596.5" font-family="Liberation Sans" font-size="7" font-weight="normal" fill="#1a1a1a" text-anchor="start" stroke="#1a1a1a" stroke-width="0.25">1.88M</text><text x="663.8" y="614.5" font-family="Liberation Sans" font-size="7" font-weight="normal" fill="#1a1a1a" text-anchor="start" stroke="#1a1a1a" stroke-width="0.25">1.84M</text><text x="531.6" y="644.1" font-family="Liberation Sans" font-size="10.3" font-weight="normal" fill="#222" text-anchor="start" >X/mm</text><text x="633.4" y="636.8" font-family="Liberation Sans" font-size="10.3" font-weight="normal" fill="#222" text-anchor="start" >Y/mm</text><text x="480.0" y="574.6" font-family="Liberation Sans" font-size="10.5" font-weight="normal" fill="#333" text-anchor="start" >|Z|</text><ellipse cx="586.9" cy="648.4" rx="2.6" ry="1.1" fill="none" stroke="#555" stroke-width="0.7"/><ellipse cx="595.9" cy="648.2" rx="2.6" ry="1.1" fill="none" stroke="#555" stroke-width="0.7" transform="rotate(-18 595.9 648.2)"/><line x1="545.0" y1="633.1" x2="548.0" y2="632.5" stroke="#555" stroke-width="0.6" /><line x1="627.0" y1="631.8" x2="629.6" y2="630.4" stroke="#555" stroke-width="0.6" /><line x1="508.0" y1="619.9" x2="510.4" y2="619.5" stroke="#555" stroke-width="0.6" /><line x1="651.9" y1="616.1" x2="654.2" y2="615.8" stroke="#555" stroke-width="0.6" /><text x="140.6" y="17.2" font-family="Liberation Sans" font-size="19.3" font-weight="normal" fill="#111" text-anchor="start" >1h</text><text x="349.6" y="17.1" font-family="Liberation Sans" font-size="19.3" font-weight="normal" fill="#111" text-anchor="start" >12h</text><text x="564.9" y="17.1" font-family="Liberation Sans" font-size="19.3" font-weight="normal" fill="#111" text-anchor="start" >24h</text><text x="2.2" y="89.6" font-family="Liberation Serif" font-size="20.3" font-weight="bold" fill="#111" text-anchor="start" >(a)</text><text x="2.2" y="251.6" font-family="Liberation Serif" font-size="20.3" font-weight="bold" fill="#111" text-anchor="start" >(b)</text><text x="2.2" y="413.6" font-family="Liberation Serif" font-size="20.3" font-weight="bold" fill="#111" text-anchor="start" >(c)</text><text x="2.2" y="575.9" font-family="Liberation Serif" font-size="20.3" font-weight="bold" fill="#111" text-anchor="start" >(d)</text></svg></body></html>
